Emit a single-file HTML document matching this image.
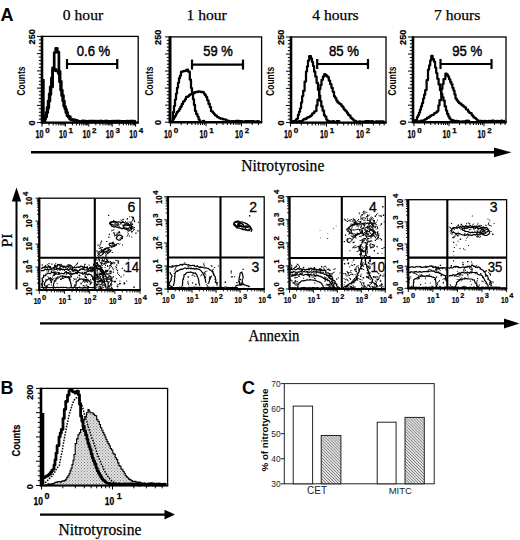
<!DOCTYPE html>
<html><head><meta charset="utf-8"><style>
html,body{margin:0;padding:0;background:#fff;width:520px;height:540px;overflow:hidden}
svg{display:block}
</style></head><body>
<svg width="520" height="540" viewBox="0 0 520 540">
<rect width="520" height="540" fill="#fff"/>
<text x="0.5" y="21" font-family='"Liberation Sans", sans-serif' font-size="18" font-weight="bold" text-anchor="start">A</text>
<text x="0.5" y="394" font-family='"Liberation Sans", sans-serif' font-size="18" font-weight="bold" text-anchor="start">B</text>
<text x="242" y="394" font-family='"Liberation Sans", sans-serif' font-size="18" font-weight="bold" text-anchor="start">C</text>
<text x="83" y="20.0" font-family='"Liberation Serif", serif' font-size="15.6" font-weight="normal" text-anchor="middle" stroke="#000" stroke-width="0.25">0 hour</text>
<text x="206.6" y="20.0" font-family='"Liberation Serif", serif' font-size="15.6" font-weight="normal" text-anchor="middle" stroke="#000" stroke-width="0.25">1 hour</text>
<text x="335.5" y="20.0" font-family='"Liberation Serif", serif' font-size="15.6" font-weight="normal" text-anchor="middle" stroke="#000" stroke-width="0.25">4 hours</text>
<text x="457.2" y="20.0" font-family='"Liberation Serif", serif' font-size="15.6" font-weight="normal" text-anchor="middle" stroke="#000" stroke-width="0.25">7 hours</text>
<rect x="42" y="36.4" width="96.19999999999999" height="86.19999999999999" fill="none" stroke="#000" stroke-width="1.3"/>
<line x1="42.00" y1="35.80" x2="42.00" y2="123.60" stroke="#000" stroke-width="2.6"/>
<line x1="41.50" y1="122.60" x2="138.80" y2="122.60" stroke="#000" stroke-width="2.4"/>
<line x1="37.00" y1="122.60" x2="42.00" y2="122.60" stroke="#000" stroke-width="1.0"/>
<line x1="38.80" y1="119.15" x2="42.00" y2="119.15" stroke="#000" stroke-width="1.0"/>
<line x1="38.80" y1="115.70" x2="42.00" y2="115.70" stroke="#000" stroke-width="1.0"/>
<line x1="38.80" y1="112.26" x2="42.00" y2="112.26" stroke="#000" stroke-width="1.0"/>
<line x1="38.80" y1="108.81" x2="42.00" y2="108.81" stroke="#000" stroke-width="1.0"/>
<line x1="37.00" y1="105.36" x2="42.00" y2="105.36" stroke="#000" stroke-width="1.0"/>
<line x1="38.80" y1="101.91" x2="42.00" y2="101.91" stroke="#000" stroke-width="1.0"/>
<line x1="38.80" y1="98.46" x2="42.00" y2="98.46" stroke="#000" stroke-width="1.0"/>
<line x1="38.80" y1="95.02" x2="42.00" y2="95.02" stroke="#000" stroke-width="1.0"/>
<line x1="38.80" y1="91.57" x2="42.00" y2="91.57" stroke="#000" stroke-width="1.0"/>
<line x1="37.00" y1="88.12" x2="42.00" y2="88.12" stroke="#000" stroke-width="1.0"/>
<line x1="38.80" y1="84.67" x2="42.00" y2="84.67" stroke="#000" stroke-width="1.0"/>
<line x1="38.80" y1="81.22" x2="42.00" y2="81.22" stroke="#000" stroke-width="1.0"/>
<line x1="38.80" y1="77.78" x2="42.00" y2="77.78" stroke="#000" stroke-width="1.0"/>
<line x1="38.80" y1="74.33" x2="42.00" y2="74.33" stroke="#000" stroke-width="1.0"/>
<line x1="37.00" y1="70.88" x2="42.00" y2="70.88" stroke="#000" stroke-width="1.0"/>
<line x1="38.80" y1="67.43" x2="42.00" y2="67.43" stroke="#000" stroke-width="1.0"/>
<line x1="38.80" y1="63.98" x2="42.00" y2="63.98" stroke="#000" stroke-width="1.0"/>
<line x1="38.80" y1="60.54" x2="42.00" y2="60.54" stroke="#000" stroke-width="1.0"/>
<line x1="38.80" y1="57.09" x2="42.00" y2="57.09" stroke="#000" stroke-width="1.0"/>
<line x1="37.00" y1="53.64" x2="42.00" y2="53.64" stroke="#000" stroke-width="1.0"/>
<line x1="38.80" y1="50.19" x2="42.00" y2="50.19" stroke="#000" stroke-width="1.0"/>
<line x1="38.80" y1="46.74" x2="42.00" y2="46.74" stroke="#000" stroke-width="1.0"/>
<line x1="38.80" y1="43.30" x2="42.00" y2="43.30" stroke="#000" stroke-width="1.0"/>
<line x1="38.80" y1="39.85" x2="42.00" y2="39.85" stroke="#000" stroke-width="1.0"/>
<line x1="37.00" y1="36.40" x2="42.00" y2="36.40" stroke="#000" stroke-width="1.0"/>
<line x1="42.00" y1="122.60" x2="42.00" y2="126.60" stroke="#000" stroke-width="1.0"/>
<line x1="49.04" y1="122.60" x2="49.04" y2="125.40" stroke="#000" stroke-width="1.0"/>
<line x1="53.16" y1="122.60" x2="53.16" y2="125.40" stroke="#000" stroke-width="1.0"/>
<line x1="56.09" y1="122.60" x2="56.09" y2="125.40" stroke="#000" stroke-width="1.0"/>
<line x1="58.36" y1="122.60" x2="58.36" y2="125.40" stroke="#000" stroke-width="1.0"/>
<line x1="60.21" y1="122.60" x2="60.21" y2="125.40" stroke="#000" stroke-width="1.0"/>
<line x1="61.78" y1="122.60" x2="61.78" y2="125.40" stroke="#000" stroke-width="1.0"/>
<line x1="63.13" y1="122.60" x2="63.13" y2="125.40" stroke="#000" stroke-width="1.0"/>
<line x1="64.33" y1="122.60" x2="64.33" y2="125.40" stroke="#000" stroke-width="1.0"/>
<line x1="65.40" y1="122.60" x2="65.40" y2="126.60" stroke="#000" stroke-width="1.0"/>
<line x1="72.44" y1="122.60" x2="72.44" y2="125.40" stroke="#000" stroke-width="1.0"/>
<line x1="76.56" y1="122.60" x2="76.56" y2="125.40" stroke="#000" stroke-width="1.0"/>
<line x1="79.49" y1="122.60" x2="79.49" y2="125.40" stroke="#000" stroke-width="1.0"/>
<line x1="81.76" y1="122.60" x2="81.76" y2="125.40" stroke="#000" stroke-width="1.0"/>
<line x1="83.61" y1="122.60" x2="83.61" y2="125.40" stroke="#000" stroke-width="1.0"/>
<line x1="85.18" y1="122.60" x2="85.18" y2="125.40" stroke="#000" stroke-width="1.0"/>
<line x1="86.53" y1="122.60" x2="86.53" y2="125.40" stroke="#000" stroke-width="1.0"/>
<line x1="87.73" y1="122.60" x2="87.73" y2="125.40" stroke="#000" stroke-width="1.0"/>
<line x1="88.80" y1="122.60" x2="88.80" y2="126.60" stroke="#000" stroke-width="1.0"/>
<line x1="95.84" y1="122.60" x2="95.84" y2="125.40" stroke="#000" stroke-width="1.0"/>
<line x1="99.96" y1="122.60" x2="99.96" y2="125.40" stroke="#000" stroke-width="1.0"/>
<line x1="102.89" y1="122.60" x2="102.89" y2="125.40" stroke="#000" stroke-width="1.0"/>
<line x1="105.16" y1="122.60" x2="105.16" y2="125.40" stroke="#000" stroke-width="1.0"/>
<line x1="107.01" y1="122.60" x2="107.01" y2="125.40" stroke="#000" stroke-width="1.0"/>
<line x1="108.58" y1="122.60" x2="108.58" y2="125.40" stroke="#000" stroke-width="1.0"/>
<line x1="109.93" y1="122.60" x2="109.93" y2="125.40" stroke="#000" stroke-width="1.0"/>
<line x1="111.13" y1="122.60" x2="111.13" y2="125.40" stroke="#000" stroke-width="1.0"/>
<line x1="112.20" y1="122.60" x2="112.20" y2="126.60" stroke="#000" stroke-width="1.0"/>
<line x1="119.24" y1="122.60" x2="119.24" y2="125.40" stroke="#000" stroke-width="1.0"/>
<line x1="123.36" y1="122.60" x2="123.36" y2="125.40" stroke="#000" stroke-width="1.0"/>
<line x1="126.29" y1="122.60" x2="126.29" y2="125.40" stroke="#000" stroke-width="1.0"/>
<line x1="128.56" y1="122.60" x2="128.56" y2="125.40" stroke="#000" stroke-width="1.0"/>
<line x1="130.41" y1="122.60" x2="130.41" y2="125.40" stroke="#000" stroke-width="1.0"/>
<line x1="131.98" y1="122.60" x2="131.98" y2="125.40" stroke="#000" stroke-width="1.0"/>
<line x1="133.33" y1="122.60" x2="133.33" y2="125.40" stroke="#000" stroke-width="1.0"/>
<line x1="134.53" y1="122.60" x2="134.53" y2="125.40" stroke="#000" stroke-width="1.0"/>
<line x1="135.60" y1="122.60" x2="135.60" y2="126.60" stroke="#000" stroke-width="1.0"/>
<g font-family='"Liberation Sans", sans-serif' font-weight="bold" stroke="#000" stroke-width="0.25"><text x="35.58" y="137.6" font-size="10" textLength="8.00" lengthAdjust="spacingAndGlyphs">10</text><text x="45.18" y="132.80" font-size="8.00">0</text></g>
<g font-family='"Liberation Sans", sans-serif' font-weight="bold" stroke="#000" stroke-width="0.25"><text x="58.98" y="137.6" font-size="10" textLength="8.00" lengthAdjust="spacingAndGlyphs">10</text><text x="68.58" y="132.80" font-size="8.00">1</text></g>
<g font-family='"Liberation Sans", sans-serif' font-weight="bold" stroke="#000" stroke-width="0.25"><text x="82.38" y="137.6" font-size="10" textLength="8.00" lengthAdjust="spacingAndGlyphs">10</text><text x="91.98" y="132.80" font-size="8.00">2</text></g>
<g font-family='"Liberation Sans", sans-serif' font-weight="bold" stroke="#000" stroke-width="0.25"><text x="105.78" y="137.6" font-size="10" textLength="8.00" lengthAdjust="spacingAndGlyphs">10</text><text x="115.38" y="132.80" font-size="8.00">3</text></g>
<g font-family='"Liberation Sans", sans-serif' font-weight="bold" stroke="#000" stroke-width="0.25"><text x="129.18" y="137.6" font-size="10" textLength="8.00" lengthAdjust="spacingAndGlyphs">10</text><text x="138.78" y="132.80" font-size="8.00">4</text></g>
<text x="34.6" y="36.699999999999996" font-family='"Liberation Sans", sans-serif' font-size="9.2" font-weight="bold" text-anchor="middle" transform="rotate(-90 34.6 36.699999999999996)" stroke="#000" stroke-width="0.2">250</text>
<text x="34.6" y="122.89999999999999" font-family='"Liberation Sans", sans-serif' font-size="9.2" font-weight="bold" text-anchor="middle" transform="rotate(-90 34.6 122.89999999999999)" stroke="#000" stroke-width="0.2">0</text>
<text x="24.6" y="81.0" font-family='"Liberation Sans", sans-serif' font-size="10" font-weight="bold" text-anchor="middle" transform="rotate(-90 24.6 81.0)" textLength="29" lengthAdjust="spacingAndGlyphs">Counts</text>
<line x1="43.60" y1="79.00" x2="43.60" y2="122.60" stroke="#000" stroke-width="2.2"/>
<polyline points="43.1,121.4 45.0,121.4 45.0,116.7 46.0,116.7 46.0,112.5 47.1,112.5 47.1,107.3 48.1,107.3 48.1,100.9 49.2,100.9 49.2,93.9 50.2,93.9 50.2,86.8 51.4,86.8 51.4,77.8 52.6,77.8 52.6,67.8 54.2,67.8 54.2,52.5 55.7,52.5 55.7,48.3 57.3,48.3 57.3,52.2 58.9,52.2 58.9,71.4 60.1,71.4 60.1,81.3 61.3,81.3 61.3,90.0 62.3,90.0 62.3,95.4 63.4,95.4 63.4,101.0 64.4,101.0 64.4,106.5 65.5,106.5 65.5,109.3 66.5,109.3 66.5,112.3 67.6,112.3 67.6,116.1 68.9,116.1 68.9,116.5 70.2,116.5 70.2,118.8 71.5,118.8 71.5,119.6 72.6,119.6 72.6,119.7 73.6,119.7 73.6,119.9 74.7,119.9 74.7,120.3 75.8,120.3 75.8,121.0 76.8,121.0 76.8,120.6 77.9,120.6 77.9,121.2 78.9,121.2 78.9,121.5 80.0,121.5 80.0,121.5 81.0,121.5 81.0,121.6 82.0,121.6 82.0,121.2 83.0,121.2 83.0,121.2 84.0,121.2 84.0,121.3 85.0,121.3 85.0,121.8 86.0,121.8 86.0,121.5 87.0,121.5 87.0,121.4 88.0,121.4 88.0,121.7 89.0,121.7 89.0,121.6 90.0,121.6 90.0,121.4 91.0,121.4 91.0,121.9 92.0,121.9 92.0,121.8 93.0,121.8 93.0,121.3 94.0,121.3 94.0,121.7 95.0,121.7 95.0,121.6 96.0,121.6 96.0,122.0 97.0,122.0 97.0,121.8 98.0,121.8 98.0,121.4 99.0,121.4 99.0,122.0 100.0,122.0 100.0,121.2 101.0,121.2 101.0,121.5 102.0,121.5 102.0,121.9 103.0,121.9 103.0,121.3 104.0,121.3 104.0,121.6 105.0,121.6 105.0,121.1 106.0,121.1 106.0,121.8 107.0,121.8 107.0,121.9 108.0,121.9 108.0,121.7 109.0,121.7 109.0,122.0 110.0,122.0 110.0,121.4 111.0,121.4 111.0,121.8 112.0,121.8 112.0,121.7 113.0,121.7 113.0,121.7 114.0,121.7 114.0,121.6 115.0,121.6 115.0,121.9 116.0,121.9 116.0,122.0 117.0,122.0 117.0,121.6 118.0,121.6 118.0,121.8 119.0,121.8 119.0,121.2 120.0,121.2 120.0,121.8 121.0,121.8 121.0,121.7 122.0,121.7 122.0,122.0 123.0,122.0 123.0,121.9 124.0,121.9 124.0,121.4 125.0,121.4 125.0,121.5 126.0,121.5 126.0,121.8 127.0,121.8 127.0,121.1 128.0,121.1 128.0,121.6 129.0,121.6 129.0,121.3 130.0,121.3 130.0,121.2 131.0,121.2 131.0,121.2 132.0,121.2 132.0,121.9 133.0,121.9 133.0,121.2 134.0,121.2 134.0,121.3 135.0,121.3 135.0,121.5 136.0,121.6" fill="none" stroke="#000" stroke-width="2.7" stroke-linejoin="round"/>
<polyline points="43.6,122.0 44.6,122.0 44.6,118.9 45.6,118.9 45.6,116.9 46.7,116.9 46.7,112.4 47.8,112.4 47.8,108.1 48.8,108.1 48.8,101.2 49.9,101.2 49.9,94.4 50.9,94.4 50.9,87.0 52.6,87.0 52.6,70.4 54.5,70.4 54.5,69.4 56.0,69.4 56.0,70.9 57.0,70.9 57.0,71.2 58.0,71.2 58.0,70.7 58.4,70.7 58.4,73.7 59.5,73.7 59.5,81.9 60.6,81.9 60.6,90.1 61.6,90.1 61.6,95.6 62.7,95.6 62.7,101.0 63.7,101.0 63.7,105.9 64.8,105.9 64.8,108.8 65.8,108.8 65.8,112.4 66.9,112.4 66.9,115.5 68.2,115.5 68.2,117.1 69.5,117.1 69.5,118.9 70.8,118.9 70.8,120.0 71.8,120.0 71.8,120.0 72.8,120.0 72.8,120.3 73.9,120.3 73.9,120.6 74.9,120.6 74.9,120.2 75.9,120.2 75.9,121.2 76.9,121.2 76.9,121.3 78.0,121.3 78.0,121.6 79.0,121.6 79.0,121.7 80.0,121.7 80.0,121.5 81.0,121.5 81.0,121.5 82.0,121.5 82.0,121.2 83.0,121.2 83.0,121.7 84.0,121.7 84.0,121.2 85.0,121.2 85.0,121.2 86.0,121.2 86.0,121.3 87.0,121.3 87.0,121.3 88.0,121.3 88.0,121.4 89.0,121.4 89.0,121.2 90.0,121.2 90.0,121.1 91.0,121.1 91.0,121.3 92.0,121.3 92.0,121.2 93.0,121.2 93.0,121.5 94.0,121.5 94.0,121.1 95.0,121.1 95.0,122.0 96.0,122.0 96.0,121.7 97.0,121.7 97.0,121.2 98.0,121.2 98.0,121.4 99.0,121.4 99.0,121.4 100.0,121.4 100.0,121.5 101.0,121.5 101.0,121.2 102.0,121.2 102.0,121.9 103.0,121.9 103.0,122.0 104.0,122.0 104.0,121.6 105.0,121.6 105.0,121.6 106.0,121.6 106.0,121.2 107.0,121.2 107.0,121.2 108.0,121.2 108.0,121.4 109.0,121.4 109.0,121.4 110.0,121.4 110.0,121.9 111.0,121.9 111.0,121.3 112.0,121.3 112.0,121.1 113.0,121.1 113.0,122.0 114.0,122.0 114.0,121.6 115.0,121.6 115.0,121.2 116.0,121.2 116.0,121.6 117.0,121.6 117.0,121.1 118.0,121.1 118.0,121.6 119.0,121.6 119.0,122.0 120.0,122.0 120.0,122.0 121.0,122.0 121.0,121.8 122.0,121.8 122.0,121.4 123.0,121.4 123.0,121.5 124.0,121.5 124.0,121.3 125.0,121.3 125.0,121.9 126.0,121.9 126.0,121.6 127.0,121.6 127.0,121.9 128.0,121.9 128.0,121.4 129.0,121.4 129.0,121.3 130.0,121.3 130.0,121.9 131.0,121.9 131.0,122.0 132.0,122.0 132.0,122.0 133.0,122.0 133.0,121.9 134.0,121.9 134.0,121.9 135.0,121.9 135.0,121.8 136.0,121.6" fill="none" stroke="#000" stroke-width="2.7" stroke-linejoin="round"/>
<line x1="67.00" y1="64.00" x2="117.20" y2="64.00" stroke="#000" stroke-width="2.2"/>
<line x1="67.00" y1="59.00" x2="67.00" y2="69.00" stroke="#000" stroke-width="2.2"/>
<line x1="117.20" y1="59.00" x2="117.20" y2="69.00" stroke="#000" stroke-width="2.2"/>
<text x="93.5" y="55.6" font-family='"Liberation Sans", sans-serif' font-size="14.4" font-weight="normal" text-anchor="middle" textLength="33.5" lengthAdjust="spacingAndGlyphs" stroke="#000" stroke-width="0.45">0.6 %</text>
<rect x="170" y="36.9" width="91.60000000000002" height="85.30000000000001" fill="none" stroke="#000" stroke-width="1.3"/>
<line x1="170.00" y1="36.30" x2="170.00" y2="123.20" stroke="#000" stroke-width="3.0"/>
<line x1="169.50" y1="122.20" x2="262.20" y2="122.20" stroke="#000" stroke-width="2.4"/>
<line x1="165.00" y1="122.20" x2="170.00" y2="122.20" stroke="#000" stroke-width="1.0"/>
<line x1="166.80" y1="118.79" x2="170.00" y2="118.79" stroke="#000" stroke-width="1.0"/>
<line x1="166.80" y1="115.38" x2="170.00" y2="115.38" stroke="#000" stroke-width="1.0"/>
<line x1="166.80" y1="111.96" x2="170.00" y2="111.96" stroke="#000" stroke-width="1.0"/>
<line x1="166.80" y1="108.55" x2="170.00" y2="108.55" stroke="#000" stroke-width="1.0"/>
<line x1="165.00" y1="105.14" x2="170.00" y2="105.14" stroke="#000" stroke-width="1.0"/>
<line x1="166.80" y1="101.73" x2="170.00" y2="101.73" stroke="#000" stroke-width="1.0"/>
<line x1="166.80" y1="98.32" x2="170.00" y2="98.32" stroke="#000" stroke-width="1.0"/>
<line x1="166.80" y1="94.90" x2="170.00" y2="94.90" stroke="#000" stroke-width="1.0"/>
<line x1="166.80" y1="91.49" x2="170.00" y2="91.49" stroke="#000" stroke-width="1.0"/>
<line x1="165.00" y1="88.08" x2="170.00" y2="88.08" stroke="#000" stroke-width="1.0"/>
<line x1="166.80" y1="84.67" x2="170.00" y2="84.67" stroke="#000" stroke-width="1.0"/>
<line x1="166.80" y1="81.26" x2="170.00" y2="81.26" stroke="#000" stroke-width="1.0"/>
<line x1="166.80" y1="77.84" x2="170.00" y2="77.84" stroke="#000" stroke-width="1.0"/>
<line x1="166.80" y1="74.43" x2="170.00" y2="74.43" stroke="#000" stroke-width="1.0"/>
<line x1="165.00" y1="71.02" x2="170.00" y2="71.02" stroke="#000" stroke-width="1.0"/>
<line x1="166.80" y1="67.61" x2="170.00" y2="67.61" stroke="#000" stroke-width="1.0"/>
<line x1="166.80" y1="64.20" x2="170.00" y2="64.20" stroke="#000" stroke-width="1.0"/>
<line x1="166.80" y1="60.78" x2="170.00" y2="60.78" stroke="#000" stroke-width="1.0"/>
<line x1="166.80" y1="57.37" x2="170.00" y2="57.37" stroke="#000" stroke-width="1.0"/>
<line x1="165.00" y1="53.96" x2="170.00" y2="53.96" stroke="#000" stroke-width="1.0"/>
<line x1="166.80" y1="50.55" x2="170.00" y2="50.55" stroke="#000" stroke-width="1.0"/>
<line x1="166.80" y1="47.14" x2="170.00" y2="47.14" stroke="#000" stroke-width="1.0"/>
<line x1="166.80" y1="43.72" x2="170.00" y2="43.72" stroke="#000" stroke-width="1.0"/>
<line x1="166.80" y1="40.31" x2="170.00" y2="40.31" stroke="#000" stroke-width="1.0"/>
<line x1="165.00" y1="36.90" x2="170.00" y2="36.90" stroke="#000" stroke-width="1.0"/>
<line x1="170.50" y1="122.20" x2="170.50" y2="126.20" stroke="#000" stroke-width="1.0"/>
<line x1="181.19" y1="122.20" x2="181.19" y2="125.00" stroke="#000" stroke-width="1.0"/>
<line x1="187.44" y1="122.20" x2="187.44" y2="125.00" stroke="#000" stroke-width="1.0"/>
<line x1="191.87" y1="122.20" x2="191.87" y2="125.00" stroke="#000" stroke-width="1.0"/>
<line x1="195.31" y1="122.20" x2="195.31" y2="125.00" stroke="#000" stroke-width="1.0"/>
<line x1="198.12" y1="122.20" x2="198.12" y2="125.00" stroke="#000" stroke-width="1.0"/>
<line x1="200.50" y1="122.20" x2="200.50" y2="125.00" stroke="#000" stroke-width="1.0"/>
<line x1="202.56" y1="122.20" x2="202.56" y2="125.00" stroke="#000" stroke-width="1.0"/>
<line x1="204.38" y1="122.20" x2="204.38" y2="125.00" stroke="#000" stroke-width="1.0"/>
<line x1="206.00" y1="122.20" x2="206.00" y2="126.20" stroke="#000" stroke-width="1.0"/>
<line x1="216.69" y1="122.20" x2="216.69" y2="125.00" stroke="#000" stroke-width="1.0"/>
<line x1="222.94" y1="122.20" x2="222.94" y2="125.00" stroke="#000" stroke-width="1.0"/>
<line x1="227.37" y1="122.20" x2="227.37" y2="125.00" stroke="#000" stroke-width="1.0"/>
<line x1="230.81" y1="122.20" x2="230.81" y2="125.00" stroke="#000" stroke-width="1.0"/>
<line x1="233.62" y1="122.20" x2="233.62" y2="125.00" stroke="#000" stroke-width="1.0"/>
<line x1="236.00" y1="122.20" x2="236.00" y2="125.00" stroke="#000" stroke-width="1.0"/>
<line x1="238.06" y1="122.20" x2="238.06" y2="125.00" stroke="#000" stroke-width="1.0"/>
<line x1="239.88" y1="122.20" x2="239.88" y2="125.00" stroke="#000" stroke-width="1.0"/>
<line x1="241.50" y1="122.20" x2="241.50" y2="126.20" stroke="#000" stroke-width="1.0"/>
<line x1="252.19" y1="122.20" x2="252.19" y2="125.00" stroke="#000" stroke-width="1.0"/>
<line x1="258.44" y1="122.20" x2="258.44" y2="125.00" stroke="#000" stroke-width="1.0"/>
<g font-family='"Liberation Sans", sans-serif' font-weight="bold" stroke="#000" stroke-width="0.25"><text x="164.08" y="137.6" font-size="10" textLength="8.00" lengthAdjust="spacingAndGlyphs">10</text><text x="173.68" y="132.80" font-size="8.00">0</text></g>
<g font-family='"Liberation Sans", sans-serif' font-weight="bold" stroke="#000" stroke-width="0.25"><text x="199.58" y="137.6" font-size="10" textLength="8.00" lengthAdjust="spacingAndGlyphs">10</text><text x="209.18" y="132.80" font-size="8.00">1</text></g>
<g font-family='"Liberation Sans", sans-serif' font-weight="bold" stroke="#000" stroke-width="0.25"><text x="235.08" y="137.6" font-size="10" textLength="8.00" lengthAdjust="spacingAndGlyphs">10</text><text x="244.68" y="132.80" font-size="8.00">2</text></g>
<text x="161.4" y="37.199999999999996" font-family='"Liberation Sans", sans-serif' font-size="9.2" font-weight="bold" text-anchor="middle" transform="rotate(-90 161.4 37.199999999999996)" stroke="#000" stroke-width="0.2">250</text>
<text x="161.4" y="122.5" font-family='"Liberation Sans", sans-serif' font-size="9.2" font-weight="bold" text-anchor="middle" transform="rotate(-90 161.4 122.5)" stroke="#000" stroke-width="0.2">0</text>
<text x="152.6" y="81.05" font-family='"Liberation Sans", sans-serif' font-size="10" font-weight="bold" text-anchor="middle" transform="rotate(-90 152.6 81.05)" textLength="29" lengthAdjust="spacingAndGlyphs">Counts</text>
<polyline points="171.5,120.9 173.0,120.9 173.0,112.0 174.0,112.0 174.0,105.9 175.0,105.9 175.0,99.5 176.0,99.5 176.0,93.5 177.0,93.5 177.0,87.8 178.0,87.8 178.0,82.8 179.0,82.8 179.0,78.2 180.0,78.2 180.0,75.5 181.0,75.5 181.0,71.9 182.0,71.9 182.0,71.7 183.0,71.7 183.0,71.0 184.0,71.0 184.0,71.2 185.0,71.2 185.0,70.9 186.0,70.9 186.0,70.2 187.0,70.2 187.0,69.7 188.0,69.7 188.0,71.7 189.8,71.7 189.8,79.7 191.0,79.7 191.0,88.1 192.0,88.1 192.0,93.9 193.0,93.9 193.0,99.3 194.0,99.3 194.0,104.9 195.0,104.9 195.0,111.0 196.2,111.0 196.2,114.2 197.5,114.2 197.5,116.6 198.6,116.6 198.6,119.3 199.6,119.3 199.6,121.6 200.7,121.6 200.7,121.5 201.8,121.5 201.8,121.5 202.8,121.5 202.8,121.2 203.9,121.2 203.9,120.9 205.0,121.2" fill="none" stroke="#000" stroke-width="2.25" stroke-linejoin="round"/>
<polyline points="171.5,121.5 172.8,121.5 172.8,118.9 174.0,118.9 174.0,117.3 175.0,117.3 175.0,115.8 176.0,115.8 176.0,113.6 177.0,113.6 177.0,111.9 178.1,111.9 178.1,110.8 179.3,110.8 179.3,108.9 180.4,108.9 180.4,106.7 181.7,106.7 181.7,104.1 183.0,104.1 183.0,101.7 184.0,101.7 184.0,100.8 185.0,100.8 185.0,99.2 186.0,99.2 186.0,96.9 187.0,96.9 187.0,96.9 188.0,96.9 188.0,96.2 189.0,96.2 189.0,95.2 190.0,95.2 190.0,94.4 191.0,94.4 191.0,94.0 192.0,94.0 192.0,93.1 193.0,93.1 193.0,92.5 194.0,92.5 194.0,93.0 195.0,93.0 195.0,92.1 196.2,92.1 196.2,91.8 197.3,91.8 197.3,92.0 198.4,92.0 198.4,91.3 199.6,91.3 199.6,91.6 200.7,91.6 200.7,92.0 201.9,92.0 201.9,91.8 203.0,91.8 203.0,92.3 204.0,92.3 204.0,93.8 205.0,93.8 205.0,95.2 206.0,95.2 206.0,97.1 207.2,97.1 207.2,100.3 208.5,100.3 208.5,103.9 209.8,103.9 209.8,107.0 211.0,107.0 211.0,111.2 212.0,111.2 212.0,111.7 213.0,111.7 213.0,112.9 214.0,112.9 214.0,114.0 215.0,114.0 215.0,115.4 216.0,115.4 216.0,115.7 217.0,115.7 217.0,116.9 218.0,116.9 218.0,117.3 219.0,117.3 219.0,118.0 220.2,118.0 220.2,118.5 221.5,118.5 221.5,118.5 222.7,118.5 222.7,119.3 223.9,119.3 223.9,119.4 225.0,119.4 225.0,119.6 226.2,119.6 226.2,120.8 227.3,120.8 227.3,120.5 228.5,120.5 228.5,121.2 229.5,121.2 229.5,121.4 230.6,121.4 230.6,121.3 231.6,121.3 231.6,121.0 232.7,121.0 232.7,121.2 233.7,121.2 233.7,121.3 234.8,121.3 234.8,121.5 235.8,121.5 235.8,120.8 236.9,120.8 236.9,121.3 237.9,121.3 237.9,120.9 239.0,120.9 239.0,121.0 240.0,121.0 240.0,121.5 241.0,121.5 241.0,121.2 242.0,121.2 242.0,121.3 243.0,121.3 243.0,121.5 244.0,121.5 244.0,121.6 245.0,121.6 245.0,121.1 246.0,121.1 246.0,121.3 247.0,121.3 247.0,121.2 248.0,121.2 248.0,121.2 249.0,121.2 249.0,121.4 250.0,121.4 250.0,121.2 251.0,121.2 251.0,121.2 252.0,121.2 252.0,121.2 253.0,121.2 253.0,121.6 254.0,121.6 254.0,121.4 255.0,121.4 255.0,121.6 256.0,121.6 256.0,121.6 257.0,121.6 257.0,121.0 258.0,121.0 258.0,121.3 259.0,121.3 259.0,121.6 260.0,121.2" fill="none" stroke="#000" stroke-width="2.25" stroke-linejoin="round"/>
<line x1="192.00" y1="64.60" x2="243.00" y2="64.60" stroke="#000" stroke-width="2.2"/>
<line x1="192.00" y1="59.60" x2="192.00" y2="69.60" stroke="#000" stroke-width="2.2"/>
<line x1="243.00" y1="59.60" x2="243.00" y2="69.60" stroke="#000" stroke-width="2.2"/>
<text x="218" y="55.6" font-family='"Liberation Sans", sans-serif' font-size="14.4" font-weight="normal" text-anchor="middle" textLength="29.5" lengthAdjust="spacingAndGlyphs" stroke="#000" stroke-width="0.45">59 %</text>
<rect x="291" y="37" width="95" height="85.6" fill="none" stroke="#000" stroke-width="1.3"/>
<line x1="291.00" y1="36.40" x2="291.00" y2="123.60" stroke="#000" stroke-width="2.6"/>
<line x1="290.50" y1="122.60" x2="386.60" y2="122.60" stroke="#000" stroke-width="2.4"/>
<line x1="286.00" y1="122.60" x2="291.00" y2="122.60" stroke="#000" stroke-width="1.0"/>
<line x1="287.80" y1="119.18" x2="291.00" y2="119.18" stroke="#000" stroke-width="1.0"/>
<line x1="287.80" y1="115.75" x2="291.00" y2="115.75" stroke="#000" stroke-width="1.0"/>
<line x1="287.80" y1="112.33" x2="291.00" y2="112.33" stroke="#000" stroke-width="1.0"/>
<line x1="287.80" y1="108.90" x2="291.00" y2="108.90" stroke="#000" stroke-width="1.0"/>
<line x1="286.00" y1="105.48" x2="291.00" y2="105.48" stroke="#000" stroke-width="1.0"/>
<line x1="287.80" y1="102.06" x2="291.00" y2="102.06" stroke="#000" stroke-width="1.0"/>
<line x1="287.80" y1="98.63" x2="291.00" y2="98.63" stroke="#000" stroke-width="1.0"/>
<line x1="287.80" y1="95.21" x2="291.00" y2="95.21" stroke="#000" stroke-width="1.0"/>
<line x1="287.80" y1="91.78" x2="291.00" y2="91.78" stroke="#000" stroke-width="1.0"/>
<line x1="286.00" y1="88.36" x2="291.00" y2="88.36" stroke="#000" stroke-width="1.0"/>
<line x1="287.80" y1="84.94" x2="291.00" y2="84.94" stroke="#000" stroke-width="1.0"/>
<line x1="287.80" y1="81.51" x2="291.00" y2="81.51" stroke="#000" stroke-width="1.0"/>
<line x1="287.80" y1="78.09" x2="291.00" y2="78.09" stroke="#000" stroke-width="1.0"/>
<line x1="287.80" y1="74.66" x2="291.00" y2="74.66" stroke="#000" stroke-width="1.0"/>
<line x1="286.00" y1="71.24" x2="291.00" y2="71.24" stroke="#000" stroke-width="1.0"/>
<line x1="287.80" y1="67.82" x2="291.00" y2="67.82" stroke="#000" stroke-width="1.0"/>
<line x1="287.80" y1="64.39" x2="291.00" y2="64.39" stroke="#000" stroke-width="1.0"/>
<line x1="287.80" y1="60.97" x2="291.00" y2="60.97" stroke="#000" stroke-width="1.0"/>
<line x1="287.80" y1="57.54" x2="291.00" y2="57.54" stroke="#000" stroke-width="1.0"/>
<line x1="286.00" y1="54.12" x2="291.00" y2="54.12" stroke="#000" stroke-width="1.0"/>
<line x1="287.80" y1="50.70" x2="291.00" y2="50.70" stroke="#000" stroke-width="1.0"/>
<line x1="287.80" y1="47.27" x2="291.00" y2="47.27" stroke="#000" stroke-width="1.0"/>
<line x1="287.80" y1="43.85" x2="291.00" y2="43.85" stroke="#000" stroke-width="1.0"/>
<line x1="287.80" y1="40.42" x2="291.00" y2="40.42" stroke="#000" stroke-width="1.0"/>
<line x1="286.00" y1="37.00" x2="291.00" y2="37.00" stroke="#000" stroke-width="1.0"/>
<line x1="290.50" y1="122.60" x2="290.50" y2="126.60" stroke="#000" stroke-width="1.0"/>
<line x1="301.34" y1="122.60" x2="301.34" y2="125.40" stroke="#000" stroke-width="1.0"/>
<line x1="307.68" y1="122.60" x2="307.68" y2="125.40" stroke="#000" stroke-width="1.0"/>
<line x1="312.17" y1="122.60" x2="312.17" y2="125.40" stroke="#000" stroke-width="1.0"/>
<line x1="315.66" y1="122.60" x2="315.66" y2="125.40" stroke="#000" stroke-width="1.0"/>
<line x1="318.51" y1="122.60" x2="318.51" y2="125.40" stroke="#000" stroke-width="1.0"/>
<line x1="320.92" y1="122.60" x2="320.92" y2="125.40" stroke="#000" stroke-width="1.0"/>
<line x1="323.01" y1="122.60" x2="323.01" y2="125.40" stroke="#000" stroke-width="1.0"/>
<line x1="324.85" y1="122.60" x2="324.85" y2="125.40" stroke="#000" stroke-width="1.0"/>
<line x1="326.50" y1="122.60" x2="326.50" y2="126.60" stroke="#000" stroke-width="1.0"/>
<line x1="337.34" y1="122.60" x2="337.34" y2="125.40" stroke="#000" stroke-width="1.0"/>
<line x1="343.68" y1="122.60" x2="343.68" y2="125.40" stroke="#000" stroke-width="1.0"/>
<line x1="348.17" y1="122.60" x2="348.17" y2="125.40" stroke="#000" stroke-width="1.0"/>
<line x1="351.66" y1="122.60" x2="351.66" y2="125.40" stroke="#000" stroke-width="1.0"/>
<line x1="354.51" y1="122.60" x2="354.51" y2="125.40" stroke="#000" stroke-width="1.0"/>
<line x1="356.92" y1="122.60" x2="356.92" y2="125.40" stroke="#000" stroke-width="1.0"/>
<line x1="359.01" y1="122.60" x2="359.01" y2="125.40" stroke="#000" stroke-width="1.0"/>
<line x1="360.85" y1="122.60" x2="360.85" y2="125.40" stroke="#000" stroke-width="1.0"/>
<line x1="362.50" y1="122.60" x2="362.50" y2="126.60" stroke="#000" stroke-width="1.0"/>
<line x1="373.34" y1="122.60" x2="373.34" y2="125.40" stroke="#000" stroke-width="1.0"/>
<line x1="379.68" y1="122.60" x2="379.68" y2="125.40" stroke="#000" stroke-width="1.0"/>
<line x1="384.17" y1="122.60" x2="384.17" y2="125.40" stroke="#000" stroke-width="1.0"/>
<g font-family='"Liberation Sans", sans-serif' font-weight="bold" stroke="#000" stroke-width="0.25"><text x="284.08" y="137.6" font-size="10" textLength="8.00" lengthAdjust="spacingAndGlyphs">10</text><text x="293.68" y="132.80" font-size="8.00">0</text></g>
<g font-family='"Liberation Sans", sans-serif' font-weight="bold" stroke="#000" stroke-width="0.25"><text x="320.08" y="137.6" font-size="10" textLength="8.00" lengthAdjust="spacingAndGlyphs">10</text><text x="329.68" y="132.80" font-size="8.00">1</text></g>
<g font-family='"Liberation Sans", sans-serif' font-weight="bold" stroke="#000" stroke-width="0.25"><text x="356.08" y="137.6" font-size="10" textLength="8.00" lengthAdjust="spacingAndGlyphs">10</text><text x="365.68" y="132.80" font-size="8.00">2</text></g>
<text x="283.6" y="37.3" font-family='"Liberation Sans", sans-serif' font-size="9.2" font-weight="bold" text-anchor="middle" transform="rotate(-90 283.6 37.3)" stroke="#000" stroke-width="0.2">250</text>
<text x="283.6" y="122.89999999999999" font-family='"Liberation Sans", sans-serif' font-size="9.2" font-weight="bold" text-anchor="middle" transform="rotate(-90 283.6 122.89999999999999)" stroke="#000" stroke-width="0.2">0</text>
<text x="273.6" y="81.3" font-family='"Liberation Sans", sans-serif' font-size="10" font-weight="bold" text-anchor="middle" transform="rotate(-90 273.6 81.3)" textLength="29" lengthAdjust="spacingAndGlyphs">Counts</text>
<polyline points="292.0,121.9 293.0,121.9 293.0,121.2 294.0,121.2 294.0,121.2 295.0,121.2 295.0,120.6 296.0,120.6 296.0,119.3 297.0,119.3 297.0,118.5 298.0,118.5 298.0,114.8 299.0,114.8 299.0,111.8 300.0,111.8 300.0,108.3 301.1,108.3 301.1,102.6 302.1,102.6 302.1,96.1 303.2,96.1 303.2,90.8 304.6,90.8 304.6,81.5 306.0,81.5 306.0,71.6 307.0,71.6 307.0,66.4 308.0,66.4 308.0,60.5 309.2,60.5 309.2,56.0 311.0,56.0 311.0,58.5 312.0,58.5 312.0,61.9 313.0,61.9 313.0,66.0 314.1,66.0 314.1,71.7 315.3,71.7 315.3,76.7 316.6,76.7 316.6,82.9 318.0,82.9 318.0,89.9 319.1,89.9 319.1,95.6 320.2,95.6 320.2,101.0 321.3,101.0 321.3,106.4 322.6,106.4 322.6,110.7 324.0,110.7 324.0,115.2 325.1,115.2 325.1,116.7 326.3,116.7 326.3,119.5 327.4,119.5 327.4,121.5 328.4,121.5 328.4,121.1 329.5,121.1 329.5,121.4 330.5,121.4 330.5,121.7 331.6,121.7 331.6,121.6 332.6,121.6 332.6,121.2 333.7,121.2 333.7,122.0 334.8,122.0 334.8,121.9 335.8,121.9 335.8,122.0 336.9,122.0 336.9,121.2 337.9,121.2 337.9,121.4 338.9,121.4 338.9,121.1 340.0,121.6" fill="none" stroke="#000" stroke-width="2.25" stroke-linejoin="round"/>
<polyline points="292.0,121.9 293.0,121.9 293.0,121.4 294.0,121.4 294.0,121.2 295.0,121.2 295.0,121.5 296.0,121.5 296.0,122.0 297.0,122.0 297.0,121.9 298.0,121.9 298.0,121.4 299.0,121.4 299.0,121.2 300.0,121.2 300.0,122.0 301.0,122.0 301.0,121.1 302.1,121.1 302.1,120.7 303.1,120.7 303.1,119.5 304.2,119.5 304.2,118.9 305.2,118.9 305.2,119.0 306.4,119.0 306.4,118.0 307.6,118.0 307.6,117.0 308.8,117.0 308.8,117.1 310.0,117.1 310.0,116.1 311.1,116.1 311.1,115.3 312.1,115.3 312.1,113.5 313.2,113.5 313.2,113.2 314.2,113.2 314.2,111.4 315.3,111.4 315.3,111.2 316.4,111.2 316.4,105.4 317.5,105.4 317.5,99.8 319.3,99.8 319.3,89.1 320.4,89.1 320.4,84.9 321.5,84.9 321.5,79.8 322.9,79.8 322.9,76.6 324.3,76.6 324.3,74.0 325.4,74.0 325.4,74.9 326.4,74.9 326.4,75.9 327.5,75.9 327.5,77.2 328.8,77.2 328.8,80.6 330.1,80.6 330.1,84.2 331.4,84.2 331.4,87.8 332.7,87.8 332.7,91.8 334.0,91.8 334.0,96.3 335.2,96.3 335.2,98.0 336.3,98.0 336.3,100.5 337.5,100.5 337.5,102.4 338.8,102.4 338.8,103.4 340.0,103.4 340.0,104.0 341.2,104.0 341.2,105.7 342.4,105.7 342.4,106.9 343.6,106.9 343.6,109.0 344.7,109.0 344.7,110.3 345.9,110.3 345.9,111.3 347.0,111.3 347.0,113.0 348.1,113.0 348.1,114.9 349.3,114.9 349.3,115.5 350.5,115.5 350.5,117.7 351.6,117.7 351.6,118.7 352.7,118.7 352.7,119.5 353.8,119.5 353.8,120.5 354.9,120.5 354.9,120.8 356.0,120.8 356.0,121.6 357.1,121.6 357.1,121.8 358.3,121.8 358.3,122.0 359.4,122.0 359.4,121.4 360.6,121.4 360.6,121.9 361.7,121.9 361.7,121.8 362.7,121.8 362.7,121.7 363.7,121.7 363.7,121.5 364.7,121.5 364.7,121.4 365.8,121.4 365.8,121.2 366.8,121.2 366.8,121.2 367.8,121.2 367.8,121.2 368.8,121.2 368.8,121.8 369.8,121.8 369.8,121.4 370.8,121.4 370.8,121.3 371.8,121.3 371.8,121.2 372.8,121.2 372.8,121.9 373.9,121.9 373.9,122.0 374.9,122.0 374.9,121.8 375.9,121.8 375.9,121.4 376.9,121.4 376.9,121.3 377.9,121.3 377.9,121.4 378.9,121.4 378.9,121.6 379.9,121.6 379.9,121.3 380.9,121.3 380.9,121.5 382.0,121.5 382.0,121.4 383.0,121.4 383.0,122.0 384.0,122.0 384.0,122.0 385.0,121.6" fill="none" stroke="#000" stroke-width="2.25" stroke-linejoin="round"/>
<line x1="317.20" y1="64.00" x2="368.00" y2="64.00" stroke="#000" stroke-width="2.2"/>
<line x1="317.20" y1="59.00" x2="317.20" y2="69.00" stroke="#000" stroke-width="2.2"/>
<line x1="368.00" y1="59.00" x2="368.00" y2="69.00" stroke="#000" stroke-width="2.2"/>
<text x="344" y="55.6" font-family='"Liberation Sans", sans-serif' font-size="14.4" font-weight="normal" text-anchor="middle" textLength="30" lengthAdjust="spacingAndGlyphs" stroke="#000" stroke-width="0.45">85 %</text>
<rect x="413" y="37" width="93" height="85.2" fill="none" stroke="#000" stroke-width="1.3"/>
<line x1="413.00" y1="36.40" x2="413.00" y2="123.20" stroke="#000" stroke-width="2.6"/>
<line x1="412.50" y1="122.20" x2="506.60" y2="122.20" stroke="#000" stroke-width="2.4"/>
<line x1="408.00" y1="122.20" x2="413.00" y2="122.20" stroke="#000" stroke-width="1.0"/>
<line x1="409.80" y1="118.79" x2="413.00" y2="118.79" stroke="#000" stroke-width="1.0"/>
<line x1="409.80" y1="115.38" x2="413.00" y2="115.38" stroke="#000" stroke-width="1.0"/>
<line x1="409.80" y1="111.98" x2="413.00" y2="111.98" stroke="#000" stroke-width="1.0"/>
<line x1="409.80" y1="108.57" x2="413.00" y2="108.57" stroke="#000" stroke-width="1.0"/>
<line x1="408.00" y1="105.16" x2="413.00" y2="105.16" stroke="#000" stroke-width="1.0"/>
<line x1="409.80" y1="101.75" x2="413.00" y2="101.75" stroke="#000" stroke-width="1.0"/>
<line x1="409.80" y1="98.34" x2="413.00" y2="98.34" stroke="#000" stroke-width="1.0"/>
<line x1="409.80" y1="94.94" x2="413.00" y2="94.94" stroke="#000" stroke-width="1.0"/>
<line x1="409.80" y1="91.53" x2="413.00" y2="91.53" stroke="#000" stroke-width="1.0"/>
<line x1="408.00" y1="88.12" x2="413.00" y2="88.12" stroke="#000" stroke-width="1.0"/>
<line x1="409.80" y1="84.71" x2="413.00" y2="84.71" stroke="#000" stroke-width="1.0"/>
<line x1="409.80" y1="81.30" x2="413.00" y2="81.30" stroke="#000" stroke-width="1.0"/>
<line x1="409.80" y1="77.90" x2="413.00" y2="77.90" stroke="#000" stroke-width="1.0"/>
<line x1="409.80" y1="74.49" x2="413.00" y2="74.49" stroke="#000" stroke-width="1.0"/>
<line x1="408.00" y1="71.08" x2="413.00" y2="71.08" stroke="#000" stroke-width="1.0"/>
<line x1="409.80" y1="67.67" x2="413.00" y2="67.67" stroke="#000" stroke-width="1.0"/>
<line x1="409.80" y1="64.26" x2="413.00" y2="64.26" stroke="#000" stroke-width="1.0"/>
<line x1="409.80" y1="60.86" x2="413.00" y2="60.86" stroke="#000" stroke-width="1.0"/>
<line x1="409.80" y1="57.45" x2="413.00" y2="57.45" stroke="#000" stroke-width="1.0"/>
<line x1="408.00" y1="54.04" x2="413.00" y2="54.04" stroke="#000" stroke-width="1.0"/>
<line x1="409.80" y1="50.63" x2="413.00" y2="50.63" stroke="#000" stroke-width="1.0"/>
<line x1="409.80" y1="47.22" x2="413.00" y2="47.22" stroke="#000" stroke-width="1.0"/>
<line x1="409.80" y1="43.82" x2="413.00" y2="43.82" stroke="#000" stroke-width="1.0"/>
<line x1="409.80" y1="40.41" x2="413.00" y2="40.41" stroke="#000" stroke-width="1.0"/>
<line x1="408.00" y1="37.00" x2="413.00" y2="37.00" stroke="#000" stroke-width="1.0"/>
<line x1="414.00" y1="122.20" x2="414.00" y2="126.20" stroke="#000" stroke-width="1.0"/>
<line x1="424.54" y1="122.20" x2="424.54" y2="125.00" stroke="#000" stroke-width="1.0"/>
<line x1="430.70" y1="122.20" x2="430.70" y2="125.00" stroke="#000" stroke-width="1.0"/>
<line x1="435.07" y1="122.20" x2="435.07" y2="125.00" stroke="#000" stroke-width="1.0"/>
<line x1="438.46" y1="122.20" x2="438.46" y2="125.00" stroke="#000" stroke-width="1.0"/>
<line x1="441.24" y1="122.20" x2="441.24" y2="125.00" stroke="#000" stroke-width="1.0"/>
<line x1="443.58" y1="122.20" x2="443.58" y2="125.00" stroke="#000" stroke-width="1.0"/>
<line x1="445.61" y1="122.20" x2="445.61" y2="125.00" stroke="#000" stroke-width="1.0"/>
<line x1="447.40" y1="122.20" x2="447.40" y2="125.00" stroke="#000" stroke-width="1.0"/>
<line x1="449.00" y1="122.20" x2="449.00" y2="126.20" stroke="#000" stroke-width="1.0"/>
<line x1="459.54" y1="122.20" x2="459.54" y2="125.00" stroke="#000" stroke-width="1.0"/>
<line x1="465.70" y1="122.20" x2="465.70" y2="125.00" stroke="#000" stroke-width="1.0"/>
<line x1="470.07" y1="122.20" x2="470.07" y2="125.00" stroke="#000" stroke-width="1.0"/>
<line x1="473.46" y1="122.20" x2="473.46" y2="125.00" stroke="#000" stroke-width="1.0"/>
<line x1="476.24" y1="122.20" x2="476.24" y2="125.00" stroke="#000" stroke-width="1.0"/>
<line x1="478.58" y1="122.20" x2="478.58" y2="125.00" stroke="#000" stroke-width="1.0"/>
<line x1="480.61" y1="122.20" x2="480.61" y2="125.00" stroke="#000" stroke-width="1.0"/>
<line x1="482.40" y1="122.20" x2="482.40" y2="125.00" stroke="#000" stroke-width="1.0"/>
<line x1="484.00" y1="122.20" x2="484.00" y2="126.20" stroke="#000" stroke-width="1.0"/>
<line x1="494.54" y1="122.20" x2="494.54" y2="125.00" stroke="#000" stroke-width="1.0"/>
<line x1="500.70" y1="122.20" x2="500.70" y2="125.00" stroke="#000" stroke-width="1.0"/>
<line x1="505.07" y1="122.20" x2="505.07" y2="125.00" stroke="#000" stroke-width="1.0"/>
<g font-family='"Liberation Sans", sans-serif' font-weight="bold" stroke="#000" stroke-width="0.25"><text x="407.58" y="137.6" font-size="10" textLength="8.00" lengthAdjust="spacingAndGlyphs">10</text><text x="417.18" y="132.80" font-size="8.00">0</text></g>
<g font-family='"Liberation Sans", sans-serif' font-weight="bold" stroke="#000" stroke-width="0.25"><text x="442.58" y="137.6" font-size="10" textLength="8.00" lengthAdjust="spacingAndGlyphs">10</text><text x="452.18" y="132.80" font-size="8.00">1</text></g>
<g font-family='"Liberation Sans", sans-serif' font-weight="bold" stroke="#000" stroke-width="0.25"><text x="477.58" y="137.6" font-size="10" textLength="8.00" lengthAdjust="spacingAndGlyphs">10</text><text x="487.18" y="132.80" font-size="8.00">2</text></g>
<text x="405.6" y="37.3" font-family='"Liberation Sans", sans-serif' font-size="9.2" font-weight="bold" text-anchor="middle" transform="rotate(-90 405.6 37.3)" stroke="#000" stroke-width="0.2">250</text>
<text x="405.6" y="122.5" font-family='"Liberation Sans", sans-serif' font-size="9.2" font-weight="bold" text-anchor="middle" transform="rotate(-90 405.6 122.5)" stroke="#000" stroke-width="0.2">0</text>
<text x="395.6" y="81.1" font-family='"Liberation Sans", sans-serif' font-size="10" font-weight="bold" text-anchor="middle" transform="rotate(-90 395.6 81.1)" textLength="29" lengthAdjust="spacingAndGlyphs">Counts</text>
<polyline points="414.0,121.2 415.0,121.2 415.0,120.1 416.0,120.1 416.0,120.0 417.0,120.0 417.0,117.1 418.0,117.1 418.0,115.0 419.0,115.0 419.0,112.5 420.0,112.5 420.0,109.5 421.0,109.5 421.0,106.3 422.0,106.3 422.0,103.0 423.1,103.0 423.1,98.6 424.1,98.6 424.1,94.7 425.2,94.7 425.2,90.1 426.6,90.1 426.6,80.1 428.0,80.1 428.0,69.6 429.1,69.6 429.1,65.3 430.2,65.3 430.2,60.4 431.3,60.4 431.3,55.8 432.6,55.8 432.6,59.0 434.0,59.0 434.0,61.7 435.1,61.7 435.1,67.6 436.2,67.6 436.2,73.0 437.3,73.0 437.3,78.8 438.6,78.8 438.6,84.4 440.0,84.4 440.0,90.2 441.1,90.2 441.1,93.9 442.3,93.9 442.3,97.0 443.4,97.0 443.4,100.5 444.7,100.5 444.7,106.3 446.0,106.3 446.0,110.6 447.1,110.6 447.1,113.9 448.3,113.9 448.3,116.4 449.4,116.4 449.4,118.4 450.5,118.4 450.5,119.7 451.6,119.7 451.6,120.2 452.8,120.2 452.8,120.4 453.9,120.4 453.9,121.0 455.0,121.0 455.0,121.5 456.0,121.5 456.0,120.8 457.0,120.8 457.0,121.2 458.0,121.2 458.0,121.2 459.0,121.2 459.0,121.5 460.0,121.5 460.0,121.5 461.0,121.5 461.0,121.5 462.0,121.5 462.0,121.3 463.0,121.3 463.0,121.6 464.0,121.6 464.0,121.4 465.0,121.4 465.0,121.4 466.0,121.4 466.0,120.9 467.0,120.9 467.0,120.7 468.0,120.7 468.0,120.8 469.0,120.8 469.0,121.1 470.0,121.2" fill="none" stroke="#000" stroke-width="2.25" stroke-linejoin="round"/>
<polyline points="414.0,120.8 415.0,120.8 415.0,121.5 416.0,121.5 416.0,121.3 417.0,121.3 417.0,121.3 418.0,121.3 418.0,121.3 419.0,121.3 419.0,121.4 420.0,121.4 420.0,121.2 421.0,121.2 421.0,120.7 422.0,120.7 422.0,121.5 423.0,121.5 423.0,120.8 424.1,120.8 424.1,119.9 425.1,119.9 425.1,119.3 426.1,119.3 426.1,118.8 427.1,118.8 427.1,117.6 428.2,117.6 428.2,117.7 429.2,117.7 429.2,116.6 430.5,116.6 430.5,115.6 431.7,115.6 431.7,115.0 433.0,115.0 433.0,114.7 434.1,114.7 434.1,113.3 435.1,113.3 435.1,112.9 436.2,112.9 436.2,112.2 437.3,112.2 437.3,110.8 438.4,110.8 438.4,105.3 439.5,105.3 439.5,100.0 441.3,100.0 441.3,88.8 442.4,88.8 442.4,84.1 443.5,84.1 443.5,79.1 445.4,79.1 445.4,73.5 446.7,73.5 446.7,74.8 448.0,74.8 448.0,76.6 449.1,76.6 449.1,79.3 450.3,79.3 450.3,82.2 451.4,82.2 451.4,84.3 452.4,84.3 452.4,87.8 453.5,87.8 453.5,90.5 454.5,90.5 454.5,94.4 455.5,94.4 455.5,98.5 456.7,98.5 456.7,100.3 457.8,100.3 457.8,101.8 459.0,101.8 459.0,103.2 460.1,103.2 460.1,103.7 461.3,103.7 461.3,104.9 462.5,104.9 462.5,105.7 463.6,105.7 463.6,106.7 464.7,106.7 464.7,107.4 465.9,107.4 465.9,109.3 467.0,109.3 467.0,109.7 468.1,109.7 468.1,111.7 469.3,111.7 469.3,112.8 470.5,112.8 470.5,113.1 471.6,113.1 471.6,114.8 472.6,114.8 472.6,116.2 473.6,116.2 473.6,117.4 474.6,117.4 474.6,117.9 475.7,117.9 475.7,118.8 476.7,118.8 476.7,119.8 477.7,119.8 477.7,121.6 478.7,121.6 478.7,120.9 479.8,120.9 479.8,121.3 480.8,121.3 480.8,120.8 481.9,120.8 481.9,121.2 482.9,121.2 482.9,121.6 484.0,121.6 484.0,120.8 485.0,120.8 485.0,121.5 486.0,121.5 486.0,121.2 487.0,121.2 487.0,121.6 488.0,121.6 488.0,121.4 489.0,121.4 489.0,120.9 490.0,120.9 490.0,121.6 491.0,121.6 491.0,121.2 492.0,121.2 492.0,120.7 493.0,120.7 493.0,120.7 494.0,120.7 494.0,121.2 495.0,121.2 495.0,121.2 496.0,121.2 496.0,121.0 497.0,121.0 497.0,120.8 498.0,120.8 498.0,121.0 499.0,121.0 499.0,121.0 500.0,121.0 500.0,121.5 501.0,121.5 501.0,120.7 502.0,120.7 502.0,121.5 503.0,121.5 503.0,121.5 504.0,121.5 504.0,120.8 505.0,121.2" fill="none" stroke="#000" stroke-width="2.25" stroke-linejoin="round"/>
<line x1="440.50" y1="64.00" x2="491.50" y2="64.00" stroke="#000" stroke-width="2.2"/>
<line x1="440.50" y1="59.00" x2="440.50" y2="69.00" stroke="#000" stroke-width="2.2"/>
<line x1="491.50" y1="59.00" x2="491.50" y2="69.00" stroke="#000" stroke-width="2.2"/>
<text x="467.2" y="55.6" font-family='"Liberation Sans", sans-serif' font-size="14.4" font-weight="normal" text-anchor="middle" textLength="30" lengthAdjust="spacingAndGlyphs" stroke="#000" stroke-width="0.45">95 %</text>
<line x1="31.00" y1="152.30" x2="497.00" y2="152.30" stroke="#000" stroke-width="2.4"/>
<polygon points="494,147.4 511.5,152.3 494,157.2" fill="#000"/>
<text x="282.8" y="170.9" font-family='"Liberation Serif", serif' font-size="16" font-weight="normal" text-anchor="middle" textLength="83" lengthAdjust="spacingAndGlyphs" stroke="#000" stroke-width="0.25">Nitrotyrosine</text>
<rect x="39.3" y="198.2" width="100.7" height="91.80000000000001" fill="none" stroke="#000" stroke-width="1.3"/>
<line x1="39.30" y1="197.60" x2="39.30" y2="291.00" stroke="#000" stroke-width="2.2"/>
<line x1="38.80" y1="290.00" x2="140.60" y2="290.00" stroke="#000" stroke-width="2.2"/>
<line x1="35.50" y1="290.00" x2="39.30" y2="290.00" stroke="#000" stroke-width="0.9"/>
<line x1="36.90" y1="283.09" x2="39.30" y2="283.09" stroke="#000" stroke-width="0.9"/>
<line x1="36.90" y1="279.05" x2="39.30" y2="279.05" stroke="#000" stroke-width="0.9"/>
<line x1="36.90" y1="276.18" x2="39.30" y2="276.18" stroke="#000" stroke-width="0.9"/>
<line x1="36.90" y1="273.96" x2="39.30" y2="273.96" stroke="#000" stroke-width="0.9"/>
<line x1="36.90" y1="272.14" x2="39.30" y2="272.14" stroke="#000" stroke-width="0.9"/>
<line x1="36.90" y1="270.60" x2="39.30" y2="270.60" stroke="#000" stroke-width="0.9"/>
<line x1="36.90" y1="269.27" x2="39.30" y2="269.27" stroke="#000" stroke-width="0.9"/>
<line x1="36.90" y1="268.10" x2="39.30" y2="268.10" stroke="#000" stroke-width="0.9"/>
<line x1="35.50" y1="267.05" x2="39.30" y2="267.05" stroke="#000" stroke-width="0.9"/>
<line x1="36.90" y1="260.14" x2="39.30" y2="260.14" stroke="#000" stroke-width="0.9"/>
<line x1="36.90" y1="256.10" x2="39.30" y2="256.10" stroke="#000" stroke-width="0.9"/>
<line x1="36.90" y1="253.23" x2="39.30" y2="253.23" stroke="#000" stroke-width="0.9"/>
<line x1="36.90" y1="251.01" x2="39.30" y2="251.01" stroke="#000" stroke-width="0.9"/>
<line x1="36.90" y1="249.19" x2="39.30" y2="249.19" stroke="#000" stroke-width="0.9"/>
<line x1="36.90" y1="247.65" x2="39.30" y2="247.65" stroke="#000" stroke-width="0.9"/>
<line x1="36.90" y1="246.32" x2="39.30" y2="246.32" stroke="#000" stroke-width="0.9"/>
<line x1="36.90" y1="245.15" x2="39.30" y2="245.15" stroke="#000" stroke-width="0.9"/>
<line x1="35.50" y1="244.10" x2="39.30" y2="244.10" stroke="#000" stroke-width="0.9"/>
<line x1="36.90" y1="237.19" x2="39.30" y2="237.19" stroke="#000" stroke-width="0.9"/>
<line x1="36.90" y1="233.15" x2="39.30" y2="233.15" stroke="#000" stroke-width="0.9"/>
<line x1="36.90" y1="230.28" x2="39.30" y2="230.28" stroke="#000" stroke-width="0.9"/>
<line x1="36.90" y1="228.06" x2="39.30" y2="228.06" stroke="#000" stroke-width="0.9"/>
<line x1="36.90" y1="226.24" x2="39.30" y2="226.24" stroke="#000" stroke-width="0.9"/>
<line x1="36.90" y1="224.70" x2="39.30" y2="224.70" stroke="#000" stroke-width="0.9"/>
<line x1="36.90" y1="223.37" x2="39.30" y2="223.37" stroke="#000" stroke-width="0.9"/>
<line x1="36.90" y1="222.20" x2="39.30" y2="222.20" stroke="#000" stroke-width="0.9"/>
<line x1="35.50" y1="221.15" x2="39.30" y2="221.15" stroke="#000" stroke-width="0.9"/>
<line x1="36.90" y1="214.24" x2="39.30" y2="214.24" stroke="#000" stroke-width="0.9"/>
<line x1="36.90" y1="210.20" x2="39.30" y2="210.20" stroke="#000" stroke-width="0.9"/>
<line x1="36.90" y1="207.33" x2="39.30" y2="207.33" stroke="#000" stroke-width="0.9"/>
<line x1="36.90" y1="205.11" x2="39.30" y2="205.11" stroke="#000" stroke-width="0.9"/>
<line x1="36.90" y1="203.29" x2="39.30" y2="203.29" stroke="#000" stroke-width="0.9"/>
<line x1="36.90" y1="201.75" x2="39.30" y2="201.75" stroke="#000" stroke-width="0.9"/>
<line x1="36.90" y1="200.42" x2="39.30" y2="200.42" stroke="#000" stroke-width="0.9"/>
<line x1="36.90" y1="199.25" x2="39.30" y2="199.25" stroke="#000" stroke-width="0.9"/>
<line x1="35.50" y1="198.20" x2="39.30" y2="198.20" stroke="#000" stroke-width="0.9"/>
<line x1="39.30" y1="290.00" x2="39.30" y2="293.80" stroke="#000" stroke-width="0.9"/>
<line x1="46.88" y1="290.00" x2="46.88" y2="292.40" stroke="#000" stroke-width="0.9"/>
<line x1="51.31" y1="290.00" x2="51.31" y2="292.40" stroke="#000" stroke-width="0.9"/>
<line x1="54.46" y1="290.00" x2="54.46" y2="292.40" stroke="#000" stroke-width="0.9"/>
<line x1="56.90" y1="290.00" x2="56.90" y2="292.40" stroke="#000" stroke-width="0.9"/>
<line x1="58.89" y1="290.00" x2="58.89" y2="292.40" stroke="#000" stroke-width="0.9"/>
<line x1="60.58" y1="290.00" x2="60.58" y2="292.40" stroke="#000" stroke-width="0.9"/>
<line x1="62.04" y1="290.00" x2="62.04" y2="292.40" stroke="#000" stroke-width="0.9"/>
<line x1="63.32" y1="290.00" x2="63.32" y2="292.40" stroke="#000" stroke-width="0.9"/>
<line x1="64.47" y1="290.00" x2="64.47" y2="293.80" stroke="#000" stroke-width="0.9"/>
<line x1="72.05" y1="290.00" x2="72.05" y2="292.40" stroke="#000" stroke-width="0.9"/>
<line x1="76.49" y1="290.00" x2="76.49" y2="292.40" stroke="#000" stroke-width="0.9"/>
<line x1="79.63" y1="290.00" x2="79.63" y2="292.40" stroke="#000" stroke-width="0.9"/>
<line x1="82.07" y1="290.00" x2="82.07" y2="292.40" stroke="#000" stroke-width="0.9"/>
<line x1="84.06" y1="290.00" x2="84.06" y2="292.40" stroke="#000" stroke-width="0.9"/>
<line x1="85.75" y1="290.00" x2="85.75" y2="292.40" stroke="#000" stroke-width="0.9"/>
<line x1="87.21" y1="290.00" x2="87.21" y2="292.40" stroke="#000" stroke-width="0.9"/>
<line x1="88.50" y1="290.00" x2="88.50" y2="292.40" stroke="#000" stroke-width="0.9"/>
<line x1="89.65" y1="290.00" x2="89.65" y2="293.80" stroke="#000" stroke-width="0.9"/>
<line x1="97.23" y1="290.00" x2="97.23" y2="292.40" stroke="#000" stroke-width="0.9"/>
<line x1="101.66" y1="290.00" x2="101.66" y2="292.40" stroke="#000" stroke-width="0.9"/>
<line x1="104.81" y1="290.00" x2="104.81" y2="292.40" stroke="#000" stroke-width="0.9"/>
<line x1="107.25" y1="290.00" x2="107.25" y2="292.40" stroke="#000" stroke-width="0.9"/>
<line x1="109.24" y1="290.00" x2="109.24" y2="292.40" stroke="#000" stroke-width="0.9"/>
<line x1="110.93" y1="290.00" x2="110.93" y2="292.40" stroke="#000" stroke-width="0.9"/>
<line x1="112.39" y1="290.00" x2="112.39" y2="292.40" stroke="#000" stroke-width="0.9"/>
<line x1="113.67" y1="290.00" x2="113.67" y2="292.40" stroke="#000" stroke-width="0.9"/>
<line x1="114.83" y1="290.00" x2="114.83" y2="293.80" stroke="#000" stroke-width="0.9"/>
<line x1="122.40" y1="290.00" x2="122.40" y2="292.40" stroke="#000" stroke-width="0.9"/>
<line x1="126.84" y1="290.00" x2="126.84" y2="292.40" stroke="#000" stroke-width="0.9"/>
<line x1="129.98" y1="290.00" x2="129.98" y2="292.40" stroke="#000" stroke-width="0.9"/>
<line x1="132.42" y1="290.00" x2="132.42" y2="292.40" stroke="#000" stroke-width="0.9"/>
<line x1="134.41" y1="290.00" x2="134.41" y2="292.40" stroke="#000" stroke-width="0.9"/>
<line x1="136.10" y1="290.00" x2="136.10" y2="292.40" stroke="#000" stroke-width="0.9"/>
<line x1="137.56" y1="290.00" x2="137.56" y2="292.40" stroke="#000" stroke-width="0.9"/>
<line x1="138.85" y1="290.00" x2="138.85" y2="292.40" stroke="#000" stroke-width="0.9"/>
<line x1="140.00" y1="290.00" x2="140.00" y2="293.80" stroke="#000" stroke-width="0.9"/>
<line x1="94.80" y1="198.20" x2="94.80" y2="290.00" stroke="#000" stroke-width="2.1"/>
<line x1="39.30" y1="257.80" x2="140.00" y2="257.80" stroke="#000" stroke-width="2.1"/>
<g font-family='"Liberation Sans", sans-serif' font-weight="bold" stroke="#000" stroke-width="0.2"><text x="33.64" y="304.4" font-size="8.7" textLength="7.40" lengthAdjust="spacingAndGlyphs">10</text><text x="42.04" y="300.10" font-size="7.40">0</text></g>
<g font-family='"Liberation Sans", sans-serif' font-weight="bold" stroke="#000" stroke-width="0.2"><text x="58.82" y="304.4" font-size="8.7" textLength="7.40" lengthAdjust="spacingAndGlyphs">10</text><text x="67.22" y="300.10" font-size="7.40">1</text></g>
<g font-family='"Liberation Sans", sans-serif' font-weight="bold" stroke="#000" stroke-width="0.2"><text x="83.99" y="304.4" font-size="8.7" textLength="7.40" lengthAdjust="spacingAndGlyphs">10</text><text x="92.39" y="300.10" font-size="7.40">2</text></g>
<g font-family='"Liberation Sans", sans-serif' font-weight="bold" stroke="#000" stroke-width="0.2"><text x="109.17" y="304.4" font-size="8.7" textLength="7.40" lengthAdjust="spacingAndGlyphs">10</text><text x="117.57" y="300.10" font-size="7.40">3</text></g>
<g font-family='"Liberation Sans", sans-serif' font-weight="bold" stroke="#000" stroke-width="0.2"><text x="134.34" y="304.4" font-size="8.7" textLength="7.40" lengthAdjust="spacingAndGlyphs">10</text><text x="142.74" y="300.10" font-size="7.40">4</text></g>
<g transform="rotate(-90 32.3 289)" font-family='"Liberation Sans", sans-serif' font-weight="bold" stroke="#000" stroke-width="0.2"><text x="25.53" y="289" font-size="8.3" textLength="8.40" lengthAdjust="spacingAndGlyphs">10</text><text x="34.73" y="284.50" font-size="7.80">0</text></g>
<g transform="rotate(-90 32.3 266.4)" font-family='"Liberation Sans", sans-serif' font-weight="bold" stroke="#000" stroke-width="0.2"><text x="25.53" y="266.4" font-size="8.3" textLength="8.40" lengthAdjust="spacingAndGlyphs">10</text><text x="34.73" y="261.90" font-size="7.80">1</text></g>
<g transform="rotate(-90 32.3 243.7)" font-family='"Liberation Sans", sans-serif' font-weight="bold" stroke="#000" stroke-width="0.2"><text x="25.53" y="243.7" font-size="8.3" textLength="8.40" lengthAdjust="spacingAndGlyphs">10</text><text x="34.73" y="239.20" font-size="7.80">2</text></g>
<g transform="rotate(-90 32.3 221)" font-family='"Liberation Sans", sans-serif' font-weight="bold" stroke="#000" stroke-width="0.2"><text x="25.53" y="221" font-size="8.3" textLength="8.40" lengthAdjust="spacingAndGlyphs">10</text><text x="34.73" y="216.50" font-size="7.80">3</text></g>
<g transform="rotate(-90 32.3 198.4)" font-family='"Liberation Sans", sans-serif' font-weight="bold" stroke="#000" stroke-width="0.2"><text x="25.53" y="198.4" font-size="8.3" textLength="8.40" lengthAdjust="spacingAndGlyphs">10</text><text x="34.73" y="193.90" font-size="7.80">4</text></g>
<text x="135.3" y="211.8" font-family='"Liberation Sans", sans-serif' font-size="14" font-weight="normal" text-anchor="end" stroke="#000" stroke-width="0.3">6</text>
<text x="139" y="271.7" font-family='"Liberation Sans", sans-serif' font-size="14" font-weight="normal" text-anchor="end" textLength="14.6" lengthAdjust="spacingAndGlyphs" stroke="#000" stroke-width="0.3">14</text>
<path d="M41.4,268.9 L42.4,267.7 L42.4,267.5 L44.8,267.5 L44.6,266.8 L45.6,265.6 L46.2,267.3 L47.6,267.7 L48.5,266.5 L50.0,266.5 L50.7,268.2 L52.8,268.1 L53.3,268.0 L54.9,266.9 L55.4,265.6 L56.5,266.1 L57.5,266.1 L57.6,264.6 L59.9,265.0 L59.9,265.7 L60.6,266.7 L63.0,266.0 L63.3,266.4 L64.1,266.8 L64.3,266.2 L65.4,267.5 L67.0,265.9 L68.8,267.3 L68.9,265.4 L69.4,265.2 L70.7,265.5 L71.5,266.2 L73.1,267.8 L74.5,267.2 L74.8,267.7 L75.8,267.7 L76.1,267.3 L78.9,266.8 L79.0,267.5 L80.7,266.4 L80.5,266.2 L81.8,266.4 L83.9,267.4 L84.7,266.0 L84.1,267.7 L86.8,267.4 L87.2,266.8 L87.8,268.9 L89.7,268.6 L90.9,267.3 L90.2,267.1 L92.0,268.0 L93.9,268.0 L94.0,267.5" fill="none" stroke="#000" stroke-width="1.3" stroke-linejoin="round"/>
<path d="M40.8,271.0 L41.5,270.4 L41.9,270.6 L43.3,270.7 L45.2,269.3 L45.3,269.1 L47.2,269.9 L47.3,268.9 L49.0,269.9 L49.8,269.3 L51.2,269.0 L51.6,269.9 L53.8,270.0 L54.7,269.5 L54.5,268.8 L56.8,269.4 L56.7,267.9 L58.0,268.8 L58.9,268.3 L60.3,269.8 L60.5,268.4 L61.7,269.4 L63.3,269.2 L64.5,270.4 L65.0,269.3 L66.8,269.3 L67.6,269.0 L67.5,269.8 L68.6,270.0 L70.0,268.4 L70.5,269.1 L72.3,270.3 L72.4,269.6 L73.5,270.9 L74.4,269.4 L75.2,270.3 L77.7,271.0 L78.4,271.1 L79.8,269.7 L79.4,270.6 L81.4,268.8 L82.3,269.3 L82.8,269.4 L83.4,269.1 L84.6,270.0 L86.8,269.8 L87.8,270.2 L87.7,271.6 L89.6,270.7 L89.2,270.6 L90.8,271.3 L91.4,270.1 L93.7,269.3 L94.0,270.0" fill="none" stroke="#000" stroke-width="1.2" stroke-linejoin="round"/>
<path d="M41.9,288.0 L42.5,285.7 L41.4,284.7 L42.9,284.0 L42.8,284.0 L42.2,281.9 L43.3,281.4 L42.3,280.5 L42.4,278.8 L42.0,278.5 L43.6,277.3 L43.7,275.2 L43.6,275.5 L45.7,275.7 L45.8,274.1 L46.9,274.0 L48.7,273.0 L49.5,273.7 L50.5,273.6 L51.2,272.7 L51.7,272.6 L53.5,272.0 L53.5,272.9 L54.6,272.1 L55.3,273.1 L56.7,274.0 L58.6,274.3 L58.6,273.1 L59.4,274.0 L61.3,273.7 L61.6,273.4 L63.2,273.5 L64.4,273.6 L65.3,272.1 L66.5,272.2 L67.1,272.5 L68.4,272.5 L68.6,272.8 L69.4,274.1 L71.1,273.5 L71.8,274.8 L73.0,273.3 L74.5,273.7 L75.8,272.6 L76.0,273.5 L77.5,273.4 L77.3,272.2 L78.4,272.3 L80.8,273.1 L81.7,273.0 L82.6,273.4 L82.6,274.2 L84.7,273.4 L85.2,274.3 L85.5,274.0 L86.4,273.8 L87.6,274.5 L89.2,273.9 L89.2,274.2 L91.2,274.9 L91.4,275.8 L93.1,277.2 L93.5,278.0" fill="none" stroke="#000" stroke-width="1.2" stroke-linejoin="round"/>
<path d="M52.7,287.2 L53.2,286.5 L53.6,285.0 L53.5,284.4 L53.9,283.0 L54.1,282.4 L54.3,281.1 L55.0,280.1 L56.0,279.8 L56.2,278.4 L57.1,277.6 L57.1,277.3 L58.6,277.0 L59.7,276.8 L60.8,276.0 L61.6,276.0 L63.1,276.5 L63.7,276.3 L64.9,276.4 L65.7,276.3 L67.0,277.3 L67.7,277.5 L69.2,278.4 L69.1,278.7 L70.0,280.4 L69.9,280.6 L70.5,281.9 L70.8,283.1 L71.0,283.9 L71.2,285.0 L71.2,286.7 L71.5,287.5" fill="none" stroke="#000" stroke-width="1.2" stroke-linejoin="round"/>
<path d="M40.7,287.4 L41.3,287.5 L42.5,287.5 L43.3,287.4 L44.7,287.8 L45.3,287.6 L46.7,287.3 L47.8,287.4 L48.6,287.6 L49.7,287.5 L50.5,287.6 L51.6,287.7 L52.6,287.6 L53.3,287.7 L54.6,287.4 L55.8,287.8 L56.6,287.4 L57.6,287.4 L58.4,287.6 L59.4,287.6 L60.7,287.3 L61.8,287.3 L62.8,287.8 L63.7,287.3 L64.7,287.5 L66.0,287.4 L67.0,287.9 L67.9,287.8 L68.6,287.9 L69.8,287.9 L71.0,287.4 L72.0,287.9 L72.5,287.5 L74.0,287.4 L75.1,287.5 L76.0,287.4 L76.8,287.9 L77.7,287.5 L78.9,287.5 L79.6,287.4 L80.7,287.9 L82.0,287.8 L82.7,287.8 L83.7,287.6 L85.0,287.5 L86.1,287.6 L87.0,287.8 L87.7,287.9 L89.0,287.5 L90.1,287.5 L91.3,287.6 L91.9,287.8 L93.0,287.4 L94.0,287.6" fill="none" stroke="#000" stroke-width="1.2" stroke-linejoin="round"/>
<path d="M75.3,286.5 L75.7,285.7 L75.8,285.6 L76.1,284.2 L76.1,282.4 L76.1,281.6 L77.1,280.9 L78.0,281.1 L78.6,279.9 L80.2,279.2 L80.4,279.2 L81.5,278.8 L82.7,279.3 L84.1,279.0 L85.1,279.5 L85.6,280.2 L86.7,279.4 L87.5,280.2 L89.2,280.9 L89.5,280.9 L89.8,282.0 L91.3,282.2 L92.0,283.0" fill="none" stroke="#000" stroke-width="1.2" stroke-linejoin="round"/>
<path d="M44.2,285.9 L44.9,285.3 L44.5,284.5 L44.7,283.0 L45.5,281.7 L45.5,281.3 L46.2,280.5 L48.1,279.4 L48.0,279.3 L49.2,278.8 L50.4,277.6 L50.2,278.8 L50.3,280.5 L51.5,281.3 L51.0,282.4 L52.0,283.0" fill="none" stroke="#000" stroke-width="1.2" stroke-linejoin="round"/>
<path d="M80.5,276.2 L79.8,275.4 L79.5,274.5 M55.0,267.2 L55.3,265.8 L54.8,264.3 L55.6,263.6 L56.3,263.7 M54.8,271.2 L55.6,271.8 L57.0,272.4 L58.8,272.5 L59.7,274.3 M85.6,277.8 L85.0,276.7 L85.0,275.2 M57.3,270.7 L58.0,270.4 L58.5,268.5 M59.3,269.1 L59.9,269.6 L60.7,269.2 L62.2,269.9 L64.1,269.4 M69.3,280.6 L70.1,280.2 L70.4,279.4 L69.2,278.0 L69.3,276.5 M84.7,279.9 L85.1,281.4 L85.9,282.3 M81.8,279.2 L82.8,280.0 L84.2,280.9 L85.8,281.2 L86.8,281.4 M86.7,268.0 L87.2,269.0 L87.0,269.8 M59.4,268.1 L60.7,266.6 L61.7,265.5 L61.5,263.8 M90.7,271.1 L92.6,270.3 L93.4,270.1 M88.3,282.4 L87.2,282.2 L86.7,280.9 L85.5,279.5 M53.4,276.1 L53.8,275.0 L53.8,274.1 L54.9,273.0 L55.8,272.8 M47.7,276.2 L48.7,277.5 L48.5,279.0 M79.3,287.4 L78.2,287.6 L77.0,289.2 L76.2,289.5 M92.0,268.2 L93.2,268.8 L94.7,268.4 L95.0,267.4 M61.6,266.7 L60.8,264.9 L60.2,264.4 L58.5,264.3 L58.0,265.2 M86.2,281.4 L85.8,279.9 L86.8,278.7 M71.9,271.0 L73.4,271.5 L74.4,270.8 L76.1,270.8 M74.4,271.5 L73.2,270.7 L72.2,269.2 L72.5,268.1 L71.2,266.9 M89.1,268.3 L88.3,270.1 L87.8,270.8 L86.9,271.9 L85.6,272.4 M74.9,284.2 L74.4,285.8 L74.3,287.5 L75.8,288.8 M59.8,267.2 L60.0,269.1 L59.6,270.7 M71.7,268.4 L70.0,267.4 L70.1,266.1 L68.7,264.7 L67.0,265.1 M51.2,280.1 L51.3,278.6 L52.6,277.4 M65.8,272.5 L67.5,273.2 L68.7,273.1 L69.6,272.3 M50.9,266.1 L50.2,267.0 L49.5,268.3 M45.5,285.7 L46.7,287.1 L46.3,288.7 L47.3,290.2 M74.6,266.3 L75.6,265.2 L77.1,264.2 L77.4,262.9 L78.2,262.3 M62.3,277.8 L62.4,275.9 L63.5,274.5 M51.5,281.2 L51.8,280.4 L51.1,279.3 L51.4,278.0 M78.1,271.4 L76.6,272.4 L75.4,273.2 L73.7,273.7 L72.6,274.3 M91.9,267.7 L91.1,267.9 L89.2,267.4 M83.9,268.1 L82.4,267.3 L81.6,266.4 M86.7,274.1 L85.6,274.5 L85.1,275.1 M56.3,273.8 L55.2,274.0 L54.3,275.0 L54.5,276.0 M45.6,287.9 L44.9,287.6 L44.2,287.6 L42.8,288.9 M73.3,280.5 L73.9,279.8 L75.3,279.1 L76.1,279.4 L77.3,278.5 M74.1,269.8 L76.0,269.5 L77.2,269.8 L78.1,271.2 M70.8,271.7 L70.9,273.1 L70.7,275.0 L70.5,276.4 M84.7,283.0 L84.4,282.3 L83.4,281.2 L84.0,279.4 M66.2,275.1 L66.6,273.6 L66.7,272.8 M76.5,287.7 L77.2,288.1 L77.7,289.0 M79.9,270.1 L80.4,269.4 L81.5,269.0 L82.8,268.7 L84.6,269.1 M89.4,267.2 L90.4,268.3 L91.4,268.9 L92.8,270.3 L92.7,271.8 M47.2,287.0 L47.3,285.3 L48.8,284.5 L49.9,284.2 M44.2,287.4 L45.8,287.1 L46.0,286.2 L47.3,285.4 M92.7,271.4 L91.6,271.5 L91.3,272.5 M63.4,278.9 L63.7,278.0 L65.6,277.5 M48.8,287.5 L47.9,287.5 L46.2,287.4 L44.9,288.4 M90.4,271.1 L90.5,269.2 L90.7,268.5 L90.6,267.1 M69.4,273.8 L67.6,273.2 L66.4,272.8 L65.6,272.2 L64.6,272.4 M78.2,274.0 L77.1,273.7 L76.7,272.4 L77.4,271.4 L77.8,270.6 M57.7,266.7 L55.9,267.5 L54.7,267.0 M71.1,271.8 L69.3,271.4 L69.0,270.4 L68.0,270.2 M50.6,267.8 L48.7,267.3 L48.4,266.6 L48.3,265.3 L46.7,264.3 M54.6,278.4 L55.6,278.2 L56.6,278.8 L58.2,278.7 L59.5,277.3 M90.9,267.3 L92.2,266.8 L93.8,267.0 M66.6,268.2 L67.6,268.7 L68.9,269.8" fill="none" stroke="#000" stroke-width="0.9"/>
<path d="M46.6,271.4h1.0v1.0h-1.0z M66.5,267.4h1.0v1.0h-1.0z M76.9,263.3h1.0v1.0h-1.0z M42.9,287.1h1.5v1.5h-1.5z M86.9,286.1h1.2v1.2h-1.2z M46.1,287.1h1.3v1.3h-1.3z M65.0,271.8h1.2v1.2h-1.2z M74.3,266.7h0.9v0.9h-0.9z M78.8,277.4h1.4v1.4h-1.4z M55.1,273.7h1.1v1.1h-1.1z M85.5,271.7h1.2v1.2h-1.2z M92.9,264.5h1.3v1.3h-1.3z M52.2,275.4h1.1v1.1h-1.1z M93.9,287.1h1.1v1.1h-1.1z M88.5,264.5h1.1v1.1h-1.1z M92.9,263.4h1.1v1.1h-1.1z M48.4,263.0h1.2v1.2h-1.2z M52.6,277.9h1.0v1.0h-1.0z M81.8,281.5h0.9v0.9h-0.9z M45.6,278.8h1.1v1.1h-1.1z M51.9,278.9h1.4v1.4h-1.4z M71.9,268.3h1.3v1.3h-1.3z M84.0,271.7h1.4v1.4h-1.4z M50.9,284.6h1.0v1.0h-1.0z M60.7,278.5h1.2v1.2h-1.2z M64.6,276.4h1.3v1.3h-1.3z M84.3,285.5h1.3v1.3h-1.3z M87.3,287.8h1.2v1.2h-1.2z M69.1,277.0h1.5v1.5h-1.5z M52.9,267.7h1.1v1.1h-1.1z M84.3,263.8h1.3v1.3h-1.3z M51.3,263.5h1.2v1.2h-1.2z M87.1,281.6h1.0v1.0h-1.0z M67.2,276.0h1.0v1.0h-1.0z M62.5,266.6h1.4v1.4h-1.4z M48.8,277.9h1.0v1.0h-1.0z M84.8,287.4h1.2v1.2h-1.2z M85.5,276.7h1.5v1.5h-1.5z M82.2,271.8h1.1v1.1h-1.1z M89.4,284.2h0.9v0.9h-0.9z M54.2,274.0h1.1v1.1h-1.1z M69.1,264.8h1.2v1.2h-1.2z M82.2,287.4h1.4v1.4h-1.4z M87.9,286.0h1.3v1.3h-1.3z M55.1,280.6h1.2v1.2h-1.2z M90.0,279.2h1.2v1.2h-1.2z M72.5,287.9h1.1v1.1h-1.1z M65.7,276.9h1.0v1.0h-1.0z M48.0,270.6h1.1v1.1h-1.1z M53.9,265.3h1.4v1.4h-1.4z M73.3,277.8h1.0v1.0h-1.0z M78.6,275.0h1.3v1.3h-1.3z M65.9,271.1h1.0v1.0h-1.0z M68.2,273.0h0.9v0.9h-0.9z M70.5,275.8h1.5v1.5h-1.5z M56.7,283.1h0.9v0.9h-0.9z M87.2,274.4h1.1v1.1h-1.1z M52.9,287.9h1.0v1.0h-1.0z M58.9,272.2h1.3v1.3h-1.3z M86.0,284.4h1.3v1.3h-1.3z M80.4,282.8h1.4v1.4h-1.4z M78.6,286.8h1.4v1.4h-1.4z M41.2,282.9h1.2v1.2h-1.2z M92.0,277.9h1.4v1.4h-1.4z M87.3,278.8h1.2v1.2h-1.2z M61.7,277.4h1.1v1.1h-1.1z M82.7,285.1h1.2v1.2h-1.2z M50.8,270.9h1.2v1.2h-1.2z M91.8,268.3h1.4v1.4h-1.4z M41.6,264.2h1.2v1.2h-1.2z M89.8,283.1h1.5v1.5h-1.5z M68.4,276.4h1.1v1.1h-1.1z M60.0,278.5h1.5v1.5h-1.5z M76.9,276.7h1.1v1.1h-1.1z M62.2,277.6h1.4v1.4h-1.4z M92.1,275.7h1.3v1.3h-1.3z M93.8,271.9h1.4v1.4h-1.4z M84.8,276.3h1.4v1.4h-1.4z M88.1,273.9h1.1v1.1h-1.1z M68.1,276.1h1.0v1.0h-1.0z" fill="#000"/>
<path d="M96.3,262.2 L96.3,263.8 L97.5,262.7 L97.6,265.0 L98.0,265.6 L98.0,265.6 L100.5,267.0 L100.9,267.0 L101.4,268.5 L101.7,269.5 L103.1,271.0 L103.6,270.8 L103.2,271.3 L105.0,272.2 L104.2,273.3 L105.5,275.6 L106.2,276.6 L105.5,276.0 L107.2,277.6 L107.4,278.7 L106.7,279.5 L106.9,281.8 L108.2,281.7 L108.3,282.8 L107.9,284.8 L109.4,285.9 L109.5,286.2 L110.0,287.0" fill="none" stroke="#000" stroke-width="1.2" stroke-linejoin="round"/>
<path d="M95.6,274.3 L97.5,276.2 L97.3,276.8 L98.9,276.5 L99.4,278.1 L100.0,278.7 L100.3,278.7 L101.7,279.2 L101.7,281.1 L102.6,281.8 L102.9,281.6 L103.8,282.5 L105.2,283.7 L104.9,284.4 L105.3,285.8 L105.4,286.3 L106.0,288.0" fill="none" stroke="#000" stroke-width="1.2" stroke-linejoin="round"/>
<path d="M96.4,268.5 L97.6,268.2 L98.1,268.9 L99.0,269.1 L100.5,270.1 L100.4,271.3 L100.9,271.4 L102.7,272.0 L102.7,273.9 L103.9,273.7 L103.8,275.4 L103.6,276.7 L103.1,277.7 L103.4,277.6 L103.1,278.4 L103.3,279.6 L102.6,280.6 L100.8,280.6 L100.2,281.0 L99.0,282.0" fill="none" stroke="#000" stroke-width="1.2" stroke-linejoin="round"/>
<path d="M105.6,270.7 L106.8,271.7 L108.2,271.3 M107.2,274.0 L108.2,273.4 L109.4,273.6 L111.2,273.3 M110.5,289.0 L110.7,288.1 L112.3,287.5 M118.7,260.2 L118.6,261.2 L117.7,262.3 M102.9,273.9 L104.1,273.9 L104.7,272.2 L105.6,271.6 L105.5,269.8 M115.2,260.4 L117.1,260.4 L117.8,260.9 L118.4,262.0 M98.4,287.4 L99.9,286.7 L101.3,287.3 L102.8,287.9 L104.3,287.4 M113.7,264.2 L114.0,263.2 L113.2,262.4 M108.9,265.0 L109.8,266.0 L110.0,266.8 L109.8,267.7 L109.0,269.1 M99.8,280.2 L98.9,281.3 L98.0,281.6 L96.5,281.3 L94.8,281.2 M107.2,265.2 L108.0,266.0 L107.6,266.9 M110.0,276.1 L108.6,277.5 L107.8,277.7 M99.0,273.7 L99.9,274.5 L101.0,274.3 L102.6,274.4 L104.0,275.1 M98.0,281.4 L97.6,282.3 L96.4,283.6 M105.9,270.1 L105.8,270.9 L105.4,272.3 L104.0,273.1 M111.7,263.7 L110.8,264.1 L110.2,265.5 M111.1,265.5 L111.9,267.1 L112.6,267.9 L113.1,269.2 L113.6,270.3 M105.1,272.3 L104.4,273.5 L103.7,274.6 M112.9,277.8 L111.2,278.3 L110.9,279.9 L110.4,280.9 L109.3,282.5 M111.1,278.4 L111.6,279.3 L111.8,280.6 L113.2,281.3 L114.7,281.5 M108.4,262.4 L109.4,262.3 L110.6,263.4 L112.2,263.3 L113.1,263.8 M99.9,274.1 L101.3,272.8 L102.4,272.0 M101.7,273.3 L102.0,274.3 L102.5,274.9 L102.8,275.8 L104.0,276.9 M96.9,277.1 L95.4,278.2 L94.3,278.4 L93.5,279.5 L92.1,279.7 M99.2,259.6 L98.2,258.0 L98.8,256.5 M111.3,273.5 L111.0,271.8 L111.2,270.6 M98.0,268.9 L98.9,268.5 L100.4,269.2 L101.8,269.2 L102.4,270.1 M106.4,273.5 L107.2,273.9 L107.9,274.8 L109.2,275.2 L110.6,274.9 M96.6,275.8 L98.0,275.1 L98.7,274.3 L100.6,274.1 M108.7,260.8 L107.8,262.5 L106.0,263.2 L105.6,264.1 M103.7,276.2 L104.7,277.2 L105.7,277.0 M97.7,273.5 L97.2,275.2 L96.7,276.0 L97.1,276.7 M110.1,285.8 L108.8,286.9 L107.4,286.3 M98.1,283.3 L98.7,284.2 L98.9,284.9 M106.0,259.8 L107.1,259.3 L108.3,259.2 M97.4,271.4 L97.1,269.5 L96.5,267.7 L96.9,267.0 M105.8,278.6 L104.6,278.6 L104.1,279.4 L104.5,281.1 L106.2,281.6 M106.3,281.2 L106.7,280.2 L108.4,279.3 M95.8,273.3 L94.8,272.1 L93.2,270.9 L93.4,269.4 M99.5,275.3 L100.6,274.9 L101.0,274.0 L102.5,272.9 M100.8,259.9 L102.0,261.3 L101.8,262.5 L102.5,264.0 M96.4,278.8 L97.2,278.0 L97.3,276.7 L98.4,276.2 M116.9,284.8 L117.9,284.8 L119.1,283.6 L120.2,283.2 L120.9,283.9 M111.3,285.7 L111.9,284.9 L111.2,283.3 L112.0,281.8 L110.9,280.5 M109.8,272.0 L109.8,271.2 L110.5,270.9 L111.3,271.4 L111.6,272.2 M101.0,279.5 L99.3,280.4 L98.7,279.9 L97.0,279.8 L96.3,279.5 M105.8,285.4 L105.0,285.4 L103.9,286.3 M98.0,288.1 L99.0,288.5 L100.0,288.1 M97.7,260.3 L96.8,259.8 L96.0,259.7 L94.9,259.7 L93.7,260.2 M109.2,275.2 L108.7,276.9 L107.2,277.4 L106.4,278.5 M98.3,277.6 L98.6,276.5 L99.4,275.3 L99.8,273.4 M95.5,281.4 L94.3,281.2 L93.3,279.8 L93.6,278.6 L92.3,277.2 M97.8,282.9 L98.7,281.4 L99.9,281.1 L101.4,281.2 M101.0,270.0 L102.0,271.2 L101.9,273.0 L101.2,273.5 L100.1,274.9 M103.7,262.1 L103.5,260.5 L102.8,259.7 L102.1,259.0 L101.3,257.6 M101.2,274.5 L101.8,275.3 L102.8,275.9 L103.6,276.2 M102.0,276.1 L102.7,277.9 L103.5,278.6 L104.8,279.2 L105.5,279.6 M99.7,287.8 L100.5,286.8 L99.8,285.3 M115.2,266.7 L116.2,266.8 L116.8,268.3 M107.6,279.0 L109.0,279.2 L110.8,279.5 L111.4,280.0 M96.8,279.4 L96.1,278.7 L94.4,279.1 L94.0,279.9 M120.0,275.9 L118.6,274.7 L117.5,273.4 L117.6,272.5 L117.6,271.7 M115.9,268.6 L116.4,269.6 L117.4,270.1 M103.8,284.8 L102.8,284.2 L101.6,284.3 L100.2,284.7 M105.4,263.0 L105.0,261.4 L103.3,260.5 L102.0,260.4 M95.8,261.0 L95.6,259.3 L94.7,257.9 M109.6,278.2 L111.0,278.0 L111.4,276.4 M102.1,261.7 L101.6,263.0 L101.4,264.8 L100.5,265.2 M100.7,272.4 L102.3,271.9 L103.1,271.2 L103.9,270.6 M100.6,267.7 L99.9,266.2 L99.0,264.9 M99.2,283.9 L100.4,284.6 L101.6,284.7 L102.7,285.6 L102.5,286.4 M113.1,261.7 L112.7,262.7 L112.3,263.5 M95.5,264.8 L95.7,266.1 L96.7,267.4 M101.3,282.6 L102.9,283.2 L103.7,282.6 L104.2,282.0 L103.7,280.7 M108.9,279.9 L109.3,278.4 L108.8,277.5" fill="none" stroke="#000" stroke-width="0.9"/>
<path d="M100.5,273.9h1.0v1.0h-1.0z M117.0,270.0h1.1v1.1h-1.1z M104.1,262.8h1.4v1.4h-1.4z M116.8,285.7h1.5v1.5h-1.5z M106.7,259.9h1.2v1.2h-1.2z M107.9,285.7h1.2v1.2h-1.2z M97.3,277.5h1.4v1.4h-1.4z M110.0,283.3h1.5v1.5h-1.5z M96.0,287.2h1.1v1.1h-1.1z M99.2,266.3h1.3v1.3h-1.3z M101.9,269.3h1.0v1.0h-1.0z M99.4,280.5h1.0v1.0h-1.0z M108.2,287.8h1.5v1.5h-1.5z M100.4,288.1h1.1v1.1h-1.1z M103.9,272.7h1.2v1.2h-1.2z M95.7,273.7h1.0v1.0h-1.0z M121.8,267.8h1.1v1.1h-1.1z M123.6,283.2h1.3v1.3h-1.3z M97.3,283.7h1.1v1.1h-1.1z M105.0,285.7h1.4v1.4h-1.4z M117.0,288.7h1.4v1.4h-1.4z M102.4,274.8h1.0v1.0h-1.0z M110.5,262.0h1.4v1.4h-1.4z M111.0,288.3h1.4v1.4h-1.4z M120.5,276.3h1.1v1.1h-1.1z M102.4,281.2h1.1v1.1h-1.1z M97.8,267.9h1.5v1.5h-1.5z M108.6,287.3h1.1v1.1h-1.1z M114.1,262.3h1.1v1.1h-1.1z M111.9,287.9h1.0v1.0h-1.0z M110.9,286.5h1.1v1.1h-1.1z M97.3,283.8h1.1v1.1h-1.1z M105.8,261.1h1.4v1.4h-1.4z M109.9,261.0h1.2v1.2h-1.2z M112.7,276.2h1.4v1.4h-1.4z M101.1,280.1h1.3v1.3h-1.3z M107.2,261.0h1.4v1.4h-1.4z M107.1,265.4h1.0v1.0h-1.0z M110.8,280.0h1.4v1.4h-1.4z M101.4,267.3h1.2v1.2h-1.2z M119.1,283.2h1.4v1.4h-1.4z M100.2,265.7h1.1v1.1h-1.1z M109.6,276.1h1.4v1.4h-1.4z M96.7,274.1h0.9v0.9h-0.9z M110.0,264.7h1.1v1.1h-1.1z M103.8,281.1h1.2v1.2h-1.2z M103.9,280.1h1.1v1.1h-1.1z M126.2,280.6h1.0v1.0h-1.0z M96.1,284.9h1.3v1.3h-1.3z M106.7,269.7h1.3v1.3h-1.3z M97.4,264.3h1.4v1.4h-1.4z M99.8,262.2h1.4v1.4h-1.4z M100.1,275.9h1.0v1.0h-1.0z M114.1,281.0h1.4v1.4h-1.4z M96.0,265.4h1.1v1.1h-1.1z M95.9,283.9h1.2v1.2h-1.2z M97.3,285.7h0.9v0.9h-0.9z M116.1,278.2h1.0v1.0h-1.0z M99.9,276.7h1.0v1.0h-1.0z M98.4,280.7h1.2v1.2h-1.2z M105.7,278.5h1.2v1.2h-1.2z M101.5,286.3h0.9v0.9h-0.9z M105.6,288.6h1.1v1.1h-1.1z M99.5,288.3h0.9v0.9h-0.9z M97.6,266.2h1.0v1.0h-1.0z M102.0,259.5h1.0v1.0h-1.0z M133.3,286.5h1.4v1.4h-1.4z M98.8,260.6h1.1v1.1h-1.1z M96.5,283.9h1.2v1.2h-1.2z M100.7,278.5h1.2v1.2h-1.2z M100.2,288.3h1.1v1.1h-1.1z M99.5,280.9h1.4v1.4h-1.4z M99.8,270.0h1.4v1.4h-1.4z M128.2,259.2h1.0v1.0h-1.0z M108.3,269.5h1.0v1.0h-1.0z M106.1,271.4h1.0v1.0h-1.0z M99.3,265.4h1.4v1.4h-1.4z M96.1,266.8h1.5v1.5h-1.5z M103.0,272.1h1.3v1.3h-1.3z M106.4,259.8h1.0v1.0h-1.0z M106.5,287.9h1.3v1.3h-1.3z M108.4,260.9h0.9v0.9h-0.9z M110.9,263.3h1.2v1.2h-1.2z M99.8,268.1h1.3v1.3h-1.3z M114.4,280.8h1.5v1.5h-1.5z M110.0,284.0h1.4v1.4h-1.4z M95.9,264.7h1.0v1.0h-1.0z M103.2,263.3h1.5v1.5h-1.5z M105.0,260.9h1.4v1.4h-1.4z M101.0,287.9h1.3v1.3h-1.3z M101.4,282.6h1.1v1.1h-1.1z M117.7,262.3h1.4v1.4h-1.4z M105.0,264.8h1.1v1.1h-1.1z M111.0,278.2h1.4v1.4h-1.4z M97.6,278.9h1.0v1.0h-1.0z M96.7,272.2h1.2v1.2h-1.2z M100.5,273.4h1.0v1.0h-1.0z M114.2,262.5h1.1v1.1h-1.1z M98.5,265.7h1.2v1.2h-1.2z M100.2,287.3h1.0v1.0h-1.0z M102.8,284.9h0.9v0.9h-0.9z M106.8,286.7h1.3v1.3h-1.3z M98.7,272.6h1.0v1.0h-1.0z M123.7,269.8h1.5v1.5h-1.5z M116.0,264.4h1.3v1.3h-1.3z M99.0,265.5h1.2v1.2h-1.2z M101.5,264.7h1.2v1.2h-1.2z M105.4,273.3h1.5v1.5h-1.5z M104.7,284.0h1.5v1.5h-1.5z M109.2,271.2h1.3v1.3h-1.3z M96.5,270.2h1.4v1.4h-1.4z M95.5,277.2h1.2v1.2h-1.2z M119.4,280.4h1.0v1.0h-1.0z M100.6,287.8h1.0v1.0h-1.0z M97.9,266.0h1.3v1.3h-1.3z M106.9,287.3h0.9v0.9h-0.9z M96.2,267.7h1.5v1.5h-1.5z M123.3,274.4h1.0v1.0h-1.0z M98.7,285.9h1.0v1.0h-1.0z M105.6,270.0h1.3v1.3h-1.3z M98.6,281.2h1.2v1.2h-1.2z M124.1,283.0h1.2v1.2h-1.2z M123.7,282.0h1.0v1.0h-1.0z M104.6,267.0h1.0v1.0h-1.0z M112.8,271.6h1.2v1.2h-1.2z M103.0,273.5h1.3v1.3h-1.3z M103.8,282.0h1.1v1.1h-1.1z M96.1,275.0h1.1v1.1h-1.1z M98.5,259.1h1.3v1.3h-1.3z M95.7,265.9h1.3v1.3h-1.3z" fill="#000"/>
<path d="M132.7,226.0 L130.3,228.4 L130.4,227.5 L128.1,228.4 L126.9,228.3 L126.0,228.1 L124.1,227.9 L123.2,227.8 L122.9,228.7 L121.3,228.7 L120.9,227.9 L119.5,227.5 L119.2,227.9 L116.8,227.0 L116.8,227.2 L115.6,226.5 L114.6,227.1 L112.4,226.4 L111.4,225.9 L111.3,225.4 L109.7,223.0 L111.4,222.8 L111.8,221.8 L113.7,221.4 L115.0,221.6 L115.6,221.8 L117.3,222.2 L117.5,222.3 L118.9,221.7 L120.6,222.4 L121.6,222.9 L122.0,222.1 L123.7,222.3 L124.0,222.4 L126.0,223.6 L127.0,224.2 L128.3,223.5 L128.7,224.5 L129.4,225.0 L130.6,224.8 L131.9,226.7" fill="none" stroke="#000" stroke-width="1.2" stroke-linejoin="round"/>
<path d="M118.5,223.5 L117.5,225.4 L115.9,224.8 L114.5,225.2 L113.9,225.2 L113.0,225.1 L112.0,224.4 L110.3,224.4 L109.5,222.9 L111.1,221.7 L111.8,221.8 L113.3,222.1 L114.0,221.7 L115.6,222.4 L116.4,221.8 L117.2,222.6 L118.5,223.9" fill="none" stroke="#000" stroke-width="1.2" stroke-linejoin="round"/>
<path d="M131.5,228.6 L131.3,230.0 L129.6,230.1 L129.0,229.8 L127.4,230.1 L127.0,229.6 L125.4,229.0 L124.5,229.0 L123.5,227.7 L123.9,226.6 L122.9,225.5 L123.8,225.5 L125.4,224.6 L125.8,225.3 L127.1,225.0 L127.9,225.1 L129.7,225.5 L129.9,226.7 L131.4,227.5 L131.4,228.5 L131.7,229.0" fill="none" stroke="#000" stroke-width="1.2" stroke-linejoin="round"/>
<path d="M122.7,236.2 L122.2,238.5 L121.5,238.7 L120.1,240.1 L118.8,240.1 L117.8,239.7 L116.2,238.6 L117.1,236.4 L118.0,235.8 L118.4,235.4 L119.8,234.9 L121.0,235.4 L122.6,236.4" fill="none" stroke="#000" stroke-width="1.2" stroke-linejoin="round"/>
<path d="M115.1,244.6 L113.6,245.8 L113.1,246.2 L112.4,246.0 L111.3,246.1 L109.8,245.5 L109.1,244.4 L109.9,243.1 L110.8,243.5 L111.9,243.0 L113.3,243.3 L113.8,243.7 L114.8,244.5" fill="none" stroke="#000" stroke-width="1.2" stroke-linejoin="round"/>
<path d="M109.3,248.7 L109.1,250.2 L108.2,250.6 L107.2,251.6 L106.1,251.7 L104.6,252.3 L103.3,251.6 L103.5,250.4 L104.5,248.8 L105.4,248.5 L106.4,248.1 L107.0,247.9 L109.0,248.2" fill="none" stroke="#000" stroke-width="1.2" stroke-linejoin="round"/>
<path d="M97.1,255.9 L97.3,255.7 L98.7,255.0 L98.3,253.3 L99.0,252.2 L99.7,251.2 L101.5,251.1 L101.3,250.3 L103.4,250.0 L103.9,249.8 L105.5,250.1 L105.7,249.0 L107.6,248.1 L108.6,247.9 L108.7,248.0 L110.1,246.6 L111.1,247.7 L112.0,247.0 L112.9,247.2 L114.3,245.8 L114.8,245.7 L116.0,245.5" fill="none" stroke="#000" stroke-width="1.0" stroke-linejoin="round"/>
<path d="M104.0,252.4 L103.3,253.9 L101.9,254.9 L100.4,255.5 L99.3,254.4 L99.5,253.7 L101.0,252.1 L102.3,251.9 L103.7,252.2" fill="none" stroke="#000" stroke-width="1.0" stroke-linejoin="round"/>
<path d="M110.8,250.0 L110.6,251.8 L108.9,252.2 L107.5,252.8 L106.2,251.6 L106.6,250.8 L107.8,249.7 L109.6,249.7 L110.6,250.2" fill="none" stroke="#000" stroke-width="1.0" stroke-linejoin="round"/>
<path d="M101.6,255.2 L99.8,255.9 L98.2,256.3 M129.9,230.2 L128.7,231.6 L127.2,232.2 M119.6,224.8 L118.8,224.9 L117.4,225.8 M125.2,225.0 L124.4,225.5 L122.5,224.8 M124.1,219.6 L122.3,219.5 L121.9,218.8 M98.7,248.5 L99.7,248.6 L101.0,248.8 L102.4,250.2 M104.9,251.5 L104.5,252.5 L105.1,253.3 L106.3,253.9 M114.4,223.3 L115.5,223.6 L116.4,223.6 M99.9,245.8 L100.0,244.5 L101.1,243.6 L100.7,241.9 M114.6,236.4 L114.4,235.4 L114.8,233.8 L113.4,232.9 M120.4,243.5 L119.5,244.2 L118.2,243.6 L117.2,243.5 L115.9,244.7 M114.7,235.8 L116.2,234.9 L117.3,233.3 L117.0,232.3 M119.8,238.7 L120.8,237.3 L121.4,236.9 L122.5,237.2 M113.0,220.1 L114.3,220.8 L114.4,221.7 M132.1,233.2 L131.8,232.4 L132.8,231.0 L134.3,229.7 L134.1,228.9 M120.6,219.7 L121.9,221.1 L122.8,221.2 L123.5,222.1 L124.5,222.9 M131.1,222.0 L131.7,221.4 L133.0,220.4 L132.7,219.2 L133.4,217.9 M126.7,236.6 L127.4,235.9 L128.1,234.6 L128.3,233.2 M130.9,223.0 L130.1,224.6 L128.5,224.5 L127.0,225.2 L126.1,226.4 M102.2,251.0 L101.9,252.8 L103.0,253.5 M115.8,244.6 L114.8,245.0 L114.3,246.8 M113.2,245.5 L112.9,244.8 L113.3,243.7 L112.6,242.9 L112.6,241.9 M115.8,236.0 L117.1,234.9 L118.3,233.6 L119.3,231.9 L119.7,231.1 M125.2,221.1 L126.4,222.6 L128.0,223.5 L128.1,224.6 L128.3,225.9 M130.5,224.0 L131.6,223.8 L132.3,224.5 M101.3,249.2 L102.1,249.8 L102.1,250.8 L101.3,251.5 L101.1,252.2 M102.3,256.9 L103.6,257.2 L104.2,258.4 M99.8,253.4 L98.8,252.2 L97.9,251.2 L96.8,251.1 L95.9,250.9 M108.4,252.4 L109.3,251.7 L110.1,250.5 L111.5,250.0 M102.3,252.2 L103.4,251.9 L104.6,251.0 M103.0,247.4 L101.8,247.8 L100.0,247.2 L99.0,246.3 M132.3,223.3 L131.1,222.3 L129.2,221.9 M105.5,255.9 L106.3,254.7 L107.7,253.8 L108.0,253.0 L107.9,252.1 M106.4,255.9 L105.5,257.1 L105.1,258.6 L104.7,259.5 L103.7,261.2 M131.3,224.4 L131.2,225.8 L131.8,227.7 L132.6,229.0 L134.4,229.0 M134.3,219.6 L134.4,221.5 L135.1,221.8 M111.0,230.6 L111.9,230.8 L112.7,230.3 L114.3,229.7 M117.9,232.3 L118.7,231.9 L119.3,232.2 M130.9,230.0 L131.2,228.9 L132.0,228.2 L133.8,227.8 L135.0,227.3 M108.6,253.2 L107.3,253.5 L106.3,252.2" fill="none" stroke="#000" stroke-width="0.9"/>
<path d="M108.0,214.7h1.2v1.2h-1.2z M127.4,221.4h1.0v1.0h-1.0z M118.5,225.7h1.0v1.0h-1.0z M123.8,227.5h1.1v1.1h-1.1z M131.5,216.0h0.9v0.9h-0.9z M112.1,242.9h1.0v1.0h-1.0z M129.2,216.3h1.0v1.0h-1.0z M105.3,254.7h1.0v1.0h-1.0z M130.9,230.9h1.0v1.0h-1.0z M118.8,231.9h1.4v1.4h-1.4z M123.7,224.5h1.4v1.4h-1.4z M132.7,216.7h1.3v1.3h-1.3z M135.2,232.4h1.4v1.4h-1.4z M131.3,236.5h1.0v1.0h-1.0z M126.6,218.6h1.2v1.2h-1.2z M101.0,240.6h1.1v1.1h-1.1z M116.0,244.0h1.2v1.2h-1.2z M118.8,225.9h0.9v0.9h-0.9z M114.2,245.3h1.1v1.1h-1.1z M113.2,232.2h1.4v1.4h-1.4z M132.5,226.4h1.1v1.1h-1.1z M115.8,244.7h1.0v1.0h-1.0z M125.9,228.5h1.3v1.3h-1.3z M128.9,235.4h1.1v1.1h-1.1z M137.4,230.2h1.4v1.4h-1.4z M126.9,218.0h1.0v1.0h-1.0z M97.5,244.5h1.2v1.2h-1.2z M120.1,223.2h1.3v1.3h-1.3z M131.7,223.6h1.4v1.4h-1.4z M133.0,218.3h1.2v1.2h-1.2z M131.7,217.0h1.0v1.0h-1.0z M112.8,241.8h1.1v1.1h-1.1z M106.1,240.9h1.2v1.2h-1.2z M108.8,233.7h1.2v1.2h-1.2z M109.0,251.3h0.9v0.9h-0.9z M134.0,221.1h1.1v1.1h-1.1z M111.5,244.4h1.2v1.2h-1.2z M121.3,237.6h1.4v1.4h-1.4z M122.0,244.5h1.1v1.1h-1.1z M97.0,252.5h0.9v0.9h-0.9z M137.9,221.7h1.1v1.1h-1.1z M102.9,253.3h0.9v0.9h-0.9z M111.8,252.0h1.1v1.1h-1.1z M103.8,248.7h1.3v1.3h-1.3z M108.2,236.5h1.3v1.3h-1.3z" fill="#000"/>
<rect x="168" y="196.8" width="96.19999999999999" height="92.19999999999999" fill="none" stroke="#000" stroke-width="1.3"/>
<line x1="168.00" y1="196.20" x2="168.00" y2="290.00" stroke="#000" stroke-width="2.2"/>
<line x1="167.50" y1="289.00" x2="264.80" y2="289.00" stroke="#000" stroke-width="2.2"/>
<line x1="164.20" y1="289.00" x2="168.00" y2="289.00" stroke="#000" stroke-width="0.9"/>
<line x1="165.60" y1="282.06" x2="168.00" y2="282.06" stroke="#000" stroke-width="0.9"/>
<line x1="165.60" y1="278.00" x2="168.00" y2="278.00" stroke="#000" stroke-width="0.9"/>
<line x1="165.60" y1="275.12" x2="168.00" y2="275.12" stroke="#000" stroke-width="0.9"/>
<line x1="165.60" y1="272.89" x2="168.00" y2="272.89" stroke="#000" stroke-width="0.9"/>
<line x1="165.60" y1="271.06" x2="168.00" y2="271.06" stroke="#000" stroke-width="0.9"/>
<line x1="165.60" y1="269.52" x2="168.00" y2="269.52" stroke="#000" stroke-width="0.9"/>
<line x1="165.60" y1="268.18" x2="168.00" y2="268.18" stroke="#000" stroke-width="0.9"/>
<line x1="165.60" y1="267.00" x2="168.00" y2="267.00" stroke="#000" stroke-width="0.9"/>
<line x1="164.20" y1="265.95" x2="168.00" y2="265.95" stroke="#000" stroke-width="0.9"/>
<line x1="165.60" y1="259.01" x2="168.00" y2="259.01" stroke="#000" stroke-width="0.9"/>
<line x1="165.60" y1="254.95" x2="168.00" y2="254.95" stroke="#000" stroke-width="0.9"/>
<line x1="165.60" y1="252.07" x2="168.00" y2="252.07" stroke="#000" stroke-width="0.9"/>
<line x1="165.60" y1="249.84" x2="168.00" y2="249.84" stroke="#000" stroke-width="0.9"/>
<line x1="165.60" y1="248.01" x2="168.00" y2="248.01" stroke="#000" stroke-width="0.9"/>
<line x1="165.60" y1="246.47" x2="168.00" y2="246.47" stroke="#000" stroke-width="0.9"/>
<line x1="165.60" y1="245.13" x2="168.00" y2="245.13" stroke="#000" stroke-width="0.9"/>
<line x1="165.60" y1="243.95" x2="168.00" y2="243.95" stroke="#000" stroke-width="0.9"/>
<line x1="164.20" y1="242.90" x2="168.00" y2="242.90" stroke="#000" stroke-width="0.9"/>
<line x1="165.60" y1="235.96" x2="168.00" y2="235.96" stroke="#000" stroke-width="0.9"/>
<line x1="165.60" y1="231.90" x2="168.00" y2="231.90" stroke="#000" stroke-width="0.9"/>
<line x1="165.60" y1="229.02" x2="168.00" y2="229.02" stroke="#000" stroke-width="0.9"/>
<line x1="165.60" y1="226.79" x2="168.00" y2="226.79" stroke="#000" stroke-width="0.9"/>
<line x1="165.60" y1="224.96" x2="168.00" y2="224.96" stroke="#000" stroke-width="0.9"/>
<line x1="165.60" y1="223.42" x2="168.00" y2="223.42" stroke="#000" stroke-width="0.9"/>
<line x1="165.60" y1="222.08" x2="168.00" y2="222.08" stroke="#000" stroke-width="0.9"/>
<line x1="165.60" y1="220.90" x2="168.00" y2="220.90" stroke="#000" stroke-width="0.9"/>
<line x1="164.20" y1="219.85" x2="168.00" y2="219.85" stroke="#000" stroke-width="0.9"/>
<line x1="165.60" y1="212.91" x2="168.00" y2="212.91" stroke="#000" stroke-width="0.9"/>
<line x1="165.60" y1="208.85" x2="168.00" y2="208.85" stroke="#000" stroke-width="0.9"/>
<line x1="165.60" y1="205.97" x2="168.00" y2="205.97" stroke="#000" stroke-width="0.9"/>
<line x1="165.60" y1="203.74" x2="168.00" y2="203.74" stroke="#000" stroke-width="0.9"/>
<line x1="165.60" y1="201.91" x2="168.00" y2="201.91" stroke="#000" stroke-width="0.9"/>
<line x1="165.60" y1="200.37" x2="168.00" y2="200.37" stroke="#000" stroke-width="0.9"/>
<line x1="165.60" y1="199.03" x2="168.00" y2="199.03" stroke="#000" stroke-width="0.9"/>
<line x1="165.60" y1="197.85" x2="168.00" y2="197.85" stroke="#000" stroke-width="0.9"/>
<line x1="164.20" y1="196.80" x2="168.00" y2="196.80" stroke="#000" stroke-width="0.9"/>
<line x1="168.00" y1="289.00" x2="168.00" y2="292.80" stroke="#000" stroke-width="0.9"/>
<line x1="175.24" y1="289.00" x2="175.24" y2="291.40" stroke="#000" stroke-width="0.9"/>
<line x1="179.47" y1="289.00" x2="179.47" y2="291.40" stroke="#000" stroke-width="0.9"/>
<line x1="182.48" y1="289.00" x2="182.48" y2="291.40" stroke="#000" stroke-width="0.9"/>
<line x1="184.81" y1="289.00" x2="184.81" y2="291.40" stroke="#000" stroke-width="0.9"/>
<line x1="186.71" y1="289.00" x2="186.71" y2="291.40" stroke="#000" stroke-width="0.9"/>
<line x1="188.32" y1="289.00" x2="188.32" y2="291.40" stroke="#000" stroke-width="0.9"/>
<line x1="189.72" y1="289.00" x2="189.72" y2="291.40" stroke="#000" stroke-width="0.9"/>
<line x1="190.95" y1="289.00" x2="190.95" y2="291.40" stroke="#000" stroke-width="0.9"/>
<line x1="192.05" y1="289.00" x2="192.05" y2="292.80" stroke="#000" stroke-width="0.9"/>
<line x1="199.29" y1="289.00" x2="199.29" y2="291.40" stroke="#000" stroke-width="0.9"/>
<line x1="203.52" y1="289.00" x2="203.52" y2="291.40" stroke="#000" stroke-width="0.9"/>
<line x1="206.53" y1="289.00" x2="206.53" y2="291.40" stroke="#000" stroke-width="0.9"/>
<line x1="208.86" y1="289.00" x2="208.86" y2="291.40" stroke="#000" stroke-width="0.9"/>
<line x1="210.76" y1="289.00" x2="210.76" y2="291.40" stroke="#000" stroke-width="0.9"/>
<line x1="212.37" y1="289.00" x2="212.37" y2="291.40" stroke="#000" stroke-width="0.9"/>
<line x1="213.77" y1="289.00" x2="213.77" y2="291.40" stroke="#000" stroke-width="0.9"/>
<line x1="215.00" y1="289.00" x2="215.00" y2="291.40" stroke="#000" stroke-width="0.9"/>
<line x1="216.10" y1="289.00" x2="216.10" y2="292.80" stroke="#000" stroke-width="0.9"/>
<line x1="223.34" y1="289.00" x2="223.34" y2="291.40" stroke="#000" stroke-width="0.9"/>
<line x1="227.57" y1="289.00" x2="227.57" y2="291.40" stroke="#000" stroke-width="0.9"/>
<line x1="230.58" y1="289.00" x2="230.58" y2="291.40" stroke="#000" stroke-width="0.9"/>
<line x1="232.91" y1="289.00" x2="232.91" y2="291.40" stroke="#000" stroke-width="0.9"/>
<line x1="234.81" y1="289.00" x2="234.81" y2="291.40" stroke="#000" stroke-width="0.9"/>
<line x1="236.42" y1="289.00" x2="236.42" y2="291.40" stroke="#000" stroke-width="0.9"/>
<line x1="237.82" y1="289.00" x2="237.82" y2="291.40" stroke="#000" stroke-width="0.9"/>
<line x1="239.05" y1="289.00" x2="239.05" y2="291.40" stroke="#000" stroke-width="0.9"/>
<line x1="240.15" y1="289.00" x2="240.15" y2="292.80" stroke="#000" stroke-width="0.9"/>
<line x1="247.39" y1="289.00" x2="247.39" y2="291.40" stroke="#000" stroke-width="0.9"/>
<line x1="251.62" y1="289.00" x2="251.62" y2="291.40" stroke="#000" stroke-width="0.9"/>
<line x1="254.63" y1="289.00" x2="254.63" y2="291.40" stroke="#000" stroke-width="0.9"/>
<line x1="256.96" y1="289.00" x2="256.96" y2="291.40" stroke="#000" stroke-width="0.9"/>
<line x1="258.86" y1="289.00" x2="258.86" y2="291.40" stroke="#000" stroke-width="0.9"/>
<line x1="260.47" y1="289.00" x2="260.47" y2="291.40" stroke="#000" stroke-width="0.9"/>
<line x1="261.87" y1="289.00" x2="261.87" y2="291.40" stroke="#000" stroke-width="0.9"/>
<line x1="263.10" y1="289.00" x2="263.10" y2="291.40" stroke="#000" stroke-width="0.9"/>
<line x1="264.20" y1="289.00" x2="264.20" y2="292.80" stroke="#000" stroke-width="0.9"/>
<line x1="220.50" y1="196.80" x2="220.50" y2="289.00" stroke="#000" stroke-width="2.1"/>
<line x1="168.00" y1="257.50" x2="264.20" y2="257.50" stroke="#000" stroke-width="2.1"/>
<g font-family='"Liberation Sans", sans-serif' font-weight="bold" stroke="#000" stroke-width="0.2"><text x="162.34" y="303.4" font-size="8.7" textLength="7.40" lengthAdjust="spacingAndGlyphs">10</text><text x="170.74" y="299.10" font-size="7.40">0</text></g>
<g font-family='"Liberation Sans", sans-serif' font-weight="bold" stroke="#000" stroke-width="0.2"><text x="186.39" y="303.4" font-size="8.7" textLength="7.40" lengthAdjust="spacingAndGlyphs">10</text><text x="194.79" y="299.10" font-size="7.40">1</text></g>
<g font-family='"Liberation Sans", sans-serif' font-weight="bold" stroke="#000" stroke-width="0.2"><text x="210.44" y="303.4" font-size="8.7" textLength="7.40" lengthAdjust="spacingAndGlyphs">10</text><text x="218.84" y="299.10" font-size="7.40">2</text></g>
<g font-family='"Liberation Sans", sans-serif' font-weight="bold" stroke="#000" stroke-width="0.2"><text x="234.49" y="303.4" font-size="8.7" textLength="7.40" lengthAdjust="spacingAndGlyphs">10</text><text x="242.89" y="299.10" font-size="7.40">3</text></g>
<g font-family='"Liberation Sans", sans-serif' font-weight="bold" stroke="#000" stroke-width="0.2"><text x="258.54" y="303.4" font-size="8.7" textLength="7.40" lengthAdjust="spacingAndGlyphs">10</text><text x="266.94" y="299.10" font-size="7.40">4</text></g>
<g transform="rotate(-90 162.4 289)" font-family='"Liberation Sans", sans-serif' font-weight="bold" stroke="#000" stroke-width="0.2"><text x="155.63" y="289" font-size="8.3" textLength="8.40" lengthAdjust="spacingAndGlyphs">10</text><text x="164.83" y="284.50" font-size="7.80">0</text></g>
<g transform="rotate(-90 162.4 266)" font-family='"Liberation Sans", sans-serif' font-weight="bold" stroke="#000" stroke-width="0.2"><text x="155.63" y="266" font-size="8.3" textLength="8.40" lengthAdjust="spacingAndGlyphs">10</text><text x="164.83" y="261.50" font-size="7.80">1</text></g>
<g transform="rotate(-90 162.4 243.1)" font-family='"Liberation Sans", sans-serif' font-weight="bold" stroke="#000" stroke-width="0.2"><text x="155.63" y="243.1" font-size="8.3" textLength="8.40" lengthAdjust="spacingAndGlyphs">10</text><text x="164.83" y="238.60" font-size="7.80">2</text></g>
<g transform="rotate(-90 162.4 220.1)" font-family='"Liberation Sans", sans-serif' font-weight="bold" stroke="#000" stroke-width="0.2"><text x="155.63" y="220.1" font-size="8.3" textLength="8.40" lengthAdjust="spacingAndGlyphs">10</text><text x="164.83" y="215.60" font-size="7.80">3</text></g>
<g transform="rotate(-90 162.4 197.2)" font-family='"Liberation Sans", sans-serif' font-weight="bold" stroke="#000" stroke-width="0.2"><text x="155.63" y="197.2" font-size="8.3" textLength="8.40" lengthAdjust="spacingAndGlyphs">10</text><text x="164.83" y="192.70" font-size="7.80">4</text></g>
<text x="257" y="211.8" font-family='"Liberation Sans", sans-serif' font-size="14" font-weight="normal" text-anchor="end" stroke="#000" stroke-width="0.3">2</text>
<text x="259.3" y="271.7" font-family='"Liberation Sans", sans-serif' font-size="14" font-weight="normal" text-anchor="end" stroke="#000" stroke-width="0.3">3</text>
<path d="M168.5,267.0 L169.8,266.7 L171.6,267.2 L172.5,267.1 L173.2,266.7 L173.8,265.8 L175.4,266.0 L176.1,265.4 L176.5,266.2 L177.6,265.6 L179.2,265.5 L180.1,264.7 L181.5,264.4 L182.6,265.3 L182.6,264.7 L183.9,263.9 L185.7,264.5 L186.1,264.3 L187.3,265.0 L188.8,264.6 L189.6,265.7 L190.3,265.6 L191.5,265.7 L193.3,265.4 L194.4,265.3 L194.8,266.5 L196.3,266.7 L197.3,265.7 L197.7,266.2 L199.1,267.2 L200.6,266.8 L201.5,267.4 L202.3,267.2 L203.4,267.7 L205.0,268.2 L205.4,267.7 L207.3,268.3 L207.5,268.4 L208.5,268.5 L209.7,269.9 L210.6,270.0 L211.4,270.9 L212.5,271.8 L213.2,271.9 L212.9,273.0 L214.2,274.5 L213.6,275.3 L214.2,275.6 L215.2,276.7 L215.5,278.2 L215.0,279.2 L216.1,279.9 L215.7,280.8 L215.9,282.5 L216.8,283.2 L217.1,285.0 L217.0,285.6" fill="none" stroke="#000" stroke-width="1.2" stroke-linejoin="round"/>
<path d="M173.5,285.9 L173.5,284.6 L174.0,283.8 L174.2,282.0 L174.3,280.9 L174.7,280.1 L174.4,279.4 L174.7,277.9 L175.0,276.7 L174.5,276.4 L174.9,275.1 L175.2,273.8 L175.0,273.2 L175.9,271.7 L176.6,271.2 L177.5,271.0 L177.8,271.0 L179.5,269.9 L180.4,269.6 L180.7,269.1 L182.5,269.4 L183.3,268.7 L184.6,268.0 L185.2,267.9 L186.7,268.8 L187.2,268.2 L188.4,268.7 L190.1,268.0 L191.0,268.9 L191.7,268.2 L192.8,268.9 L193.9,268.4 L194.8,269.2 L196.1,268.6 L197.8,268.9 L198.8,269.5 L199.2,269.4 L200.2,270.0 L200.5,270.4 L201.5,271.3 L202.2,272.4 L203.0,272.7 L203.3,274.1 L204.1,275.2 L204.4,276.1 L204.6,277.3 L204.8,278.3 L205.7,279.5 L205.4,279.9 L205.7,282.0 L206.3,282.7" fill="none" stroke="#000" stroke-width="1.2" stroke-linejoin="round"/>
<path d="M182.6,286.0 L182.4,284.2 L182.7,283.7 L182.7,281.8 L182.7,281.1 L182.7,279.8 L183.5,279.3 L183.4,278.1 L184.1,276.7 L183.9,275.6 L184.0,274.9 L185.3,274.4 L185.9,273.4 L186.7,272.8 L187.6,272.3 L189.5,272.5 L190.3,271.9 L192.0,272.5 L192.7,272.7 L194.2,273.0 L194.9,273.3 L195.9,273.9 L196.4,274.0 L197.0,275.0 L197.1,276.3 L197.7,276.8 L198.1,278.2 L198.4,279.0 L198.7,280.4 L198.9,281.3 L198.9,282.6 L199.0,283.3 L199.5,284.4 L199.6,285.6" fill="none" stroke="#000" stroke-width="1.2" stroke-linejoin="round"/>
<path d="M169.1,287.3 L169.8,287.4 L171.2,287.3 L171.7,287.2 L173.1,287.6 L174.2,287.7 L175.0,287.7 L175.8,287.7 L176.9,287.5 L178.2,287.7 L178.9,287.7 L179.8,287.2 L181.0,287.6 L182.2,287.5 L183.1,287.2 L183.9,287.8 L185.0,287.6 L185.9,287.8 L187.0,287.8 L188.0,287.6 L188.9,287.2 L189.8,287.5 L191.0,287.3 L192.2,287.7 L193.1,287.4 L194.0,287.2 L195.0,287.4 L196.0,287.6 L197.0,287.3 L198.0,287.4 L198.9,287.4 L200.2,287.4 L200.9,287.3 L202.2,287.5 L203.1,287.6 L203.8,287.5 L205.0,287.8 L206.2,287.7 L206.8,287.5 L207.8,287.7 L208.7,287.4 L210.1,287.4 L211.1,287.8 L211.9,287.3 L213.1,287.4 L214.2,287.3 L215.1,287.5 L216.0,287.7 L217.3,287.4 L218.1,287.3 L219.1,287.5 L220.3,287.4 L221.1,287.4 L221.9,287.4 L222.8,287.5 L223.9,287.5 L224.7,287.2 L226.1,287.2 L227.0,287.3 L227.9,287.7 L229.2,287.5 L229.9,287.6 L231.3,287.7 L231.8,287.5 L232.8,287.3 L234.2,287.5 L235.0,287.7 L236.0,287.3 L237.0,287.8 L238.0,287.5" fill="none" stroke="#000" stroke-width="1.2" stroke-linejoin="round"/>
<path d="M169.3,284.5 L169.3,282.6 L169.7,282.4 L170.9,280.7 L171.0,279.9 L171.4,279.3 L171.1,278.4 L171.7,276.7 L172.1,276.0 L171.4,275.2 L170.6,273.9 L170.2,272.6 L170.0,272.0" fill="none" stroke="#000" stroke-width="1.2" stroke-linejoin="round"/>
<path d="M208.1,283.5 L208.7,283.3 L208.9,282.1 L209.3,281.4 L209.6,279.6 L209.9,279.4 L210.6,277.8 L211.0,276.6 L212.0,276.0" fill="none" stroke="#000" stroke-width="1.2" stroke-linejoin="round"/>
<path d="M218.2,282.6 L216.4,282.7 L215.3,282.5 L214.8,281.4 M174.1,271.3 L174.7,270.4 L175.2,269.1 L175.6,267.8 L176.4,266.1 M203.4,267.4 L204.1,266.8 L204.2,265.4 L203.5,263.6 L204.4,262.8 M208.7,278.8 L209.5,278.5 L209.7,276.7 M206.2,275.6 L205.4,276.9 L205.5,278.0 M193.6,272.9 L192.8,274.4 L192.4,275.4 L191.6,275.4 M193.5,275.3 L194.0,275.9 L194.9,276.4 L195.5,277.0 M196.1,272.4 L195.1,273.1 L194.4,273.6 M205.6,274.7 L204.7,273.1 L204.6,272.0 L206.1,270.9 M213.8,269.2 L212.4,269.8 L212.4,271.0 L213.3,272.5 M189.0,285.2 L188.1,284.0 L187.9,282.1 L188.1,280.8 M200.7,276.3 L201.3,274.8 L202.6,273.7 M181.2,285.8 L181.4,286.8 L181.0,288.1 L180.4,289.1 L179.1,290.5 M208.0,286.8 L207.6,285.9 L206.7,284.3 L207.4,283.4" fill="none" stroke="#000" stroke-width="0.9"/>
<path d="M187.5,276.3h1.4v1.4h-1.4z M171.6,265.3h1.4v1.4h-1.4z M169.0,284.6h1.3v1.3h-1.3z M206.4,270.8h0.9v0.9h-0.9z M188.0,287.1h1.2v1.2h-1.2z M171.0,285.7h1.4v1.4h-1.4z M192.0,282.3h1.2v1.2h-1.2z M210.9,265.3h1.4v1.4h-1.4z M176.7,270.3h1.4v1.4h-1.4z M171.7,286.6h1.1v1.1h-1.1z M213.9,266.9h1.2v1.2h-1.2z M195.1,283.8h1.5v1.5h-1.5z M217.9,265.5h1.0v1.0h-1.0z M204.3,272.6h1.0v1.0h-1.0z M202.8,274.1h1.4v1.4h-1.4z M199.2,267.0h1.3v1.3h-1.3z M187.6,266.1h1.3v1.3h-1.3z M170.0,285.6h1.0v1.0h-1.0z M184.3,262.2h1.1v1.1h-1.1z M206.0,286.8h1.3v1.3h-1.3z M209.3,276.6h1.2v1.2h-1.2z M173.6,272.9h1.0v1.0h-1.0z" fill="#000"/>
<path d="M242.6,279.0 L242.2,280.0 L242.3,280.4 L242.2,281.4 L242.4,282.9 L241.1,283.8 L240.5,285.0 L239.6,283.9 L239.4,282.8 L239.6,282.0 L238.8,280.5 L239.1,279.2 L239.3,278.3 L239.2,277.5 L239.7,276.0 L240.0,274.7 L239.9,273.6 L240.5,272.8 L241.9,272.1 L242.1,273.5 L242.9,274.5 L242.5,275.1 L243.1,276.8 L243.2,277.5 L242.8,278.7" fill="none" stroke="#000" stroke-width="1.2" stroke-linejoin="round"/>
<path d="M235.1,286.5 L236.2,285.8 L236.9,285.4 L237.9,285.0 L238.9,285.2 L239.8,284.8 L241.2,284.7 L242.1,284.8 L242.7,284.6 L244.0,284.5 L245.2,285.2 L245.8,285.3 L247.0,285.9 L248.3,285.8 L248.6,286.6 L250.0,286.5" fill="none" stroke="#000" stroke-width="1.2" stroke-linejoin="round"/>
<path d="M242.4,282.7h1.3v1.3h-1.3z M224.6,281.4h1.5v1.5h-1.5z M230.7,272.3h1.1v1.1h-1.1z M240.5,282.4h1.2v1.2h-1.2z M234.1,276.2h1.0v1.0h-1.0z M230.6,270.4h1.3v1.3h-1.3z M243.3,287.7h1.3v1.3h-1.3z M238.0,281.3h1.0v1.0h-1.0z M239.6,278.7h1.5v1.5h-1.5z M231.2,276.1h1.5v1.5h-1.5z M242.5,268.8h1.2v1.2h-1.2z M236.3,281.9h1.4v1.4h-1.4z" fill="#000"/>
<path d="M250.6,228.4 L249.4,229.4 L248.6,229.7 L247.8,230.0 L245.8,230.2 L244.8,229.6 L243.6,229.4 L242.8,229.7 L241.4,228.7 L240.2,228.6 L238.9,227.8 L237.9,228.1 L236.9,227.4 L235.7,226.8 L234.4,225.4 L233.7,224.8 L234.0,224.1 L234.2,222.0 L235.1,222.3 L236.1,221.2 L237.1,221.5 L238.6,221.3 L240.3,221.9 L241.1,222.2 L242.2,221.8 L243.8,222.7 L244.9,223.0 L246.0,223.7 L246.7,223.9 L248.1,224.8 L248.9,225.2 L250.0,226.6 L250.3,227.4 L251.0,228.6" fill="none" stroke="#000" stroke-width="1.2" stroke-linejoin="round"/>
<path d="M243.4,225.7 L242.5,226.2 L241.7,226.6 L240.4,226.3 L239.3,226.3 L237.7,226.6 L236.9,226.0 L235.6,225.4 L234.9,224.4 L234.4,223.4 L233.9,223.2 L234.7,222.8 L235.2,221.9 L236.3,222.4 L238.3,222.0 L238.5,222.1 L240.5,222.5 L240.8,223.2 L242.1,223.6 L242.9,225.1 L243.3,225.5" fill="none" stroke="#000" stroke-width="1.1" stroke-linejoin="round"/>
<path d="M250.4,229.6 L249.0,230.7 L247.9,230.7 L247.0,230.4 L246.3,229.4 L245.3,229.1 L245.2,226.8 L246.4,226.0 L247.8,225.8 L248.7,226.3 L249.7,226.7 L250.4,227.9 L250.5,229.5" fill="none" stroke="#000" stroke-width="1.1" stroke-linejoin="round"/>
<path d="M243.7,225.7 L242.9,226.3 L241.8,226.2 L240.4,226.4 L239.7,225.6 L238.7,225.5 L237.8,224.2 L239.2,223.5 L240.0,223.7 L241.6,223.7 L242.1,224.4 L243.1,224.6 L243.9,225.8" fill="none" stroke="#000" stroke-width="1.0" stroke-linejoin="round"/>
<path d="M238.0,222.8 L237.9,223.8 L237.8,225.0 L238.6,226.0 L239.7,226.9 M238.4,222.1 L238.0,220.9 L237.8,220.1 M240.0,223.7 L239.0,223.7 L237.6,224.1 M237.2,225.9 L237.4,227.2 L237.4,228.0 L236.6,228.4 M246.5,227.5 L245.4,227.3 L244.2,227.6 L243.2,227.1 M238.3,224.1 L238.7,223.4 L239.9,223.1 M245.6,226.5 L246.7,227.1 L248.1,227.1 L249.3,226.9 M242.5,223.4 L243.0,223.9 L243.7,225.0 M238.3,225.4 L238.8,224.8 L239.6,225.1 L239.8,226.5 M241.9,225.4 L240.4,225.3 L239.7,225.6 M236.9,225.7 L237.8,225.8 L238.5,225.7 M248.7,225.4 L247.8,224.8 L247.3,223.7 L246.1,223.3 L245.0,223.1 M239.3,225.7 L239.3,224.4 L239.6,223.3 M241.9,227.8 L242.3,228.5 L243.3,229.1 L244.0,229.5" fill="none" stroke="#000" stroke-width="1.0"/>
<path d="M233.5,224 l3,2 l3,-1 l3,2 l3,-1 l3,2 M250,226 l2,4 l-1,2" stroke="#000" stroke-width="1.2" fill="none"/>
<path d="M249.0,215.1h1.3v1.3h-1.3z" fill="#000"/>
<rect x="289.5" y="196.6" width="95.80000000000001" height="92.4" fill="none" stroke="#000" stroke-width="1.3"/>
<line x1="289.50" y1="196.00" x2="289.50" y2="290.00" stroke="#000" stroke-width="2.2"/>
<line x1="289.00" y1="289.00" x2="385.90" y2="289.00" stroke="#000" stroke-width="2.2"/>
<line x1="285.70" y1="289.00" x2="289.50" y2="289.00" stroke="#000" stroke-width="0.9"/>
<line x1="287.10" y1="282.05" x2="289.50" y2="282.05" stroke="#000" stroke-width="0.9"/>
<line x1="287.10" y1="277.98" x2="289.50" y2="277.98" stroke="#000" stroke-width="0.9"/>
<line x1="287.10" y1="275.09" x2="289.50" y2="275.09" stroke="#000" stroke-width="0.9"/>
<line x1="287.10" y1="272.85" x2="289.50" y2="272.85" stroke="#000" stroke-width="0.9"/>
<line x1="287.10" y1="271.02" x2="289.50" y2="271.02" stroke="#000" stroke-width="0.9"/>
<line x1="287.10" y1="269.48" x2="289.50" y2="269.48" stroke="#000" stroke-width="0.9"/>
<line x1="287.10" y1="268.14" x2="289.50" y2="268.14" stroke="#000" stroke-width="0.9"/>
<line x1="287.10" y1="266.96" x2="289.50" y2="266.96" stroke="#000" stroke-width="0.9"/>
<line x1="285.70" y1="265.90" x2="289.50" y2="265.90" stroke="#000" stroke-width="0.9"/>
<line x1="287.10" y1="258.95" x2="289.50" y2="258.95" stroke="#000" stroke-width="0.9"/>
<line x1="287.10" y1="254.88" x2="289.50" y2="254.88" stroke="#000" stroke-width="0.9"/>
<line x1="287.10" y1="251.99" x2="289.50" y2="251.99" stroke="#000" stroke-width="0.9"/>
<line x1="287.10" y1="249.75" x2="289.50" y2="249.75" stroke="#000" stroke-width="0.9"/>
<line x1="287.10" y1="247.92" x2="289.50" y2="247.92" stroke="#000" stroke-width="0.9"/>
<line x1="287.10" y1="246.38" x2="289.50" y2="246.38" stroke="#000" stroke-width="0.9"/>
<line x1="287.10" y1="245.04" x2="289.50" y2="245.04" stroke="#000" stroke-width="0.9"/>
<line x1="287.10" y1="243.86" x2="289.50" y2="243.86" stroke="#000" stroke-width="0.9"/>
<line x1="285.70" y1="242.80" x2="289.50" y2="242.80" stroke="#000" stroke-width="0.9"/>
<line x1="287.10" y1="235.85" x2="289.50" y2="235.85" stroke="#000" stroke-width="0.9"/>
<line x1="287.10" y1="231.78" x2="289.50" y2="231.78" stroke="#000" stroke-width="0.9"/>
<line x1="287.10" y1="228.89" x2="289.50" y2="228.89" stroke="#000" stroke-width="0.9"/>
<line x1="287.10" y1="226.65" x2="289.50" y2="226.65" stroke="#000" stroke-width="0.9"/>
<line x1="287.10" y1="224.82" x2="289.50" y2="224.82" stroke="#000" stroke-width="0.9"/>
<line x1="287.10" y1="223.28" x2="289.50" y2="223.28" stroke="#000" stroke-width="0.9"/>
<line x1="287.10" y1="221.94" x2="289.50" y2="221.94" stroke="#000" stroke-width="0.9"/>
<line x1="287.10" y1="220.76" x2="289.50" y2="220.76" stroke="#000" stroke-width="0.9"/>
<line x1="285.70" y1="219.70" x2="289.50" y2="219.70" stroke="#000" stroke-width="0.9"/>
<line x1="287.10" y1="212.75" x2="289.50" y2="212.75" stroke="#000" stroke-width="0.9"/>
<line x1="287.10" y1="208.68" x2="289.50" y2="208.68" stroke="#000" stroke-width="0.9"/>
<line x1="287.10" y1="205.79" x2="289.50" y2="205.79" stroke="#000" stroke-width="0.9"/>
<line x1="287.10" y1="203.55" x2="289.50" y2="203.55" stroke="#000" stroke-width="0.9"/>
<line x1="287.10" y1="201.72" x2="289.50" y2="201.72" stroke="#000" stroke-width="0.9"/>
<line x1="287.10" y1="200.18" x2="289.50" y2="200.18" stroke="#000" stroke-width="0.9"/>
<line x1="287.10" y1="198.84" x2="289.50" y2="198.84" stroke="#000" stroke-width="0.9"/>
<line x1="287.10" y1="197.66" x2="289.50" y2="197.66" stroke="#000" stroke-width="0.9"/>
<line x1="285.70" y1="196.60" x2="289.50" y2="196.60" stroke="#000" stroke-width="0.9"/>
<line x1="289.50" y1="289.00" x2="289.50" y2="292.80" stroke="#000" stroke-width="0.9"/>
<line x1="296.71" y1="289.00" x2="296.71" y2="291.40" stroke="#000" stroke-width="0.9"/>
<line x1="300.93" y1="289.00" x2="300.93" y2="291.40" stroke="#000" stroke-width="0.9"/>
<line x1="303.92" y1="289.00" x2="303.92" y2="291.40" stroke="#000" stroke-width="0.9"/>
<line x1="306.24" y1="289.00" x2="306.24" y2="291.40" stroke="#000" stroke-width="0.9"/>
<line x1="308.14" y1="289.00" x2="308.14" y2="291.40" stroke="#000" stroke-width="0.9"/>
<line x1="309.74" y1="289.00" x2="309.74" y2="291.40" stroke="#000" stroke-width="0.9"/>
<line x1="311.13" y1="289.00" x2="311.13" y2="291.40" stroke="#000" stroke-width="0.9"/>
<line x1="312.35" y1="289.00" x2="312.35" y2="291.40" stroke="#000" stroke-width="0.9"/>
<line x1="313.45" y1="289.00" x2="313.45" y2="292.80" stroke="#000" stroke-width="0.9"/>
<line x1="320.66" y1="289.00" x2="320.66" y2="291.40" stroke="#000" stroke-width="0.9"/>
<line x1="324.88" y1="289.00" x2="324.88" y2="291.40" stroke="#000" stroke-width="0.9"/>
<line x1="327.87" y1="289.00" x2="327.87" y2="291.40" stroke="#000" stroke-width="0.9"/>
<line x1="330.19" y1="289.00" x2="330.19" y2="291.40" stroke="#000" stroke-width="0.9"/>
<line x1="332.09" y1="289.00" x2="332.09" y2="291.40" stroke="#000" stroke-width="0.9"/>
<line x1="333.69" y1="289.00" x2="333.69" y2="291.40" stroke="#000" stroke-width="0.9"/>
<line x1="335.08" y1="289.00" x2="335.08" y2="291.40" stroke="#000" stroke-width="0.9"/>
<line x1="336.30" y1="289.00" x2="336.30" y2="291.40" stroke="#000" stroke-width="0.9"/>
<line x1="337.40" y1="289.00" x2="337.40" y2="292.80" stroke="#000" stroke-width="0.9"/>
<line x1="344.61" y1="289.00" x2="344.61" y2="291.40" stroke="#000" stroke-width="0.9"/>
<line x1="348.83" y1="289.00" x2="348.83" y2="291.40" stroke="#000" stroke-width="0.9"/>
<line x1="351.82" y1="289.00" x2="351.82" y2="291.40" stroke="#000" stroke-width="0.9"/>
<line x1="354.14" y1="289.00" x2="354.14" y2="291.40" stroke="#000" stroke-width="0.9"/>
<line x1="356.04" y1="289.00" x2="356.04" y2="291.40" stroke="#000" stroke-width="0.9"/>
<line x1="357.64" y1="289.00" x2="357.64" y2="291.40" stroke="#000" stroke-width="0.9"/>
<line x1="359.03" y1="289.00" x2="359.03" y2="291.40" stroke="#000" stroke-width="0.9"/>
<line x1="360.25" y1="289.00" x2="360.25" y2="291.40" stroke="#000" stroke-width="0.9"/>
<line x1="361.35" y1="289.00" x2="361.35" y2="292.80" stroke="#000" stroke-width="0.9"/>
<line x1="368.56" y1="289.00" x2="368.56" y2="291.40" stroke="#000" stroke-width="0.9"/>
<line x1="372.78" y1="289.00" x2="372.78" y2="291.40" stroke="#000" stroke-width="0.9"/>
<line x1="375.77" y1="289.00" x2="375.77" y2="291.40" stroke="#000" stroke-width="0.9"/>
<line x1="378.09" y1="289.00" x2="378.09" y2="291.40" stroke="#000" stroke-width="0.9"/>
<line x1="379.99" y1="289.00" x2="379.99" y2="291.40" stroke="#000" stroke-width="0.9"/>
<line x1="381.59" y1="289.00" x2="381.59" y2="291.40" stroke="#000" stroke-width="0.9"/>
<line x1="382.98" y1="289.00" x2="382.98" y2="291.40" stroke="#000" stroke-width="0.9"/>
<line x1="384.20" y1="289.00" x2="384.20" y2="291.40" stroke="#000" stroke-width="0.9"/>
<line x1="385.30" y1="289.00" x2="385.30" y2="292.80" stroke="#000" stroke-width="0.9"/>
<line x1="341.80" y1="196.60" x2="341.80" y2="289.00" stroke="#000" stroke-width="2.1"/>
<line x1="289.50" y1="258.00" x2="385.30" y2="258.00" stroke="#000" stroke-width="2.1"/>
<g font-family='"Liberation Sans", sans-serif' font-weight="bold" stroke="#000" stroke-width="0.2"><text x="283.84" y="303.4" font-size="8.7" textLength="7.40" lengthAdjust="spacingAndGlyphs">10</text><text x="292.24" y="299.10" font-size="7.40">0</text></g>
<g font-family='"Liberation Sans", sans-serif' font-weight="bold" stroke="#000" stroke-width="0.2"><text x="307.79" y="303.4" font-size="8.7" textLength="7.40" lengthAdjust="spacingAndGlyphs">10</text><text x="316.19" y="299.10" font-size="7.40">1</text></g>
<g font-family='"Liberation Sans", sans-serif' font-weight="bold" stroke="#000" stroke-width="0.2"><text x="331.74" y="303.4" font-size="8.7" textLength="7.40" lengthAdjust="spacingAndGlyphs">10</text><text x="340.14" y="299.10" font-size="7.40">2</text></g>
<g font-family='"Liberation Sans", sans-serif' font-weight="bold" stroke="#000" stroke-width="0.2"><text x="355.69" y="303.4" font-size="8.7" textLength="7.40" lengthAdjust="spacingAndGlyphs">10</text><text x="364.09" y="299.10" font-size="7.40">3</text></g>
<g font-family='"Liberation Sans", sans-serif' font-weight="bold" stroke="#000" stroke-width="0.2"><text x="379.64" y="303.4" font-size="8.7" textLength="7.40" lengthAdjust="spacingAndGlyphs">10</text><text x="388.04" y="299.10" font-size="7.40">4</text></g>
<g transform="rotate(-90 283.7 288.9)" font-family='"Liberation Sans", sans-serif' font-weight="bold" stroke="#000" stroke-width="0.2"><text x="276.93" y="288.9" font-size="8.3" textLength="8.40" lengthAdjust="spacingAndGlyphs">10</text><text x="286.13" y="284.40" font-size="7.80">0</text></g>
<g transform="rotate(-90 283.7 266.2)" font-family='"Liberation Sans", sans-serif' font-weight="bold" stroke="#000" stroke-width="0.2"><text x="276.93" y="266.2" font-size="8.3" textLength="8.40" lengthAdjust="spacingAndGlyphs">10</text><text x="286.13" y="261.70" font-size="7.80">1</text></g>
<g transform="rotate(-90 283.7 242.8)" font-family='"Liberation Sans", sans-serif' font-weight="bold" stroke="#000" stroke-width="0.2"><text x="276.93" y="242.8" font-size="8.3" textLength="8.40" lengthAdjust="spacingAndGlyphs">10</text><text x="286.13" y="238.30" font-size="7.80">2</text></g>
<g transform="rotate(-90 283.7 219.5)" font-family='"Liberation Sans", sans-serif' font-weight="bold" stroke="#000" stroke-width="0.2"><text x="276.93" y="219.5" font-size="8.3" textLength="8.40" lengthAdjust="spacingAndGlyphs">10</text><text x="286.13" y="215.00" font-size="7.80">3</text></g>
<g transform="rotate(-90 283.7 196.4)" font-family='"Liberation Sans", sans-serif' font-weight="bold" stroke="#000" stroke-width="0.2"><text x="276.93" y="196.4" font-size="8.3" textLength="8.40" lengthAdjust="spacingAndGlyphs">10</text><text x="286.13" y="191.90" font-size="7.80">4</text></g>
<text x="376.8" y="211.8" font-family='"Liberation Sans", sans-serif' font-size="14" font-weight="normal" text-anchor="end" stroke="#000" stroke-width="0.3">4</text>
<text x="385" y="271.7" font-family='"Liberation Sans", sans-serif' font-size="14" font-weight="normal" text-anchor="end" textLength="14.6" lengthAdjust="spacingAndGlyphs" stroke="#000" stroke-width="0.3">10</text>
<path d="M289.9,269.7 L290.4,269.8 L291.5,269.1 L292.3,269.6 L293.4,268.6 L295.3,269.8 L296.3,269.7 L297.7,268.4 L298.3,268.6 L299.5,269.4 L300.6,268.8 L300.4,268.5 L302.5,269.6 L302.8,269.0 L304.5,269.6 L305.5,270.1 L306.7,269.4 L306.5,269.7 L307.9,269.4 L309.5,269.8 L310.4,268.4 L311.3,268.1 L311.9,268.8 L313.3,269.4 L314.1,268.4 L314.5,269.4 L315.3,269.2 L317.6,269.6 L318.0,270.2 L319.4,269.1 L320.6,269.2 L320.7,270.9 L321.6,270.4 L323.8,270.5 L324.0,270.3 L326.0,271.1 L325.6,272.4 L326.6,273.0 L328.0,272.9 L328.8,273.3 L329.6,273.9 L330.2,275.1 L330.5,276.5 L331.5,276.2 L332.2,277.3 L332.9,279.2 L332.3,279.1 L332.7,280.7 L334.2,280.5 L335.2,281.7 L334.5,283.8 L336.0,283.4 L336.7,285.8 L337.0,286.0 L337.2,286.4 L337.5,288.0" fill="none" stroke="#000" stroke-width="1.2" stroke-linejoin="round"/>
<path d="M290.2,273.3 L291.4,272.0 L292.3,272.6 L292.5,272.9 L293.3,271.4 L294.7,271.9 L296.2,272.5 L297.5,272.1 L298.3,271.8 L298.3,272.0 L300.1,271.9 L301.1,270.9 L302.1,272.3 L302.3,272.0 L304.6,271.4 L305.0,272.0 L306.5,271.9 L307.6,271.6 L308.8,272.3 L308.8,272.3 L310.5,271.8 L311.3,272.1 L312.7,272.2 L313.2,271.9 L313.7,271.1 L315.2,271.2 L316.4,271.2 L316.8,272.1 L318.2,271.9 L318.6,272.5 L320.6,273.2 L321.0,272.4 L322.1,273.6 L323.1,272.5 L323.8,273.5 L324.4,274.5 L325.9,274.1 L326.2,274.5 L326.8,275.7 L328.7,275.4 L328.2,276.4 L329.3,278.1 L330.9,279.0 L331.0,278.5 L332.1,280.2 L332.0,280.7 L331.8,281.9 L332.7,282.5 L332.9,283.4 L333.4,284.6 L333.9,286.5 L334.6,287.2 L335.0,288.0" fill="none" stroke="#000" stroke-width="1.2" stroke-linejoin="round"/>
<path d="M290.9,276.3 L291.5,276.1 L293.1,275.7 L294.4,275.4 L295.1,274.7 L295.8,275.4 L296.4,274.2 L297.6,275.0 L298.9,275.1 L299.7,274.1 L301.3,274.4 L301.5,274.6 L303.2,275.3 L303.9,275.1 L304.5,274.7 L306.3,274.5 L306.8,274.4 L308.3,274.9 L309.2,274.6 L310.1,274.9 L310.9,274.3 L311.5,275.1 L313.2,274.8 L314.2,274.4 L314.4,275.3 L315.7,275.6 L316.6,275.9 L318.0,275.2 L318.7,276.1 L320.5,276.1 L321.1,276.9 L321.4,276.7 L322.7,277.8 L324.3,278.5 L324.9,279.0 L325.6,279.4 L327.4,279.8 L327.9,280.8 L329.0,280.4 L329.9,281.4 L330.1,282.6 L331.5,283.8 L331.4,283.9 L332.1,285.1 L332.6,286.1 L333.7,286.8 L334.0,288.0" fill="none" stroke="#000" stroke-width="1.2" stroke-linejoin="round"/>
<path d="M297.2,288.1 L297.9,287.1 L297.9,286.0 L297.8,284.9 L298.9,283.9 L299.1,282.6 L300.0,282.7 L301.0,281.3 L301.9,280.8 L303.2,280.9 L304.0,280.6 L305.4,280.6 L306.2,280.1 L307.2,279.8 L308.6,280.2 L309.3,279.8 L310.6,279.9 L312.0,280.0 L313.3,280.1 L313.8,280.1 L314.9,280.5 L316.1,280.7 L316.8,281.1 L318.6,281.7 L319.2,282.0 L320.4,282.6 L321.2,283.0 L322.0,284.3 L322.3,284.7 L323.1,285.9 L323.2,287.0 L323.4,288.0" fill="none" stroke="#000" stroke-width="1.2" stroke-linejoin="round"/>
<path d="M289.7,287.9 L291.3,288.0 L291.8,287.7 L293.1,287.9 L293.9,287.8 L295.2,287.7 L296.2,288.1 L297.2,287.7 L298.1,288.0 L298.8,288.0 L299.7,288.0 L301.2,287.8 L302.3,287.7 L302.8,287.8 L303.7,287.6 L304.9,287.7 L305.9,287.8 L306.7,287.8 L308.1,287.9 L308.7,287.8 L310.1,287.7 L311.0,288.0 L312.2,287.7 L312.7,287.7 L313.7,287.5 L314.7,287.8 L316.0,287.8 L317.1,287.7 L318.0,287.7 L318.8,288.1 L320.1,288.0 L321.2,287.8 L321.8,287.6 L323.1,288.0 L324.3,287.7 L325.2,287.8 L326.2,287.7 L327.1,287.8 L328.2,287.6 L329.3,287.8 L330.2,287.5 L331.2,288.0 L331.9,287.7 L333.2,287.7 L333.8,287.9 L335.2,287.8 L335.8,287.8 L337.1,287.9 L338.1,287.9 L339.3,287.5 L340.0,287.8" fill="none" stroke="#000" stroke-width="1.2" stroke-linejoin="round"/>
<path d="M332.3,273.7 L331.7,275.6 L332.1,276.4 M324.7,269.3 L323.9,270.1 L323.3,270.8 M329.8,270.9 L329.0,269.8 L328.0,269.8 L326.5,268.8 M294.2,281.2 L295.6,281.6 L296.6,281.8 L298.1,281.8 M334.8,287.9 L333.7,289.2 L333.5,290.5 M330.9,285.0 L329.1,284.4 L328.0,284.9 L327.5,284.3 L326.2,283.9 M323.5,267.0 L325.2,266.0 L326.0,266.5 L326.5,267.6 M306.3,271.4 L307.9,272.3 L308.0,274.2 L307.0,275.8 M292.9,281.0 L291.0,280.7 L290.5,278.9 M327.3,274.5 L328.6,275.5 L329.4,275.3 L330.7,276.2 L331.4,277.1 M291.0,274.2 L291.3,275.9 L292.6,276.1 M295.6,282.2 L295.2,281.1 L296.0,279.9 M324.4,277.9 L326.4,277.9 L327.9,279.0 L327.8,279.9 L327.0,280.6 M293.0,276.1 L293.9,275.4 L293.5,274.4 L294.2,273.7 M292.1,274.1 L292.4,274.9 L293.8,275.2 L295.6,275.6 L296.7,274.4 M291.6,267.8 L291.9,266.3 L291.8,265.3 L290.4,264.1 L289.3,262.5 M298.6,272.5 L299.6,272.2 L300.9,270.9 L302.3,270.4 M329.5,278.6 L330.0,277.9 L329.7,276.9 L329.7,276.0 L328.5,275.4 M290.3,272.4 L289.6,273.9 L288.7,274.1 M303.2,273.9 L302.0,273.1 L301.2,273.7 L299.9,273.2 M296.1,277.5 L297.5,277.5 L298.6,276.5 L300.0,276.4 M322.9,271.1 L322.2,269.5 L321.1,269.1 L319.4,269.8 M331.0,284.5 L331.7,284.0 L332.4,283.2 L333.0,282.1 M316.5,270.4 L316.9,271.8 L316.0,273.2 L316.3,274.6 L317.1,275.2 M297.3,268.6 L299.2,268.0 L299.6,266.1 L298.3,265.2 L296.9,263.8 M327.7,269.2 L328.9,268.8 L329.8,269.7 L331.0,270.4 M332.0,287.7 L330.9,286.2 L329.8,286.3 L329.1,287.0 L328.3,288.7 M311.5,276.9 L312.6,277.1 L314.5,276.7 L316.0,276.0 M325.5,285.1 L326.3,285.1 L327.7,284.9 L328.4,284.4 M314.2,268.5 L313.2,268.9 L312.1,270.0 L311.2,271.2 M294.3,274.7 L295.2,273.7 L296.0,273.6 L296.6,272.8 M308.4,275.4 L309.8,275.4 L310.5,274.0 L311.5,273.7 M324.5,282.1 L325.4,280.7 L325.7,279.2 L325.2,277.3 L324.5,276.4 M334.7,271.7 L334.2,272.5 L333.3,272.8 L331.8,273.6 L330.1,273.6 M295.9,285.7 L294.8,284.2 L293.4,283.1 L293.4,282.2 M331.5,281.7 L330.6,282.7 L330.1,283.4 L330.0,285.3 L329.2,286.4 M319.7,268.1 L320.0,269.6 L318.6,270.9 M296.7,267.2 L296.3,265.5 L297.7,264.2 L298.4,264.5 M309.4,276.4 L308.3,275.6 L308.7,273.8 M312.5,269.2 L311.7,269.9 L311.0,269.5 M320.6,269.0 L319.8,270.7 L320.0,271.5 M294.3,268.6 L295.0,267.1 L295.8,266.8 L297.1,266.3 M327.3,284.6 L327.7,285.4 L328.8,285.4 M333.2,269.6 L334.2,269.2 L335.1,268.8 L335.9,268.8 M296.7,283.1 L297.4,284.0 L299.1,284.5" fill="none" stroke="#000" stroke-width="0.9"/>
<path d="M295.7,284.2h1.2v1.2h-1.2z M321.0,266.1h1.3v1.3h-1.3z M329.3,277.9h1.0v1.0h-1.0z M323.3,267.8h1.1v1.1h-1.1z M330.6,278.6h1.5v1.5h-1.5z M319.6,271.5h1.4v1.4h-1.4z M308.8,276.0h1.5v1.5h-1.5z M322.6,270.2h1.1v1.1h-1.1z M314.1,282.4h1.2v1.2h-1.2z M303.1,277.7h1.0v1.0h-1.0z M329.0,277.5h1.1v1.1h-1.1z M302.6,267.6h0.9v0.9h-0.9z M333.7,281.6h1.2v1.2h-1.2z M324.8,269.7h1.4v1.4h-1.4z M324.7,279.5h1.0v1.0h-1.0z M303.1,266.7h1.2v1.2h-1.2z M313.9,277.9h1.2v1.2h-1.2z M337.8,277.2h1.1v1.1h-1.1z M294.5,266.7h1.3v1.3h-1.3z M323.3,277.5h1.2v1.2h-1.2z M332.6,279.8h1.0v1.0h-1.0z M336.1,278.5h1.3v1.3h-1.3z M337.2,285.9h1.4v1.4h-1.4z M294.5,276.7h1.1v1.1h-1.1z M290.4,267.5h1.5v1.5h-1.5z M319.4,270.2h1.0v1.0h-1.0z M313.7,267.1h1.3v1.3h-1.3z M336.1,283.7h1.4v1.4h-1.4z M294.1,282.2h1.5v1.5h-1.5z M313.5,272.3h1.3v1.3h-1.3z M301.7,269.6h1.3v1.3h-1.3z M294.4,277.2h1.4v1.4h-1.4z M292.5,282.2h1.2v1.2h-1.2z M323.9,278.0h1.3v1.3h-1.3z M296.6,273.1h1.2v1.2h-1.2z M309.6,278.7h1.1v1.1h-1.1z M323.3,269.6h1.1v1.1h-1.1z M331.0,281.0h1.3v1.3h-1.3z M328.6,285.3h1.1v1.1h-1.1z M308.4,267.8h1.3v1.3h-1.3z M315.0,278.5h0.9v0.9h-0.9z M315.4,272.0h1.3v1.3h-1.3z M339.5,272.4h1.0v1.0h-1.0z M308.3,267.7h1.5v1.5h-1.5z M328.9,274.4h1.5v1.5h-1.5z" fill="#000"/>
<path d="M372.1,227.3 L373.1,227.5 L372.6,229.3 L370.8,229.7 L370.0,230.6 L369.2,232.0 L367.2,230.8 L366.9,232.3 L365.6,231.7 L363.4,233.5 L362.6,233.0 L362.5,232.8 L360.6,232.7 L359.2,234.0 L357.2,234.2 L357.4,234.3 L355.9,234.5 L354.6,233.8 L353.7,234.1 L352.3,233.7 L350.5,232.9 L349.6,233.4 L349.2,231.9 L348.3,230.2 L346.4,229.2 L347.3,228.8 L348.8,227.0 L350.7,226.5 L351.3,225.9 L351.9,226.4 L352.6,225.2 L354.1,224.1 L354.7,224.4 L357.0,224.0 L356.9,224.6 L358.3,224.3 L359.4,223.7 L360.9,222.9 L362.7,223.8 L363.9,223.1 L365.0,223.4 L365.9,224.2 L366.9,222.8 L369.0,223.6 L370.6,223.4 L371.5,224.5 L372.9,225.0 L372.9,226.7" fill="none" stroke="#000" stroke-width="1.0" stroke-linejoin="round"/>
<path d="M364.7,225.0 L364.3,226.6 L363.4,227.6 L362.4,228.3 L360.8,229.2 L360.1,229.8 L358.5,229.2 L356.7,229.5 L355.5,229.7 L355.1,230.2 L354.5,230.0 L352.2,229.8 L350.9,230.6 L350.7,229.4 L350.1,229.7 L349.1,228.1 L350.3,226.9 L350.0,225.9 L352.5,225.4 L352.9,224.4 L354.1,225.3 L354.6,224.1 L356.1,223.6 L356.8,223.0 L358.8,223.6 L360.5,224.4 L361.6,224.3 L362.9,222.9 L363.0,224.9 L364.8,225.3" fill="none" stroke="#000" stroke-width="1.0" stroke-linejoin="round"/>
<path d="M374.3,234.3 L373.1,234.7 L372.1,235.0 L371.0,235.6 L369.0,236.9 L368.8,236.8 L367.3,236.1 L366.2,236.4 L365.2,235.5 L365.0,234.4 L363.2,234.2 L363.3,233.7 L361.9,231.5 L362.0,231.6 L361.9,230.2 L362.2,228.4 L364.2,228.3 L364.4,228.0 L367.2,227.5 L367.5,227.7 L368.4,227.2 L370.1,228.4 L370.0,228.4 L370.6,230.0 L372.6,229.6 L373.0,230.9 L373.0,231.1 L374.0,232.4 L373.6,234.1" fill="none" stroke="#000" stroke-width="1.0" stroke-linejoin="round"/>
<path d="M367.1,244.4 L365.9,245.9 L366.8,247.9 L367.1,249.3 L365.6,249.4 L365.8,251.6 L364.0,251.6 L362.5,251.3 L361.0,249.8 L360.3,248.7 L360.6,247.6 L360.4,246.3 L361.2,245.1 L362.1,243.1 L361.8,242.1 L362.4,241.6 L362.9,239.9 L362.6,239.1 L365.5,238.3 L365.8,239.2 L366.8,240.7 L367.5,241.4 L366.8,243.3 L367.2,244.1 L367.0,245.3" fill="none" stroke="#000" stroke-width="1.0" stroke-linejoin="round"/>
<path d="M353.2,239.2 L350.9,241.4 L349.3,242.6 L347.5,242.1 L347.0,239.3 L348.7,238.9 L349.8,238.2 L351.9,239.4 L352.5,240.0" fill="none" stroke="#000" stroke-width="1.0" stroke-linejoin="round"/>
<path d="M374.5,246.1 L373.7,247.3 L372.3,247.3 L370.6,248.2 L370.0,246.1 L370.0,243.9 L371.3,244.1 L374.5,245.2 L374.5,246.0" fill="none" stroke="#000" stroke-width="1.0" stroke-linejoin="round"/>
<path d="M362.7,250.6 L361.7,250.5 L359.9,250.7 L359.1,250.7 L357.4,251.3 M361.0,233.2 L360.2,232.3 L360.2,231.1 M348.3,241.7 L347.0,241.1 L346.9,240.1 L347.6,238.9 L347.9,238.1 M363.9,252.3 L362.8,251.8 L361.5,251.2 M370.0,219.6 L370.0,221.2 L369.4,223.0 L368.7,224.6 M346.2,220.7 L345.7,220.0 L344.9,219.2 M372.8,234.2 L373.3,233.5 L373.2,231.9 M350.1,221.8 L350.2,220.6 L351.2,219.5 L352.1,219.5 M355.7,245.8 L354.9,245.6 L354.1,246.7 L352.8,247.9 L352.0,247.5 M350.3,233.0 L350.9,232.1 L351.3,231.5 M364.2,234.3 L363.8,235.0 L362.0,235.5 L360.8,236.6 L359.0,236.3 M370.1,230.0 L369.6,228.8 L368.5,228.4 M351.0,235.3 L351.6,236.6 L352.6,236.7 L353.1,237.3 M361.6,254.8 L359.9,254.5 L359.1,254.6 M375.5,237.2 L376.7,235.8 L378.4,236.1 L378.9,235.4 L378.8,233.5 M361.1,220.0 L361.0,219.2 L360.8,218.3 M375.0,226.2 L376.4,226.2 L377.5,226.6 L377.6,228.1 L376.2,229.5 M366.3,255.1 L366.7,256.3 L368.1,257.6 L368.8,258.9 L369.8,258.8 M355.2,234.5 L355.2,236.3 L354.8,238.0 M376.1,234.9 L377.8,234.7 L378.4,235.3 L378.4,237.1 L378.0,238.2 M376.0,215.7 L376.7,214.0 L377.8,213.1 M360.5,247.7 L361.0,249.0 L362.6,249.9 L363.7,251.1 M374.4,235.2 L373.3,235.1 L372.3,235.1 L371.7,236.3 L370.1,236.7 M352.2,234.9 L352.0,232.9 L351.8,232.2 L351.0,232.0 M360.7,245.5 L360.5,246.6 L358.8,246.9 M360.2,227.8 L361.5,226.7 L361.6,225.4 L360.7,225.0 M357.3,220.0 L357.6,220.9 L358.2,221.5 L359.9,221.9 L361.4,221.2 M368.1,241.0 L369.0,241.6 L370.6,240.9 L371.7,241.0 L372.1,241.7 M368.2,225.6 L369.1,226.4 L369.9,226.0 L371.3,226.3 M373.8,220.9 L373.6,221.9 L373.0,222.4 L372.3,223.2 L370.7,223.6 M370.7,220.9 L370.0,220.2 L369.9,218.8 L370.5,218.1 L371.7,216.5 M373.0,232.6 L374.3,232.5 L375.3,231.8 M352.6,226.0 L352.9,224.7 L352.2,224.0 L350.3,224.3 M361.6,253.3 L360.8,253.6 L359.6,253.9 M366.2,245.9 L367.1,246.0 L367.5,247.0 L367.1,248.7 L366.1,250.3 M365.3,235.7 L366.4,236.0 L366.6,237.0 L367.3,238.5 M353.3,235.4 L354.7,235.7 L356.7,235.6 M365.5,255.2 L366.9,256.5 L367.7,256.6 L369.3,256.7 L370.6,256.2 M346.2,229.7 L347.3,230.5 L348.0,232.1 M372.7,229.2 L373.9,230.0 L373.8,231.1 L372.9,231.5 L371.2,230.5 M347.9,227.8 L348.7,228.8 L348.6,229.6 M367.6,242.9 L365.9,243.2 L365.0,241.9 M361.2,230.8 L362.2,232.2 L361.6,233.5 M365.4,233.8 L366.8,233.5 L367.1,231.7 L366.2,230.1 L364.9,228.7 M366.9,241.9 L368.7,242.0 L370.5,241.6 L371.4,240.4 M353.1,226.6 L351.8,227.7 L351.0,229.1 L350.6,230.4 L351.5,232.1 M371.0,220.2 L370.2,221.8 L370.7,222.7 L372.0,222.6 M359.8,234.3 L360.3,232.9 L361.5,232.5 L362.4,231.7 L362.4,229.9 M374.5,226.2 L375.2,227.6 L376.0,228.3 M366.3,246.5 L366.4,245.6 L366.4,244.3 L367.5,243.3 M381.2,248.4 L382.3,248.6 L383.6,247.9 L385.0,247.5 M374.2,235.8 L372.8,235.9 L371.8,237.2 M360.8,249.7 L361.8,250.7 L361.0,252.5 L361.0,253.6 L361.4,254.9 M364.0,222.7 L364.5,224.3 L364.9,225.1 M365.8,223.9 L367.4,223.3 L368.4,223.1 L369.4,223.3 L370.2,223.2 M359.1,246.5 L358.9,248.3 L359.4,250.2 M372.0,226.4 L372.5,225.7 L374.1,225.9 M353.7,224.2 L353.9,223.4 L355.7,222.9 L356.1,221.4 M363.8,236.2 L363.4,234.4 L361.7,233.7 M364.4,247.2 L363.3,248.6 L362.0,249.7 L361.5,250.7 L360.9,251.2 M368.1,233.2 L367.5,234.4 L368.3,235.3 M366.9,232.7 L366.1,233.1 L365.7,234.0 L364.6,234.2 M370.1,230.8 L369.8,229.6 L370.3,228.8 L370.9,228.3 M376.2,232.1 L375.4,233.2 L375.5,234.3 L376.1,235.4 M368.2,233.4 L368.6,235.3 L369.5,235.8 L370.8,235.3 L371.8,234.2 M378.5,215.2 L379.3,215.8 L380.6,215.8 L382.0,216.6 M362.4,218.8 L363.6,220.4 L365.4,220.1 M372.9,225.3 L373.0,226.4 L374.4,227.1 L375.9,227.1 M374.9,221.0 L373.2,220.8 L372.8,219.5 L373.5,218.4 M359.1,212.3 L359.3,213.1 L359.5,214.2 M371.5,247.6 L371.8,246.7 L373.2,245.9 L374.4,245.1 M375.4,234.2 L374.5,233.2 L374.0,232.4 L373.8,230.6 L372.3,230.1 M373.5,224.8 L374.0,223.7 L374.1,222.9 L374.2,221.4 L373.3,220.2 M362.0,255.9 L363.6,255.8 L364.5,257.4 L366.1,257.9 M372.8,225.5 L371.5,226.5 L371.5,227.5 L371.8,228.2 M347.0,222.0 L347.7,221.0 L349.3,220.4 L350.3,219.5 M358.3,227.4 L358.2,226.6 L358.9,225.4 M365.7,254.3 L367.2,253.5 L367.4,252.1 L367.6,250.4 M371.5,224.6 L373.1,224.2 L374.5,223.3 L375.7,223.4 L376.5,221.7 M365.5,238.1 L364.3,239.6 L363.2,240.3 L361.5,239.6 M367.3,212.4 L365.5,212.2 L364.5,212.1 L363.8,212.6 L362.6,212.5 M361.6,214.9 L361.1,215.8 L360.7,217.1 L361.7,218.6 L362.8,219.2 M354.7,219.0 L354.8,219.9 L355.6,221.5 L354.8,223.0 L353.7,224.0 M363.9,241.5 L362.5,241.1 L361.4,240.7 L359.6,240.7 M368.3,240.9 L367.3,239.9 L367.8,238.0 M368.4,234.0 L367.1,234.5 L366.8,236.0 L366.4,237.7 L365.2,239.0 M354.2,223.3 L356.0,222.8 L357.5,224.0 L357.4,224.9 L356.9,226.7 M369.6,232.2 L368.7,231.7 L368.4,231.0 M357.3,234.8 L356.6,234.3 L355.4,234.6 L354.7,235.7 M362.8,252.1 L364.1,250.8 L364.9,249.7 M348.1,228.4 L349.2,229.3 L350.1,230.5 L351.6,231.2 M365.7,217.2 L366.3,216.5 L367.6,216.4 L369.1,215.5 L369.8,214.5 M365.7,227.6 L366.5,227.4 L368.4,227.8 L369.9,226.6 L370.4,225.3 M368.2,230.4 L366.8,231.6 L365.4,231.9 M365.3,214.0 L363.3,213.8 L362.7,214.3 M359.5,249.4 L358.9,247.6 L358.8,246.8 M369.7,220.8 L367.8,220.2 L366.6,219.2 M377.0,224.9 L376.3,224.4 L374.8,223.8 L373.8,223.7 M361.8,218.3 L362.9,217.7 L363.9,217.8 L364.9,217.9 L365.9,218.9 M359.2,246.2 L357.5,246.6 L355.9,247.5 L354.5,247.8 L353.0,246.6 M371.8,230.1 L370.8,230.0 L370.0,230.2 L369.0,231.2 M373.4,234.8 L374.5,235.7 L375.0,237.0 L376.1,238.3 L376.7,239.9 M354.8,220.4 L354.8,221.6 L354.0,223.1 M371.1,220.1 L371.5,218.2 L373.0,217.6 M360.6,230.9 L358.9,230.2 L358.3,229.5 M367.5,214.3 L367.6,216.0 L367.0,217.7 L368.0,219.0 M356.9,223.8 L358.2,224.0 L359.0,223.4 M368.2,229.8 L367.7,228.6 L368.7,227.2 L369.6,226.4 L369.4,225.4 M357.4,233.8 L357.4,235.0 L355.8,235.6 L355.0,236.5 L353.8,237.8 M367.1,230.3 L366.5,230.9 L365.0,230.8 L364.5,229.7 L363.8,229.2 M352.9,221.7 L354.6,222.5 L355.1,223.4 L356.0,224.3 L356.3,225.4 M357.8,234.7 L356.9,234.6 L355.4,235.9 L355.9,237.6 L356.1,238.4 M354.4,222.5 L355.7,221.8 L356.8,222.3 M346.3,221.0 L345.3,220.6 L344.3,219.5 L344.5,218.6 M362.2,247.4 L361.6,246.8 L360.7,245.9 L359.9,245.0 M362.7,231.2 L362.7,232.9 L362.7,234.2 M364.8,256.2 L364.2,256.8 L364.3,257.7 L363.2,258.5 L361.4,258.7 M361.2,231.9 L362.0,231.5 L362.6,230.6 M358.2,234.1 L359.9,233.5 L360.7,233.3 L362.1,232.4 L362.2,231.3 M352.2,221.9 L352.4,221.1 L353.5,219.9 L353.2,218.7 L353.8,217.8" fill="none" stroke="#000" stroke-width="0.9"/>
<path d="M364.7,221.7h1.1v1.1h-1.1z M357.0,232.8h1.3v1.3h-1.3z M376.8,233.6h1.0v1.0h-1.0z M377.1,237.6h1.1v1.1h-1.1z M374.3,231.5h1.5v1.5h-1.5z M374.7,239.7h1.3v1.3h-1.3z M370.5,226.5h0.9v0.9h-0.9z M362.1,246.4h1.1v1.1h-1.1z M353.3,235.8h1.3v1.3h-1.3z M379.8,225.2h0.9v0.9h-0.9z M377.3,228.3h0.9v0.9h-0.9z M369.2,256.2h1.1v1.1h-1.1z M347.2,218.6h0.9v0.9h-0.9z M376.4,246.0h1.3v1.3h-1.3z M377.9,237.1h1.2v1.2h-1.2z M376.7,231.8h1.2v1.2h-1.2z M377.2,238.3h1.1v1.1h-1.1z M363.7,239.9h1.1v1.1h-1.1z M343.7,241.0h1.3v1.3h-1.3z M364.5,242.0h1.5v1.5h-1.5z M373.7,250.1h1.3v1.3h-1.3z M362.1,241.6h1.4v1.4h-1.4z M356.6,250.9h1.0v1.0h-1.0z M344.9,234.5h1.3v1.3h-1.3z M370.3,237.2h1.2v1.2h-1.2z M380.7,223.3h1.5v1.5h-1.5z M363.1,223.9h1.1v1.1h-1.1z M382.8,214.5h1.4v1.4h-1.4z M352.6,242.1h1.1v1.1h-1.1z M381.6,252.9h0.9v0.9h-0.9z M353.7,224.7h1.1v1.1h-1.1z M373.8,220.1h1.2v1.2h-1.2z M379.7,237.9h1.2v1.2h-1.2z M361.2,250.4h1.2v1.2h-1.2z M369.6,221.1h1.2v1.2h-1.2z M377.1,233.1h1.2v1.2h-1.2z M371.6,224.1h1.1v1.1h-1.1z M364.5,228.9h0.9v0.9h-0.9z M348.2,241.7h1.4v1.4h-1.4z M359.7,221.6h1.4v1.4h-1.4z M373.7,230.7h1.2v1.2h-1.2z M366.8,225.7h1.5v1.5h-1.5z M366.3,233.2h1.2v1.2h-1.2z M353.4,241.5h1.3v1.3h-1.3z M377.4,231.3h1.1v1.1h-1.1z M365.7,243.0h0.9v0.9h-0.9z M352.5,237.3h1.4v1.4h-1.4z M372.8,222.9h1.0v1.0h-1.0z M368.0,238.0h1.3v1.3h-1.3z M380.8,239.1h1.3v1.3h-1.3z M368.2,223.4h1.4v1.4h-1.4z M383.7,221.6h1.0v1.0h-1.0z M363.1,210.8h1.3v1.3h-1.3z M358.0,218.9h1.1v1.1h-1.1z M380.5,215.5h1.0v1.0h-1.0z M369.7,232.5h1.3v1.3h-1.3z M352.0,235.8h1.0v1.0h-1.0z M361.6,214.1h1.3v1.3h-1.3z M358.2,233.4h1.1v1.1h-1.1z M349.3,250.2h1.0v1.0h-1.0z M349.4,233.2h0.9v0.9h-0.9z M360.3,226.6h1.1v1.1h-1.1z M377.2,252.7h1.2v1.2h-1.2z M377.2,219.8h0.9v0.9h-0.9z M364.9,232.7h1.1v1.1h-1.1z M348.3,233.8h1.0v1.0h-1.0z M372.1,233.2h1.0v1.0h-1.0z M366.8,219.5h1.2v1.2h-1.2z M349.1,232.5h1.3v1.3h-1.3z M374.7,215.6h1.3v1.3h-1.3z M348.6,231.1h1.0v1.0h-1.0z M382.2,206.1h1.3v1.3h-1.3z M370.7,235.5h1.0v1.0h-1.0z M359.2,224.4h1.1v1.1h-1.1z M371.4,233.6h1.4v1.4h-1.4z M353.5,219.2h1.3v1.3h-1.3z M371.4,222.7h1.3v1.3h-1.3z M356.8,232.7h0.9v0.9h-0.9z M377.1,219.7h1.0v1.0h-1.0z M351.8,224.1h1.2v1.2h-1.2z" fill="#000"/>
<path d="M362.7,257.9 L361.8,258.5 L361.4,260.6 L361.2,261.6 L362.0,262.1 L361.1,262.2 L360.6,264.5 L361.9,265.7 L360.6,266.7 L360.6,266.8 L361.0,268.5 L360.3,268.7 L359.0,269.5 L359.0,270.5 L359.1,271.7 L358.2,273.6 L358.1,273.2 L357.2,275.1 L356.9,276.1 L356.6,277.0 L357.2,278.1 L355.8,279.3 L356.3,279.9 L355.5,280.9 L353.9,280.9 L353.3,282.0 L352.2,281.8 L351.9,283.1 L351.8,283.2 L349.2,283.7 L349.6,283.6 L348.0,284.9 L347.5,284.9 L346.2,286.3 L345.8,286.1 L343.7,287.2 L343.0,288.0" fill="none" stroke="#000" stroke-width="1.2" stroke-linejoin="round"/>
<path d="M365.4,258.3 L365.4,258.8 L365.6,259.8 L365.0,260.4 L365.7,261.5 L365.4,262.7 L365.7,263.9 L366.8,265.0 L366.5,265.8 L366.9,267.5 L367.2,268.0 L367.4,268.5 L367.5,269.3 L368.0,270.3 L368.5,272.1 L368.4,273.4 L369.3,274.2 L369.6,275.5 L370.3,275.4 L370.6,276.6 L371.4,277.8 L371.1,278.3 L372.8,279.4 L372.1,281.7 L372.3,281.9 L373.7,283.0 L375.1,284.1 L375.2,283.3 L375.9,283.9 L376.8,285.5 L378.0,286.0" fill="none" stroke="#000" stroke-width="1.2" stroke-linejoin="round"/>
<path d="M360.6,244.4 L359.8,246.6 L360.4,246.8 L359.7,247.3 L360.1,249.2 L360.0,250.0 L361.4,250.2 L360.7,251.9 L361.2,253.4 L361.3,253.9 L360.7,255.2 L360.9,256.7 L361.0,257.1 L361.0,258.0" fill="none" stroke="#000" stroke-width="1.2" stroke-linejoin="round"/>
<path d="M366.3,245.0 L366.0,246.3 L366.2,247.8 L365.7,248.0 L366.8,249.5 L366.1,249.7 L365.5,250.9 L365.9,251.9 L365.4,253.0 L365.8,253.4 L365.8,255.3 L364.8,255.6 L364.4,257.0 L365.0,258.0" fill="none" stroke="#000" stroke-width="1.2" stroke-linejoin="round"/>
<path d="M366.6,277.2 L367.6,277.7 L368.9,278.7 L370.2,279.1 L371.3,280.1 M356.4,269.0 L355.0,270.2 L354.6,270.9 M351.2,285.7 L351.7,287.5 L352.2,288.1 L353.4,288.3 M376.8,281.9 L376.2,282.9 L375.3,283.8 L375.2,284.6 L373.9,285.5 M348.8,277.9 L349.9,278.4 L350.9,279.0 M382.8,286.2 L381.7,286.1 L380.8,285.0 L381.6,283.2 M351.7,282.3 L352.6,280.8 L353.5,279.4 L354.6,278.7 M363.8,262.8 L362.7,262.9 L361.9,263.9 L361.2,264.4 M350.2,274.6 L351.2,274.4 L352.7,274.1 M369.7,272.4 L369.0,272.8 L368.1,273.5 L367.4,274.1 M362.0,268.6 L363.3,269.0 L364.2,270.4 M346.9,276.6 L346.1,275.6 L345.8,274.1 L345.2,272.9 M375.4,282.9 L376.4,284.6 L376.6,285.9 L376.4,287.3 M375.7,288.0 L374.4,286.8 L373.7,286.8 L372.3,287.5 M378.9,286.4 L379.7,285.3 L380.8,285.4 M372.7,281.8 L371.0,282.3 L369.3,282.6 M361.7,265.2 L362.3,266.0 L364.1,266.3 M361.5,283.1 L360.4,282.5 L360.0,281.0 M366.3,272.9 L367.5,273.1 L369.5,273.3 M358.9,265.8 L357.0,266.1 L356.3,267.3 L355.8,268.3 L356.5,269.6 M356.1,277.4 L357.0,277.7 L357.3,279.5 L357.9,280.8 M369.9,268.9 L370.0,267.6 L370.0,266.9 L369.6,265.5 M346.2,279.1 L347.4,279.5 L347.4,280.5 L348.8,281.0 M359.0,269.3 L358.6,267.9 L358.3,267.0 M379.4,286.1 L381.0,285.7 L381.8,284.3 M361.6,268.4 L360.5,268.6 L359.3,269.6 L359.7,271.5 M367.4,287.7 L365.8,287.1 L365.1,286.6 L363.7,286.0 M364.8,287.4 L365.1,285.6 L363.6,284.7 L362.3,285.3 M352.8,282.1 L354.5,281.2 L354.7,280.1 L355.4,278.6 M369.5,284.8 L368.1,285.6 L367.6,286.4 M352.8,284.9 L353.3,286.2 L354.4,287.2 L355.9,287.0 M343.0,286.7 L342.3,286.4 L342.1,285.4 M347.9,276.1 L348.1,275.0 L348.3,273.1 L347.0,272.1 M355.9,276.9 L356.8,276.3 L358.5,275.9 L358.9,274.9 M378.2,286.9 L376.2,287.1 L374.8,287.5 L373.9,287.5 L372.2,287.5 M374.6,281.0 L376.3,281.3 L376.8,280.6 L377.7,280.7 M356.9,279.2 L358.3,278.6 L359.0,279.0 L360.0,279.2 L361.1,279.7 M353.8,286.5 L353.7,288.2 L353.7,289.2 L354.4,290.2 M367.8,265.5 L367.5,266.8 L366.7,267.1 M368.7,263.1 L369.2,264.0 L370.4,263.8 L371.5,264.9 M378.9,273.6 L377.6,273.0 L377.3,271.9 M361.5,283.4 L361.3,284.9 L362.7,286.0 L363.7,286.7 L364.5,286.7 M378.4,280.0 L378.8,278.9 L379.1,277.3 L379.3,276.1 M351.7,272.7 L350.5,272.1 L349.4,272.6 M376.6,276.7 L374.8,277.0 L373.7,277.8 M350.7,265.5 L351.8,265.1 L353.3,265.8 M346.1,280.1 L344.9,279.5 L343.7,278.2 M354.2,287.5 L353.4,289.0 L352.5,289.3 M353.6,280.3 L353.9,279.4 L354.4,278.7 L355.1,277.9 L355.8,276.4 M368.3,277.5 L368.1,276.4 L369.5,275.1 L369.0,273.4 L367.2,272.8 M344.6,287.9 L344.8,288.9 L346.0,290.0 L347.8,290.3 M348.6,285.4 L347.1,286.5 L345.6,287.2 L345.2,287.9 M351.2,284.8 L350.9,283.3 L351.8,282.7 L353.3,283.0 M369.5,285.7 L370.4,284.1 L371.4,283.6 L372.0,282.6 L372.2,281.8 M371.5,285.8 L370.5,287.5 L371.0,288.9 L372.3,289.9 L373.8,289.4 M353.3,287.7 L352.0,287.1 L350.1,287.3 M369.4,274.5 L370.2,273.1 L370.4,272.3 M369.0,260.8 L370.2,260.0 L370.4,259.0 M357.1,278.8 L356.0,280.2 L354.6,280.1 L353.9,280.6 M353.2,288.2 L351.6,288.5 L350.5,288.1 L349.3,287.9 L347.7,287.9" fill="none" stroke="#000" stroke-width="0.9"/>
<path d="M360.7,273.8h1.0v1.0h-1.0z M381.9,275.5h1.1v1.1h-1.1z M383.3,286.3h0.9v0.9h-0.9z M363.3,286.7h1.3v1.3h-1.3z M348.3,284.6h1.2v1.2h-1.2z M383.6,275.6h1.0v1.0h-1.0z M383.5,273.4h1.0v1.0h-1.0z M343.9,263.1h1.4v1.4h-1.4z M367.8,262.1h1.4v1.4h-1.4z M371.9,286.3h1.2v1.2h-1.2z M367.4,276.5h1.4v1.4h-1.4z M346.8,286.2h1.3v1.3h-1.3z M372.9,276.0h1.4v1.4h-1.4z M361.0,268.0h0.9v0.9h-0.9z M368.2,276.4h1.4v1.4h-1.4z M347.8,262.6h1.4v1.4h-1.4z M345.9,288.6h1.1v1.1h-1.1z M367.3,284.5h1.5v1.5h-1.5z M356.3,277.1h1.2v1.2h-1.2z M366.0,276.1h1.5v1.5h-1.5z M360.7,268.2h1.4v1.4h-1.4z M369.0,267.4h1.4v1.4h-1.4z M343.4,273.1h1.1v1.1h-1.1z M376.4,278.5h1.2v1.2h-1.2z M366.8,269.7h1.4v1.4h-1.4z M368.8,260.8h0.9v0.9h-0.9z M351.5,281.8h0.9v0.9h-0.9z M351.8,261.7h0.9v0.9h-0.9z M355.7,288.7h1.0v1.0h-1.0z M368.3,268.9h0.9v0.9h-0.9z M356.4,272.5h1.3v1.3h-1.3z M383.2,275.4h1.2v1.2h-1.2z M380.0,280.9h0.9v0.9h-0.9z M354.6,274.2h1.1v1.1h-1.1z M380.0,274.5h1.2v1.2h-1.2z M355.9,277.0h1.4v1.4h-1.4z M352.2,274.1h1.2v1.2h-1.2z M361.1,287.2h1.3v1.3h-1.3z M355.4,270.5h1.5v1.5h-1.5z M350.1,278.9h1.0v1.0h-1.0z M364.4,263.4h1.5v1.5h-1.5z M376.7,276.3h1.2v1.2h-1.2z M345.5,287.1h1.0v1.0h-1.0z M367.4,265.8h1.3v1.3h-1.3z M348.0,287.7h1.0v1.0h-1.0z M346.8,259.0h1.4v1.4h-1.4z M353.0,259.4h1.1v1.1h-1.1z M379.8,280.3h1.5v1.5h-1.5z M361.5,263.6h1.4v1.4h-1.4z M353.8,263.9h1.4v1.4h-1.4z M353.2,259.7h1.1v1.1h-1.1z M368.4,271.2h1.0v1.0h-1.0z M343.6,284.2h1.0v1.0h-1.0z M350.5,269.9h1.1v1.1h-1.1z M351.5,287.0h1.3v1.3h-1.3z M354.2,268.8h1.1v1.1h-1.1z M367.8,266.8h1.4v1.4h-1.4z M362.2,264.4h1.4v1.4h-1.4z M380.9,286.5h1.4v1.4h-1.4z M365.4,287.4h0.9v0.9h-0.9z M377.5,278.7h1.2v1.2h-1.2z M347.5,262.7h1.5v1.5h-1.5z M349.8,285.9h1.2v1.2h-1.2z M361.2,259.1h1.3v1.3h-1.3z M343.2,259.3h1.2v1.2h-1.2z M344.3,281.8h1.1v1.1h-1.1z M346.8,285.6h0.9v0.9h-0.9z M368.9,286.1h1.2v1.2h-1.2z M373.0,276.3h1.5v1.5h-1.5z M346.6,271.0h1.0v1.0h-1.0z M378.3,273.2h1.1v1.1h-1.1z M353.2,281.8h1.4v1.4h-1.4z M348.9,266.5h1.1v1.1h-1.1z M360.0,275.5h1.4v1.4h-1.4z M381.8,283.7h1.1v1.1h-1.1z M347.9,272.2h1.3v1.3h-1.3z M361.0,287.0h1.5v1.5h-1.5z M362.7,276.9h1.5v1.5h-1.5z M361.5,279.5h1.1v1.1h-1.1z M375.1,277.2h1.0v1.0h-1.0z M369.7,260.7h1.2v1.2h-1.2z M363.0,282.3h1.4v1.4h-1.4z M375.5,285.6h1.1v1.1h-1.1z M361.6,282.2h1.0v1.0h-1.0z M348.8,274.9h1.2v1.2h-1.2z M346.9,285.0h1.4v1.4h-1.4z M381.0,288.4h1.1v1.1h-1.1z M369.8,259.8h1.1v1.1h-1.1z M371.0,282.8h1.0v1.0h-1.0z M379.6,274.9h1.4v1.4h-1.4z" fill="#000"/>
<path d="M319.7,230.1h0.7v0.7h-0.7z M332.9,228.2h0.9v0.9h-0.9z M319.9,237.5h0.8v0.8h-0.8z M327.2,238.0h0.9v0.9h-0.9z M327.5,233.2h0.7v0.7h-0.7z M335.8,225.5h0.7v0.7h-0.7z" fill="#000"/>
<rect x="408.3" y="199.7" width="98.30000000000001" height="88.60000000000002" fill="none" stroke="#000" stroke-width="1.3"/>
<line x1="408.30" y1="199.10" x2="408.30" y2="289.30" stroke="#000" stroke-width="2.2"/>
<line x1="407.80" y1="288.30" x2="507.20" y2="288.30" stroke="#000" stroke-width="2.2"/>
<line x1="404.50" y1="288.30" x2="408.30" y2="288.30" stroke="#000" stroke-width="0.9"/>
<line x1="405.90" y1="281.63" x2="408.30" y2="281.63" stroke="#000" stroke-width="0.9"/>
<line x1="405.90" y1="277.73" x2="408.30" y2="277.73" stroke="#000" stroke-width="0.9"/>
<line x1="405.90" y1="274.96" x2="408.30" y2="274.96" stroke="#000" stroke-width="0.9"/>
<line x1="405.90" y1="272.82" x2="408.30" y2="272.82" stroke="#000" stroke-width="0.9"/>
<line x1="405.90" y1="271.06" x2="408.30" y2="271.06" stroke="#000" stroke-width="0.9"/>
<line x1="405.90" y1="269.58" x2="408.30" y2="269.58" stroke="#000" stroke-width="0.9"/>
<line x1="405.90" y1="268.30" x2="408.30" y2="268.30" stroke="#000" stroke-width="0.9"/>
<line x1="405.90" y1="267.16" x2="408.30" y2="267.16" stroke="#000" stroke-width="0.9"/>
<line x1="404.50" y1="266.15" x2="408.30" y2="266.15" stroke="#000" stroke-width="0.9"/>
<line x1="405.90" y1="259.48" x2="408.30" y2="259.48" stroke="#000" stroke-width="0.9"/>
<line x1="405.90" y1="255.58" x2="408.30" y2="255.58" stroke="#000" stroke-width="0.9"/>
<line x1="405.90" y1="252.81" x2="408.30" y2="252.81" stroke="#000" stroke-width="0.9"/>
<line x1="405.90" y1="250.67" x2="408.30" y2="250.67" stroke="#000" stroke-width="0.9"/>
<line x1="405.90" y1="248.91" x2="408.30" y2="248.91" stroke="#000" stroke-width="0.9"/>
<line x1="405.90" y1="247.43" x2="408.30" y2="247.43" stroke="#000" stroke-width="0.9"/>
<line x1="405.90" y1="246.15" x2="408.30" y2="246.15" stroke="#000" stroke-width="0.9"/>
<line x1="405.90" y1="245.01" x2="408.30" y2="245.01" stroke="#000" stroke-width="0.9"/>
<line x1="404.50" y1="244.00" x2="408.30" y2="244.00" stroke="#000" stroke-width="0.9"/>
<line x1="405.90" y1="237.33" x2="408.30" y2="237.33" stroke="#000" stroke-width="0.9"/>
<line x1="405.90" y1="233.43" x2="408.30" y2="233.43" stroke="#000" stroke-width="0.9"/>
<line x1="405.90" y1="230.66" x2="408.30" y2="230.66" stroke="#000" stroke-width="0.9"/>
<line x1="405.90" y1="228.52" x2="408.30" y2="228.52" stroke="#000" stroke-width="0.9"/>
<line x1="405.90" y1="226.76" x2="408.30" y2="226.76" stroke="#000" stroke-width="0.9"/>
<line x1="405.90" y1="225.28" x2="408.30" y2="225.28" stroke="#000" stroke-width="0.9"/>
<line x1="405.90" y1="224.00" x2="408.30" y2="224.00" stroke="#000" stroke-width="0.9"/>
<line x1="405.90" y1="222.86" x2="408.30" y2="222.86" stroke="#000" stroke-width="0.9"/>
<line x1="404.50" y1="221.85" x2="408.30" y2="221.85" stroke="#000" stroke-width="0.9"/>
<line x1="405.90" y1="215.18" x2="408.30" y2="215.18" stroke="#000" stroke-width="0.9"/>
<line x1="405.90" y1="211.28" x2="408.30" y2="211.28" stroke="#000" stroke-width="0.9"/>
<line x1="405.90" y1="208.51" x2="408.30" y2="208.51" stroke="#000" stroke-width="0.9"/>
<line x1="405.90" y1="206.37" x2="408.30" y2="206.37" stroke="#000" stroke-width="0.9"/>
<line x1="405.90" y1="204.61" x2="408.30" y2="204.61" stroke="#000" stroke-width="0.9"/>
<line x1="405.90" y1="203.13" x2="408.30" y2="203.13" stroke="#000" stroke-width="0.9"/>
<line x1="405.90" y1="201.85" x2="408.30" y2="201.85" stroke="#000" stroke-width="0.9"/>
<line x1="405.90" y1="200.71" x2="408.30" y2="200.71" stroke="#000" stroke-width="0.9"/>
<line x1="404.50" y1="199.70" x2="408.30" y2="199.70" stroke="#000" stroke-width="0.9"/>
<line x1="408.30" y1="288.30" x2="408.30" y2="292.10" stroke="#000" stroke-width="0.9"/>
<line x1="415.70" y1="288.30" x2="415.70" y2="290.70" stroke="#000" stroke-width="0.9"/>
<line x1="420.03" y1="288.30" x2="420.03" y2="290.70" stroke="#000" stroke-width="0.9"/>
<line x1="423.10" y1="288.30" x2="423.10" y2="290.70" stroke="#000" stroke-width="0.9"/>
<line x1="425.48" y1="288.30" x2="425.48" y2="290.70" stroke="#000" stroke-width="0.9"/>
<line x1="427.42" y1="288.30" x2="427.42" y2="290.70" stroke="#000" stroke-width="0.9"/>
<line x1="429.07" y1="288.30" x2="429.07" y2="290.70" stroke="#000" stroke-width="0.9"/>
<line x1="430.49" y1="288.30" x2="430.49" y2="290.70" stroke="#000" stroke-width="0.9"/>
<line x1="431.75" y1="288.30" x2="431.75" y2="290.70" stroke="#000" stroke-width="0.9"/>
<line x1="432.88" y1="288.30" x2="432.88" y2="292.10" stroke="#000" stroke-width="0.9"/>
<line x1="440.27" y1="288.30" x2="440.27" y2="290.70" stroke="#000" stroke-width="0.9"/>
<line x1="444.60" y1="288.30" x2="444.60" y2="290.70" stroke="#000" stroke-width="0.9"/>
<line x1="447.67" y1="288.30" x2="447.67" y2="290.70" stroke="#000" stroke-width="0.9"/>
<line x1="450.05" y1="288.30" x2="450.05" y2="290.70" stroke="#000" stroke-width="0.9"/>
<line x1="452.00" y1="288.30" x2="452.00" y2="290.70" stroke="#000" stroke-width="0.9"/>
<line x1="453.64" y1="288.30" x2="453.64" y2="290.70" stroke="#000" stroke-width="0.9"/>
<line x1="455.07" y1="288.30" x2="455.07" y2="290.70" stroke="#000" stroke-width="0.9"/>
<line x1="456.33" y1="288.30" x2="456.33" y2="290.70" stroke="#000" stroke-width="0.9"/>
<line x1="457.45" y1="288.30" x2="457.45" y2="292.10" stroke="#000" stroke-width="0.9"/>
<line x1="464.85" y1="288.30" x2="464.85" y2="290.70" stroke="#000" stroke-width="0.9"/>
<line x1="469.18" y1="288.30" x2="469.18" y2="290.70" stroke="#000" stroke-width="0.9"/>
<line x1="472.25" y1="288.30" x2="472.25" y2="290.70" stroke="#000" stroke-width="0.9"/>
<line x1="474.63" y1="288.30" x2="474.63" y2="290.70" stroke="#000" stroke-width="0.9"/>
<line x1="476.57" y1="288.30" x2="476.57" y2="290.70" stroke="#000" stroke-width="0.9"/>
<line x1="478.22" y1="288.30" x2="478.22" y2="290.70" stroke="#000" stroke-width="0.9"/>
<line x1="479.64" y1="288.30" x2="479.64" y2="290.70" stroke="#000" stroke-width="0.9"/>
<line x1="480.90" y1="288.30" x2="480.90" y2="290.70" stroke="#000" stroke-width="0.9"/>
<line x1="482.03" y1="288.30" x2="482.03" y2="292.10" stroke="#000" stroke-width="0.9"/>
<line x1="489.42" y1="288.30" x2="489.42" y2="290.70" stroke="#000" stroke-width="0.9"/>
<line x1="493.75" y1="288.30" x2="493.75" y2="290.70" stroke="#000" stroke-width="0.9"/>
<line x1="496.82" y1="288.30" x2="496.82" y2="290.70" stroke="#000" stroke-width="0.9"/>
<line x1="499.20" y1="288.30" x2="499.20" y2="290.70" stroke="#000" stroke-width="0.9"/>
<line x1="501.15" y1="288.30" x2="501.15" y2="290.70" stroke="#000" stroke-width="0.9"/>
<line x1="502.79" y1="288.30" x2="502.79" y2="290.70" stroke="#000" stroke-width="0.9"/>
<line x1="504.22" y1="288.30" x2="504.22" y2="290.70" stroke="#000" stroke-width="0.9"/>
<line x1="505.48" y1="288.30" x2="505.48" y2="290.70" stroke="#000" stroke-width="0.9"/>
<line x1="506.60" y1="288.30" x2="506.60" y2="292.10" stroke="#000" stroke-width="0.9"/>
<line x1="447.30" y1="199.70" x2="447.30" y2="288.30" stroke="#000" stroke-width="2.1"/>
<line x1="408.30" y1="257.60" x2="506.60" y2="257.60" stroke="#000" stroke-width="2.1"/>
<g font-family='"Liberation Sans", sans-serif' font-weight="bold" stroke="#000" stroke-width="0.2"><text x="402.64" y="302.7" font-size="8.7" textLength="7.40" lengthAdjust="spacingAndGlyphs">10</text><text x="411.04" y="298.40" font-size="7.40">0</text></g>
<g font-family='"Liberation Sans", sans-serif' font-weight="bold" stroke="#000" stroke-width="0.2"><text x="427.22" y="302.7" font-size="8.7" textLength="7.40" lengthAdjust="spacingAndGlyphs">10</text><text x="435.62" y="298.40" font-size="7.40">1</text></g>
<g font-family='"Liberation Sans", sans-serif' font-weight="bold" stroke="#000" stroke-width="0.2"><text x="451.79" y="302.7" font-size="8.7" textLength="7.40" lengthAdjust="spacingAndGlyphs">10</text><text x="460.19" y="298.40" font-size="7.40">2</text></g>
<g font-family='"Liberation Sans", sans-serif' font-weight="bold" stroke="#000" stroke-width="0.2"><text x="476.37" y="302.7" font-size="8.7" textLength="7.40" lengthAdjust="spacingAndGlyphs">10</text><text x="484.77" y="298.40" font-size="7.40">3</text></g>
<g font-family='"Liberation Sans", sans-serif' font-weight="bold" stroke="#000" stroke-width="0.2"><text x="500.94" y="302.7" font-size="8.7" textLength="7.40" lengthAdjust="spacingAndGlyphs">10</text><text x="509.34" y="298.40" font-size="7.40">4</text></g>
<g transform="rotate(-90 403.0 288.3)" font-family='"Liberation Sans", sans-serif' font-weight="bold" stroke="#000" stroke-width="0.2"><text x="396.23" y="288.3" font-size="8.3" textLength="8.40" lengthAdjust="spacingAndGlyphs">10</text><text x="405.43" y="283.80" font-size="7.80">0</text></g>
<g transform="rotate(-90 403.0 266.3)" font-family='"Liberation Sans", sans-serif' font-weight="bold" stroke="#000" stroke-width="0.2"><text x="396.23" y="266.3" font-size="8.3" textLength="8.40" lengthAdjust="spacingAndGlyphs">10</text><text x="405.43" y="261.80" font-size="7.80">1</text></g>
<g transform="rotate(-90 403.0 244.3)" font-family='"Liberation Sans", sans-serif' font-weight="bold" stroke="#000" stroke-width="0.2"><text x="396.23" y="244.3" font-size="8.3" textLength="8.40" lengthAdjust="spacingAndGlyphs">10</text><text x="405.43" y="239.80" font-size="7.80">2</text></g>
<g transform="rotate(-90 403.0 222.2)" font-family='"Liberation Sans", sans-serif' font-weight="bold" stroke="#000" stroke-width="0.2"><text x="396.23" y="222.2" font-size="8.3" textLength="8.40" lengthAdjust="spacingAndGlyphs">10</text><text x="405.43" y="217.70" font-size="7.80">3</text></g>
<g transform="rotate(-90 403.0 200.3)" font-family='"Liberation Sans", sans-serif' font-weight="bold" stroke="#000" stroke-width="0.2"><text x="396.23" y="200.3" font-size="8.3" textLength="8.40" lengthAdjust="spacingAndGlyphs">10</text><text x="405.43" y="195.80" font-size="7.80">4</text></g>
<text x="497.5" y="211.8" font-family='"Liberation Sans", sans-serif' font-size="14" font-weight="normal" text-anchor="end" stroke="#000" stroke-width="0.3">3</text>
<text x="502.3" y="271.7" font-family='"Liberation Sans", sans-serif' font-size="14" font-weight="normal" text-anchor="end" textLength="14.6" lengthAdjust="spacingAndGlyphs" stroke="#000" stroke-width="0.3">35</text>
<path d="M408.4,267.7 L409.9,267.1 L410.8,267.1 L412.0,266.7 L412.6,266.7 L413.5,267.3 L415.4,267.1 L416.1,266.6 L417.0,266.4 L417.5,266.8 L418.9,266.7 L420.8,266.5 L420.3,267.1 L422.4,267.5 L423.1,267.0 L423.7,267.1 L424.5,267.2 L426.3,266.9 L426.5,267.3 L427.6,266.6 L428.3,266.8 L429.5,266.2 L431.5,265.9 L432.5,267.2 L432.6,266.0 L433.9,267.6 L435.2,266.7 L436.3,267.1 L436.5,267.5 L438.2,267.0 L439.5,268.1 L439.8,268.5 L441.2,267.5 L442.4,268.6 L443.5,267.7 L443.5,267.7 L445.1,268.1 L446.4,267.6 L447.0,267.5" fill="none" stroke="#000" stroke-width="1.2" stroke-linejoin="round"/>
<path d="M408.5,272.4 L410.3,272.7 L410.6,271.8 L411.8,271.9 L412.7,272.2 L413.8,271.8 L415.0,271.8 L416.3,271.3 L416.7,271.9 L418.5,272.2 L419.3,271.5 L419.8,271.3 L420.7,271.9 L421.7,272.3 L423.4,271.6 L424.6,271.6 L424.8,271.7 L425.4,271.7 L427.5,271.3 L428.3,271.8 L428.9,271.5 L430.6,271.0 L431.7,270.4 L431.9,271.1 L433.4,271.0 L433.5,270.8 L435.6,272.4 L436.0,272.1 L437.7,272.7 L438.6,271.9 L439.4,273.4 L440.2,273.2 L441.5,274.3 L441.8,274.8 L442.4,274.6 L443.7,275.1 L445.5,275.6 L445.6,277.3 L445.0,278.6 L446.1,279.4 L446.0,280.6 L446.5,281.2 L447.0,282.0" fill="none" stroke="#000" stroke-width="1.2" stroke-linejoin="round"/>
<path d="M413.2,287.1 L413.2,286.0 L413.5,284.7 L413.5,284.2 L413.4,282.7 L414.1,282.0 L413.6,280.8 L413.6,280.2 L414.5,279.1 L415.7,278.6 L416.7,278.2 L417.0,277.8 L417.9,277.4 L419.4,277.1 L420.1,276.7 L420.8,276.3 L421.8,275.9 L423.4,276.2 L424.2,276.3 L425.0,276.2 L426.1,276.2 L427.9,276.1 L428.5,276.3 L430.1,276.2 L431.4,276.3 L431.8,277.1 L432.9,277.1 L434.3,277.6 L435.3,278.0 L435.5,278.7 L435.4,279.8 L435.7,281.0 L435.8,282.3 L436.0,282.7 L436.1,284.0 L436.3,285.3 L436.2,286.0 L436.0,287.0" fill="none" stroke="#000" stroke-width="1.2" stroke-linejoin="round"/>
<path d="M409.2,287.2 L410.3,287.4 L410.8,287.4 L411.7,287.2 L413.1,287.3 L413.8,287.5 L414.9,287.0 L416.1,287.3 L416.8,287.2 L417.8,287.5 L419.3,287.2 L419.8,287.5 L421.3,287.5 L421.8,287.3 L423.2,287.4 L424.2,287.3 L424.8,287.5 L425.8,287.1 L426.9,287.3 L427.8,287.5 L428.8,287.2 L430.2,287.5 L430.8,287.2 L432.1,287.2 L433.1,287.1 L433.7,287.4 L435.1,287.3 L436.2,287.4 L436.9,287.1 L437.9,287.5 L438.7,287.3 L440.3,287.2 L441.2,287.2 L442.1,287.6 L443.0,287.3 L444.0,287.4 L445.2,287.1 L445.8,287.5 L447.1,287.0 L448.2,287.1 L449.2,287.1 L449.8,287.1 L450.9,287.0 L452.2,287.2 L453.2,287.2 L454.2,287.1 L455.3,287.4 L456.0,287.2 L457.2,287.5 L458.2,287.1 L459.1,287.5 L460.0,287.5 L460.7,287.4 L461.8,287.4 L463.0,287.4 L464.2,287.5 L465.2,287.2 L466.0,287.1 L467.2,287.4 L467.9,287.5 L469.1,287.3 L470.1,287.4 L470.8,287.3 L471.7,287.6 L472.9,287.4 L474.2,287.1 L474.9,287.3 L476.0,287.5 L477.2,287.2 L477.9,287.3 L479.2,287.4 L480.3,287.5 L481.3,287.3 L482.1,287.1 L483.3,287.4 L483.9,287.2 L484.7,287.5 L486.0,287.1 L487.2,287.5 L487.9,287.2 L488.7,287.3 L489.9,287.2 L490.8,287.1 L492.1,287.6 L492.9,287.0 L494.2,287.4 L495.2,287.2 L495.9,287.2 L497.3,287.2 L498.0,287.6 L499.1,287.2 L500.0,287.3" fill="none" stroke="#000" stroke-width="1.2" stroke-linejoin="round"/>
<path d="M437.8,285.5 L437.2,283.7 L437.5,282.5 L439.2,281.5 L439.6,280.0 M411.4,276.8 L410.3,276.9 L409.2,277.9 M426.2,275.3 L428.0,275.7 L429.4,274.8 L429.6,273.8 M434.6,267.6 L436.1,267.5 L437.4,268.5 L437.3,269.8 M421.2,274.9 L422.1,275.9 L423.6,276.2 L424.4,276.3 L425.7,277.5 M445.5,286.7 L445.2,287.4 L444.8,288.6 L444.3,289.4 M422.2,274.0 L421.0,275.4 L419.5,275.1 L418.2,275.7 M437.3,272.9 L436.9,271.4 L436.6,269.6 L436.8,268.0 L436.4,267.1 M416.1,278.3 L416.5,279.0 L417.9,279.1 L418.7,278.3 L418.5,276.5 M411.6,285.7 L411.5,286.5 L411.4,287.4 M417.6,274.9 L416.0,274.1 L415.4,272.8 L414.6,272.3 L413.3,272.9 M428.4,269.3 L429.2,269.4 L430.5,269.8 L431.1,269.4 M442.7,279.7 L443.5,278.8 L445.2,279.1 L446.9,278.7 M409.4,277.5 L410.0,279.0 L409.0,279.9 L408.6,281.5 L409.2,283.1 M434.9,271.1 L435.7,269.3 L437.0,268.1 M440.6,270.5 L439.9,270.3 L438.6,268.8" fill="none" stroke="#000" stroke-width="0.9"/>
<path d="M424.9,278.3h1.0v1.0h-1.0z M439.3,285.8h1.2v1.2h-1.2z M429.9,282.5h0.9v0.9h-0.9z M442.7,282.8h1.0v1.0h-1.0z M418.3,278.0h1.3v1.3h-1.3z M419.5,271.2h1.3v1.3h-1.3z M418.5,276.1h1.0v1.0h-1.0z M442.7,281.7h1.1v1.1h-1.1z M437.8,267.7h1.5v1.5h-1.5z M420.0,284.0h1.2v1.2h-1.2z M440.5,274.8h1.4v1.4h-1.4z M425.1,265.8h1.4v1.4h-1.4z M424.9,282.8h1.0v1.0h-1.0z M435.4,268.3h1.4v1.4h-1.4z M435.8,286.3h1.5v1.5h-1.5z M442.3,267.1h0.9v0.9h-0.9z M431.6,285.8h1.1v1.1h-1.1z M445.3,269.2h1.4v1.4h-1.4z M413.6,272.8h1.1v1.1h-1.1z M436.0,276.4h1.3v1.3h-1.3z M434.1,279.1h1.0v1.0h-1.0z M416.6,287.5h1.0v1.0h-1.0z M439.8,264.8h1.2v1.2h-1.2z M428.1,270.2h0.9v0.9h-0.9z M427.8,270.2h1.2v1.2h-1.2z" fill="#000"/>
<path d="M448.7,268.4 L448.9,267.6 L449.6,268.4 L451.0,267.1 L452.0,268.1 L452.8,267.8 L453.9,266.7 L455.4,266.6 L456.0,266.2 L456.7,266.9 L458.3,266.6 L458.6,267.6 L459.9,267.7 L461.4,267.4 L462.6,267.0 L463.8,266.9 L464.2,267.9 L465.3,266.8 L465.7,267.4 L467.3,266.2 L467.3,267.3 L469.3,266.1 L470.4,266.9 L470.7,266.5 L472.0,265.3 L473.5,265.8 L474.2,266.0 L475.7,266.9 L476.3,267.1 L477.8,267.6 L478.0,266.9 L479.0,267.1 L480.4,267.9 L480.9,269.3 L481.6,269.5 L482.5,269.9 L483.5,270.8 L483.9,271.9 L485.3,271.2 L485.1,272.5 L485.5,274.5 L486.8,275.3 L487.6,276.2 L487.6,275.8 L487.9,277.1 L488.3,278.8 L488.8,279.3 L489.3,280.3 L490.6,281.3 L490.1,282.5 L491.5,283.1 L490.8,284.7 L490.8,285.2 L491.8,286.0" fill="none" stroke="#000" stroke-width="1.2" stroke-linejoin="round"/>
<path d="M448.6,276.6 L449.5,275.6 L451.7,275.4 L452.1,275.9 L453.0,274.6 L454.6,275.6 L454.7,275.1 L456.3,274.9 L457.6,273.9 L457.8,274.0 L459.2,272.8 L460.1,273.4 L460.8,273.0 L462.0,272.3 L463.4,272.7 L464.5,272.8 L465.4,272.9 L465.7,272.4 L467.0,273.2 L467.3,271.9 L469.5,273.3 L470.4,272.2 L471.3,273.0 L472.5,272.1 L472.5,272.4 L474.3,272.6 L474.4,272.5 L476.7,272.4 L477.6,274.0 L477.7,274.3 L479.5,274.9 L480.0,274.8 L480.9,274.8 L482.6,276.2 L482.6,277.5 L483.5,277.2 L483.4,277.9 L484.5,279.5 L484.6,280.4 L485.2,280.9 L486.5,282.7 L485.9,283.4 L487.4,284.2 L487.7,284.6 L488.1,285.8 L488.0,287.0" fill="none" stroke="#000" stroke-width="1.2" stroke-linejoin="round"/>
<path d="M454.8,286.9 L455.7,285.9 L456.0,285.0 L456.6,284.3 L456.5,283.3 L456.6,282.4 L457.9,281.4 L459.4,280.5 L459.5,279.8 L460.6,279.5 L462.1,279.2 L463.2,279.0 L463.6,278.8 L464.6,279.0 L465.9,278.6 L466.5,278.6 L467.9,278.8 L469.3,279.0 L470.4,279.0 L471.3,279.0 L472.0,279.1 L472.9,280.0 L474.2,279.8 L474.5,280.7 L474.8,281.4 L475.1,283.0 L475.6,283.2 L476.9,284.4 L476.6,285.1 L477.3,286.3 L478.0,287.0" fill="none" stroke="#000" stroke-width="1.2" stroke-linejoin="round"/>
<path d="M463.5,272.4 L464.0,271.2 L463.6,269.6 L464.6,268.2 M462.2,277.5 L460.5,278.4 L459.4,279.9 L457.6,279.8 L456.8,278.9 M490.7,275.9 L490.4,274.8 L489.5,273.3 L488.2,272.3 M476.1,287.9 L474.6,288.8 L473.7,289.4 M465.5,286.8 L464.1,286.2 L462.5,286.7 L462.3,287.5 M491.8,281.5 L490.5,281.9 L489.6,282.5 L489.7,284.0 L489.4,285.0 M450.1,284.2 L450.6,285.8 L451.4,286.4 L452.7,287.1 L453.6,287.7 M463.3,275.2 L462.4,275.2 L461.1,274.8 L459.4,274.5 L458.5,274.3 M459.8,277.0 L458.5,276.5 L456.6,276.3 L455.3,275.9 L454.0,276.4 M476.8,264.9 L475.6,266.3 L475.3,267.6 M472.2,263.4 L471.9,264.2 L472.7,266.0 L474.4,266.6 L475.9,267.5 M460.9,274.6 L460.1,275.3 L458.7,275.0 L457.8,274.1 L457.7,272.9 M470.3,272.2 L471.7,271.5 L472.4,269.7 L472.0,267.9 L470.6,267.6 M477.9,287.6 L478.6,287.4 L478.7,285.7 L479.4,285.3 L479.5,284.5 M465.9,271.1 L465.1,270.1 L465.0,269.3 M481.5,280.9 L483.4,281.6 L484.2,282.0 M477.4,280.1 L476.8,281.8 L476.8,283.5 M469.7,267.2 L469.3,268.0 L470.6,269.5 L472.0,269.4" fill="none" stroke="#000" stroke-width="0.9"/>
<path d="M492.4,281.5h1.3v1.3h-1.3z M461.4,278.9h1.4v1.4h-1.4z M457.7,266.4h1.1v1.1h-1.1z M476.1,284.9h1.3v1.3h-1.3z M460.5,280.3h1.0v1.0h-1.0z M453.0,260.3h1.2v1.2h-1.2z M475.2,273.0h1.2v1.2h-1.2z M456.8,265.9h1.3v1.3h-1.3z M467.0,274.0h1.4v1.4h-1.4z M470.0,280.8h0.9v0.9h-0.9z M471.1,261.5h1.0v1.0h-1.0z M456.9,270.8h1.0v1.0h-1.0z M462.3,262.0h1.1v1.1h-1.1z M484.9,275.3h1.4v1.4h-1.4z M477.0,278.0h1.2v1.2h-1.2z M454.6,266.3h1.4v1.4h-1.4z M450.7,265.1h1.3v1.3h-1.3z M480.1,273.0h1.3v1.3h-1.3z M467.7,276.5h0.9v0.9h-0.9z M467.4,287.3h1.2v1.2h-1.2z M464.0,277.5h1.5v1.5h-1.5z M469.9,271.7h1.4v1.4h-1.4z M479.4,268.4h1.1v1.1h-1.1z M485.7,270.2h1.4v1.4h-1.4z M470.9,284.3h1.0v1.0h-1.0z M467.0,260.9h1.4v1.4h-1.4z M489.8,273.6h1.2v1.2h-1.2z M462.4,263.8h1.5v1.5h-1.5z M485.7,274.8h1.3v1.3h-1.3z M487.3,278.7h1.0v1.0h-1.0z" fill="#000"/>
<path d="M488.7,231.0 L488.0,231.4 L486.7,232.0 L485.0,233.1 L484.9,232.7 L483.4,233.5 L481.4,233.2 L480.8,234.2 L479.3,233.9 L478.7,234.6 L478.0,234.9 L475.9,234.6 L475.4,234.7 L474.4,234.5 L472.8,235.0 L472.7,235.0 L471.3,235.4 L469.7,234.9 L469.4,235.0 L467.2,234.8 L467.3,234.3 L465.6,235.3 L464.6,234.7 L463.5,235.0 L462.0,234.9 L461.0,234.1 L459.8,233.7 L457.8,233.8 L456.7,233.3 L456.4,233.9 L454.1,232.4 L453.4,232.3 L452.1,232.4 L451.1,231.1 L451.3,230.2 L452.1,229.0 L454.1,227.9 L454.1,227.5 L456.4,228.0 L456.9,227.9 L458.0,227.2 L459.9,227.1 L460.1,226.1 L461.6,227.3 L463.9,226.2 L464.1,226.6 L465.3,226.9 L467.4,226.7 L468.3,226.6 L469.4,226.0 L470.3,225.5 L471.3,226.2 L472.8,226.7 L473.1,226.6 L474.4,226.5 L474.6,226.0 L476.0,226.8 L477.9,226.7 L478.9,226.9 L479.3,226.5 L481.2,227.4 L482.0,227.6 L482.9,227.2 L483.7,227.6 L485.5,227.6 L487.1,227.9 L488.3,229.3 L488.5,230.5" fill="none" stroke="#000" stroke-width="1.2" stroke-linejoin="round"/>
<path d="M484.4,230.4 L482.6,231.6 L481.8,232.1 L480.8,232.0 L479.6,232.4 L478.1,232.0 L477.2,232.5 L475.6,232.1 L474.9,232.0 L474.0,232.3 L472.7,232.6 L472.1,231.9 L470.9,232.7 L469.8,232.6 L468.4,231.7 L467.3,231.5 L466.0,231.3 L465.1,231.6 L464.2,230.4 L463.1,230.5 L461.8,228.9 L463.3,228.2 L463.9,228.0 L465.6,228.3 L466.9,228.1 L468.1,227.6 L468.5,227.3 L469.6,227.2 L470.7,227.4 L471.6,227.4 L473.5,227.3 L474.2,228.1 L474.7,228.0 L476.3,227.4 L477.7,228.3 L478.1,228.7 L479.8,228.6 L480.6,228.2 L482.2,229.4 L482.9,229.1 L484.0,230.6" fill="none" stroke="#000" stroke-width="1.2" stroke-linejoin="round"/>
<path d="M489.8,232.7 L488.9,234.1 L488.3,234.4 L487.4,235.1 L486.3,235.5 L485.2,235.5 L483.9,234.9 L483.0,234.7 L482.1,234.1 L481.4,233.0 L480.2,232.4 L480.2,231.1 L481.0,230.3 L481.8,229.2 L483.3,229.1 L483.9,228.8 L485.3,229.0 L486.1,229.2 L487.3,229.7 L488.5,230.2 L489.1,230.4 L489.2,231.6 L489.7,232.8" fill="none" stroke="#000" stroke-width="1.2" stroke-linejoin="round"/>
<path d="M483.9,231.7 L482.4,233.1 L481.1,233.8 L480.8,234.6 L479.5,235.4 M478.2,233.1 L477.4,232.0 L477.2,230.4 L477.9,230.0 M454.4,230.0 L454.0,228.9 L453.6,227.7 L452.8,227.6 L451.2,228.7 M457.3,227.7 L456.5,228.2 L455.3,227.9 L454.2,227.8 L452.7,228.4 M474.8,231.8 L475.5,232.5 L476.3,233.4 L478.1,233.2 M451.6,229.4 L450.3,230.7 L449.7,231.4 M459.2,228.2 L460.2,228.4 L461.3,230.0 M459.3,235.1 L458.5,235.3 L456.9,235.5 L455.9,234.4 M484.8,225.6 L485.6,225.2 L486.9,225.9 M474.4,234.3 L473.6,234.4 L472.9,235.3 L472.0,235.5 M491.7,226.1 L490.3,225.6 L488.4,224.9 L488.2,224.1 L489.1,222.4 M481.1,236.4 L479.7,237.2 L478.7,236.8 L477.1,237.1 L475.9,235.6 M485.3,234.3 L485.8,232.7 L485.3,231.9 L484.0,231.1 M450.4,232.6 L451.4,234.1 L453.2,234.0 M481.7,229.2 L482.9,230.6 L483.1,231.5 M464.6,226.9 L464.0,228.1 L464.2,229.5 L464.6,230.5 M464.9,225.6 L466.4,225.5 L467.4,226.2 L468.2,226.6 M455.7,234.3 L455.0,235.7 L455.0,236.7 L453.7,237.9 L452.2,237.5 M477.8,229.0 L477.4,227.8 L477.4,226.9 L476.7,225.6 L477.4,224.3 M458.0,236.6 L457.2,235.0 L456.4,234.4 M461.5,227.6 L460.0,226.8 L459.0,227.6 L457.8,227.4 L456.9,226.8 M469.0,236.2 L468.8,235.3 L468.0,234.7 L468.0,232.9 M453.8,231.4 L452.9,231.0 L452.4,230.4 M468.8,228.0 L467.9,227.9 L466.7,227.8 L465.3,228.4 L464.4,227.5 M450.9,228.8 L450.5,227.4 L449.6,227.2 L448.7,227.0 M462.0,224.6 L462.6,226.3 L462.2,227.3 L461.6,227.8 M478.0,226.9 L478.8,225.4 L480.7,225.4 L482.1,225.9 M464.3,232.9 L464.8,233.6 L464.7,235.2 L464.8,236.3 M474.5,230.4 L473.4,228.7 L473.5,226.9 L472.7,225.2 L473.7,223.5 M456.7,226.0 L456.7,227.6 L457.7,229.2" fill="none" stroke="#000" stroke-width="0.9"/>
<path d="M466.0,223.2h1.0v1.0h-1.0z M470.4,228.5h1.0v1.0h-1.0z M457.8,231.8h1.0v1.0h-1.0z M492.1,233.5h1.4v1.4h-1.4z M468.9,223.2h1.4v1.4h-1.4z M477.3,235.7h1.3v1.3h-1.3z M484.3,230.1h1.3v1.3h-1.3z M452.8,236.4h1.4v1.4h-1.4z M493.6,223.1h0.9v0.9h-0.9z M490.4,230.9h1.2v1.2h-1.2z M460.3,238.6h0.9v0.9h-0.9z M467.1,236.5h1.1v1.1h-1.1z M477.9,229.2h1.0v1.0h-1.0z M457.6,224.5h1.4v1.4h-1.4z M451.0,222.9h1.1v1.1h-1.1z M465.9,237.8h0.9v0.9h-0.9z M464.1,226.1h1.1v1.1h-1.1z M476.8,233.9h1.1v1.1h-1.1z M468.9,232.0h1.0v1.0h-1.0z M460.6,223.8h1.4v1.4h-1.4z M474.6,227.6h1.4v1.4h-1.4z M469.0,229.0h1.3v1.3h-1.3z M467.7,222.4h1.1v1.1h-1.1z M475.1,234.1h1.1v1.1h-1.1z M482.7,226.5h1.2v1.2h-1.2z" fill="#000"/>
<path d="M453.1,250.9h1.0v1.0h-1.0z M468.1,244.9h1.0v1.0h-1.0z M459.7,238.7h1.2v1.2h-1.2z M453.8,246.9h1.1v1.1h-1.1z M453.0,241.7h1.2v1.2h-1.2z M453.4,254.8h0.8v0.8h-0.8z M464.6,249.3h1.0v1.0h-1.0z M463.0,248.3h1.0v1.0h-1.0z M455.8,244.6h0.9v0.9h-0.9z M459.5,248.0h0.9v0.9h-0.9z M457.6,240.8h0.9v0.9h-0.9z M465.5,240.3h0.8v0.8h-0.8z" fill="#000"/>
<path d="M487.5,218.6h1.0v1.0h-1.0z M477.5,222.8h0.9v0.9h-0.9z M471.8,215.4h1.0v1.0h-1.0z M489.3,219.8h0.9v0.9h-0.9z" fill="#000"/>
<line x1="16.50" y1="199.00" x2="16.50" y2="289.50" stroke="#000" stroke-width="2.0"/>
<polygon points="16.5,187.6 11.8,201.5 21.2,201.5" fill="#000"/>
<text x="11.7" y="240.4" font-family='"Liberation Serif", serif' font-size="15.5" font-weight="normal" text-anchor="middle" transform="rotate(-90 11.7 240.4)" stroke="#000" stroke-width="0.3">PI</text>
<line x1="40.00" y1="323.40" x2="506.00" y2="323.40" stroke="#000" stroke-width="2.4"/>
<polygon points="504,318.6 519.5,323.4 504,328.6" fill="#000"/>
<text x="274" y="340.8" font-family='"Liberation Serif", serif' font-size="16" font-weight="normal" text-anchor="middle" textLength="51" lengthAdjust="spacingAndGlyphs" stroke="#000" stroke-width="0.25">Annexin</text>
<rect x="41" y="388.4" width="126.6" height="97.10000000000002" fill="none" stroke="#000" stroke-width="1.3"/>
<defs><pattern id="stip" width="3" height="3" patternUnits="userSpaceOnUse"><rect width="3" height="3" fill="#dedede"/><rect x="0" y="0" width="1" height="1" fill="#888"/><rect x="1.5" y="1.5" width="1" height="1" fill="#9a9a9a"/></pattern><pattern id="hatch" width="2.1" height="2.1" patternUnits="userSpaceOnUse" patternTransform="rotate(-45)"><rect width="2.1" height="2.1" fill="#ececec"/><rect width="0.8" height="2.1" fill="#7a7a7a"/></pattern></defs>
<path d="M45,485.5 L45.0,485.7 L46.0,485.7 L46.0,484.8 L47.0,484.8 L47.0,485.1 L48.0,485.1 L48.0,483.8 L49.0,483.8 L49.0,484.7 L50.0,484.7 L50.0,484.4 L51.0,484.4 L51.0,483.9 L52.0,483.9 L52.0,483.6 L53.0,483.6 L53.0,484.1 L54.0,484.1 L54.0,483.0 L55.0,483.0 L55.0,482.4 L56.1,482.4 L56.1,482.4 L57.1,482.4 L57.1,481.7 L58.2,481.7 L58.2,481.6 L59.3,481.6 L59.3,481.7 L60.4,481.7 L60.4,482.2 L61.4,482.2 L61.4,481.2 L62.5,481.2 L62.5,480.8 L63.6,480.8 L63.6,481.2 L64.6,481.2 L64.6,480.4 L65.7,480.4 L65.7,479.3 L66.8,479.3 L66.8,477.4 L67.9,477.4 L67.9,475.8 L69.0,475.8 L69.0,473.8 L70.0,473.8 L70.0,470.9 L71.0,470.9 L71.0,468.3 L72.0,468.3 L72.0,464.5 L73.0,464.5 L73.0,460.3 L74.0,460.3 L74.0,454.5 L75.2,454.5 L75.2,443.6 L76.6,443.6 L76.6,438.9 L78.0,438.9 L78.0,434.7 L79.3,434.7 L79.3,432.7 L80.6,432.7 L80.6,429.6 L82.5,429.6 L82.5,422.7 L83.7,422.7 L83.7,419.4 L84.8,419.4 L84.8,416.9 L86.5,416.9 L86.5,412.7 L88.0,412.7 L88.0,409.6 L89.0,409.6 L89.0,411.0 L90.0,411.0 L90.0,412.7 L91.0,412.7 L91.0,412.8 L92.0,412.8 L92.0,412.7 L93.1,412.7 L93.1,414.1 L94.3,414.1 L94.3,415.2 L95.4,415.2 L95.4,415.8 L96.7,415.8 L96.7,419.5 L98.0,419.5 L98.0,421.5 L99.3,421.5 L99.3,424.5 L100.5,424.5 L100.5,427.7 L101.8,427.7 L101.8,430.3 L102.9,430.3 L102.9,432.6 L103.9,432.6 L103.9,434.6 L105.0,434.6 L105.0,437.0 L106.0,437.0 L106.0,439.5 L107.0,439.5 L107.0,441.6 L108.0,441.6 L108.0,443.6 L109.2,443.6 L109.2,445.7 L110.3,445.7 L110.3,448.5 L111.5,448.5 L111.5,450.0 L112.8,450.0 L112.8,453.3 L114.0,453.3 L114.0,454.4 L115.2,454.4 L115.2,457.8 L116.5,457.8 L116.5,459.6 L117.7,459.6 L117.7,462.9 L118.9,462.9 L118.9,465.6 L119.9,465.6 L119.9,466.3 L121.0,466.3 L121.0,469.0 L122.0,469.0 L122.0,469.7 L123.0,469.7 L123.0,471.5 L124.1,471.5 L124.1,473.2 L125.2,473.2 L125.2,475.5 L126.3,475.5 L126.3,476.9 L127.4,476.9 L127.4,477.8 L128.6,477.8 L128.6,479.1 L129.8,479.1 L129.8,479.5 L131.0,479.5 L131.0,480.6 L132.2,480.6 L132.2,481.4 L133.4,481.4 L133.4,481.8 L134.7,481.8 L134.7,481.2 L135.9,481.2 L135.9,482.3 L136.9,482.3 L136.9,482.0 L137.9,482.0 L137.9,482.7 L138.9,482.7 L138.9,482.0 L139.9,482.0 L139.9,482.6 L141.0,482.6 L141.0,483.1 L142.0,483.1 L142.0,483.6 L143.0,483.6 L143.0,483.8 L144.0,483.8 L144.0,483.4 L145.0,483.4 L145.0,483.8 L146.0,483.8 L146.0,483.8 L147.0,483.8 L147.0,483.8 L148.0,483.8 L148.0,483.0 L149.0,483.0 L149.0,484.1 L150.0,484.1 L150.0,483.1 L151.0,483.1 L151.0,483.9 L152.0,483.9 L152.0,483.3 L153.0,483.3 L153.0,483.1 L154.0,483.1 L154.0,483.6 L155.0,483.6 L155.0,484.3 L156.0,484.3 L156.0,484.3 L157.0,484.3 L157.0,483.5 L158.0,483.5 L158.0,483.7 L159.0,483.7 L159.0,483.3 L160.0,483.3 L160.0,483.9 L161.0,483.9 L161.0,483.7 L162.0,483.7 L162.0,484.3 L163.0,484.3 L163.0,483.8 L164.0,483.8 L164.0,484.0 L165.0,484.0 L165.0,484.4 L166.0,484.0 L166,485.5 Z" fill="url(#stip)" stroke="#000" stroke-width="1.1"/>
<polyline points="45.0,482.7 46.0,482.1 47.0,481.3 48.0,480.0 49.0,478.9 50.0,477.9 51.0,476.6 52.0,476.2 53.0,474.4 54.1,473.3 55.1,471.7 56.2,469.4 57.2,468.0 58.3,466.2 59.3,465.4 60.6,458.3 62.0,452.1 63.2,444.7 64.5,437.5 65.7,431.4 66.8,425.8 68.0,420.1 69.9,411.7 71.0,408.9 72.0,405.5 73.0,402.6 74.0,400.4 75.2,398.6 76.3,397.9 78.0,397.4 79.0,398.9 80.0,399.9 81.3,403.6 82.7,407.7 83.8,411.7 85.0,416.2 86.0,419.4 87.0,422.1 88.0,426.1 89.0,429.2 90.0,432.0 91.0,435.4 92.0,438.5 93.1,440.9 94.3,444.4 95.4,448.1 96.7,452.0 98.0,456.4 99.3,459.1 100.5,461.5 101.8,465.3 102.9,466.9 103.9,469.9 105.0,471.7 106.1,474.0 107.1,474.9 108.2,477.3 109.2,478.0 110.3,479.5 111.4,480.6 112.6,481.1 113.7,482.1 114.9,482.7 116.0,483.2 117.0,483.1 118.0,483.6 119.0,483.4 120.0,483.2 121.0,483.7 122.0,484.1 123.0,484.0 124.0,484.2 125.0,484.5" fill="none" stroke="#000" stroke-width="1.5" stroke-linejoin="round" stroke-dasharray="1.6,1.2"/>
<polyline points="44.0,477.6 45.0,477.6 45.0,476.8 46.0,476.8 46.0,476.1 47.0,476.1 47.0,476.1 48.0,476.1 48.0,474.9 49.2,474.9 49.2,474.0 50.5,474.0 50.5,472.3 51.7,472.3 51.7,470.5 52.9,470.5 52.9,469.3 54.0,469.3 54.0,464.9 55.0,464.9 55.0,459.8 56.0,459.8 56.0,453.1 57.1,453.1 57.1,445.6 59.0,445.6 59.0,436.9 60.2,436.9 60.2,433.0 61.4,433.0 61.4,429.3 63.0,429.3 63.0,418.4 64.3,418.4 64.3,409.3 65.7,409.3 65.7,401.5 67.5,401.5 67.5,395.2 69.0,395.2 69.0,390.6 70.0,390.6 70.0,390.2 71.0,390.2 71.0,389.3 72.0,389.3 72.0,391.3 73.0,391.3 73.0,391.9 74.1,391.9 74.1,391.9 75.2,391.9 75.2,393.2 77.0,393.2 77.0,391.1 78.4,391.1 78.4,394.8 79.5,394.8 79.5,404.3 80.6,404.3 80.6,416.2 81.8,416.2 81.8,421.3 83.0,421.3 83.0,426.2 84.3,426.2 84.3,430.9 85.6,430.9 85.6,434.9 86.9,434.9 86.9,439.3 87.9,439.3 87.9,443.4 89.0,443.4 89.0,446.7 90.0,446.7 90.0,449.6 91.1,449.6 91.1,454.1 92.2,454.1 92.2,457.8 93.3,457.8 93.3,460.9 94.7,460.9 94.7,464.2 96.0,464.2 96.0,467.8 97.2,467.8 97.2,470.9 98.5,470.9 98.5,473.3 99.7,473.3 99.7,475.3 100.8,475.3 100.8,477.2 101.9,477.2 101.9,479.0 103.0,479.0 103.0,480.4 104.0,480.4 104.0,480.7 105.0,480.7 105.0,481.8 106.0,481.8 106.0,482.8 107.0,482.8 107.0,483.1 108.0,483.1 108.0,483.3 109.0,483.3 109.0,483.3 110.0,483.3 110.0,484.0 111.0,484.0 111.0,483.9 112.0,483.9 112.0,484.0 113.0,484.0 113.0,484.0 114.0,484.0 114.0,484.0 115.0,484.0 115.0,484.3 116.0,484.3 116.0,484.4 117.0,484.4 117.0,484.3 118.0,484.3 118.0,484.4 119.0,484.4 119.0,484.0 120.0,484.0 120.0,484.8 121.0,484.8 121.0,484.4 122.0,484.4 122.0,484.2 123.0,484.2 123.0,484.5 124.0,484.5 124.0,484.0 125.0,484.0 125.0,484.0 126.0,484.0 126.0,484.2 127.0,484.2 127.0,484.6 128.0,484.6 128.0,483.9 129.0,483.9 129.0,484.1 130.0,484.1 130.0,484.6 131.0,484.6 131.0,484.0 132.0,484.0 132.0,484.9 133.0,484.9 133.0,484.2 134.0,484.2 134.0,484.7 135.0,484.7 135.0,484.2 136.0,484.2 136.0,484.0 137.0,484.0 137.0,484.1 138.0,484.1 138.0,484.7 139.0,484.7 139.0,485.0 140.0,485.0 140.0,484.6 141.0,484.6 141.0,484.6 142.0,484.6 142.0,484.2 143.0,484.2 143.0,484.7 144.0,484.7 144.0,484.0 145.0,484.0 145.0,484.9 146.0,484.9 146.0,484.8 147.0,484.8 147.0,484.5 148.0,484.5 148.0,485.0 149.0,485.0 149.0,484.6 150.0,484.6 150.0,484.5 151.0,484.5 151.0,484.0 152.0,484.0 152.0,485.0 153.0,485.0 153.0,484.6 154.0,484.6 154.0,484.7 155.0,484.7 155.0,484.1 156.0,484.1 156.0,485.0 157.0,485.0 157.0,484.1 158.0,484.1 158.0,484.4 159.0,484.4 159.0,484.2 160.0,484.2 160.0,485.0 161.0,485.0 161.0,484.5 162.0,484.5 162.0,484.5 163.0,484.5 163.0,484.8 164.0,484.8 164.0,484.2 165.0,484.2 165.0,484.3 166.0,484.5" fill="none" stroke="#000" stroke-width="2.8" stroke-linejoin="round"/>
<line x1="41.00" y1="387.80" x2="41.00" y2="486.50" stroke="#000" stroke-width="2.6"/>
<line x1="42.90" y1="413.00" x2="42.90" y2="485.50" stroke="#000" stroke-width="2.8"/>
<line x1="40.50" y1="485.50" x2="168.20" y2="485.50" stroke="#000" stroke-width="2.2"/>
<line x1="36.00" y1="485.50" x2="41.00" y2="485.50" stroke="#000" stroke-width="1.0"/>
<line x1="37.80" y1="480.64" x2="41.00" y2="480.64" stroke="#000" stroke-width="1.0"/>
<line x1="37.80" y1="475.79" x2="41.00" y2="475.79" stroke="#000" stroke-width="1.0"/>
<line x1="37.80" y1="470.94" x2="41.00" y2="470.94" stroke="#000" stroke-width="1.0"/>
<line x1="37.80" y1="466.08" x2="41.00" y2="466.08" stroke="#000" stroke-width="1.0"/>
<line x1="36.00" y1="461.23" x2="41.00" y2="461.23" stroke="#000" stroke-width="1.0"/>
<line x1="37.80" y1="456.37" x2="41.00" y2="456.37" stroke="#000" stroke-width="1.0"/>
<line x1="37.80" y1="451.51" x2="41.00" y2="451.51" stroke="#000" stroke-width="1.0"/>
<line x1="37.80" y1="446.66" x2="41.00" y2="446.66" stroke="#000" stroke-width="1.0"/>
<line x1="37.80" y1="441.81" x2="41.00" y2="441.81" stroke="#000" stroke-width="1.0"/>
<line x1="36.00" y1="436.95" x2="41.00" y2="436.95" stroke="#000" stroke-width="1.0"/>
<line x1="37.80" y1="432.09" x2="41.00" y2="432.09" stroke="#000" stroke-width="1.0"/>
<line x1="37.80" y1="427.24" x2="41.00" y2="427.24" stroke="#000" stroke-width="1.0"/>
<line x1="37.80" y1="422.38" x2="41.00" y2="422.38" stroke="#000" stroke-width="1.0"/>
<line x1="37.80" y1="417.53" x2="41.00" y2="417.53" stroke="#000" stroke-width="1.0"/>
<line x1="36.00" y1="412.67" x2="41.00" y2="412.67" stroke="#000" stroke-width="1.0"/>
<line x1="37.80" y1="407.82" x2="41.00" y2="407.82" stroke="#000" stroke-width="1.0"/>
<line x1="37.80" y1="402.96" x2="41.00" y2="402.96" stroke="#000" stroke-width="1.0"/>
<line x1="37.80" y1="398.11" x2="41.00" y2="398.11" stroke="#000" stroke-width="1.0"/>
<line x1="37.80" y1="393.25" x2="41.00" y2="393.25" stroke="#000" stroke-width="1.0"/>
<line x1="36.00" y1="388.40" x2="41.00" y2="388.40" stroke="#000" stroke-width="1.0"/>
<line x1="41.50" y1="485.50" x2="41.50" y2="489.50" stroke="#000" stroke-width="1.0"/>
<line x1="62.87" y1="485.50" x2="62.87" y2="488.30" stroke="#000" stroke-width="1.0"/>
<line x1="75.38" y1="485.50" x2="75.38" y2="488.30" stroke="#000" stroke-width="1.0"/>
<line x1="84.25" y1="485.50" x2="84.25" y2="488.30" stroke="#000" stroke-width="1.0"/>
<line x1="91.13" y1="485.50" x2="91.13" y2="488.30" stroke="#000" stroke-width="1.0"/>
<line x1="96.75" y1="485.50" x2="96.75" y2="488.30" stroke="#000" stroke-width="1.0"/>
<line x1="101.50" y1="485.50" x2="101.50" y2="488.30" stroke="#000" stroke-width="1.0"/>
<line x1="105.62" y1="485.50" x2="105.62" y2="488.30" stroke="#000" stroke-width="1.0"/>
<line x1="109.25" y1="485.50" x2="109.25" y2="488.30" stroke="#000" stroke-width="1.0"/>
<line x1="112.50" y1="485.50" x2="112.50" y2="489.50" stroke="#000" stroke-width="1.0"/>
<line x1="133.87" y1="485.50" x2="133.87" y2="488.30" stroke="#000" stroke-width="1.0"/>
<line x1="146.38" y1="485.50" x2="146.38" y2="488.30" stroke="#000" stroke-width="1.0"/>
<line x1="155.25" y1="485.50" x2="155.25" y2="488.30" stroke="#000" stroke-width="1.0"/>
<line x1="162.13" y1="485.50" x2="162.13" y2="488.30" stroke="#000" stroke-width="1.0"/>
<g font-family='"Liberation Sans", sans-serif' font-weight="bold" stroke="#000" stroke-width="0.25"><text x="33.50" y="504.8" font-size="10" textLength="9.40" lengthAdjust="spacingAndGlyphs">10</text><text x="44.50" y="499.40" font-size="9.00">0</text></g>
<g font-family='"Liberation Sans", sans-serif' font-weight="bold" stroke="#000" stroke-width="0.25"><text x="104.70" y="504.8" font-size="10" textLength="9.40" lengthAdjust="spacingAndGlyphs">10</text><text x="116.70" y="499.40" font-size="9.00">1</text></g>
<text x="32.6" y="392.3" font-family='"Liberation Sans", sans-serif' font-size="9" font-weight="bold" text-anchor="middle" transform="rotate(-90 32.6 392.3)" stroke="#000" stroke-width="0.2">200</text>
<text x="32.6" y="486.8" font-family='"Liberation Sans", sans-serif' font-size="9" font-weight="bold" text-anchor="middle" transform="rotate(-90 32.6 486.8)" stroke="#000" stroke-width="0.2">0</text>
<text x="19.6" y="440.5" font-family='"Liberation Sans", sans-serif' font-size="11" font-weight="bold" text-anchor="middle" transform="rotate(-90 19.6 440.5)" textLength="32" lengthAdjust="spacingAndGlyphs" stroke="#000" stroke-width="0.2">Counts</text>
<line x1="40.00" y1="514.60" x2="167.00" y2="514.60" stroke="#000" stroke-width="2.4"/>
<polygon points="164.5,509.8 175,514.6 164.5,519.4" fill="#000"/>
<text x="99.9" y="535" font-family='"Liberation Serif", serif' font-size="16" font-weight="normal" text-anchor="middle" textLength="83" lengthAdjust="spacingAndGlyphs" stroke="#000" stroke-width="0.25">Nitrotyrosine</text>
<rect x="284.3" y="383.6" width="149.89999999999998" height="100.19999999999999" fill="none" stroke="#222" stroke-width="1"/>
<line x1="280.80" y1="383.60" x2="284.30" y2="383.60" stroke="#222" stroke-width="1"/>
<text x="280.6" y="386.5" font-family='"Liberation Sans", sans-serif' font-size="8.4" font-weight="normal" text-anchor="end" fill="#222">70</text>
<line x1="280.80" y1="408.65" x2="284.30" y2="408.65" stroke="#222" stroke-width="1"/>
<text x="280.6" y="411.55" font-family='"Liberation Sans", sans-serif' font-size="8.4" font-weight="normal" text-anchor="end" fill="#222">60</text>
<line x1="280.80" y1="433.70" x2="284.30" y2="433.70" stroke="#222" stroke-width="1"/>
<text x="280.6" y="436.6" font-family='"Liberation Sans", sans-serif' font-size="8.4" font-weight="normal" text-anchor="end" fill="#222">50</text>
<line x1="280.80" y1="458.75" x2="284.30" y2="458.75" stroke="#222" stroke-width="1"/>
<text x="280.6" y="461.65" font-family='"Liberation Sans", sans-serif' font-size="8.4" font-weight="normal" text-anchor="end" fill="#222">40</text>
<line x1="280.80" y1="483.80" x2="284.30" y2="483.80" stroke="#222" stroke-width="1"/>
<text x="280.6" y="486.7" font-family='"Liberation Sans", sans-serif' font-size="8.4" font-weight="normal" text-anchor="end" fill="#222">30</text>
<rect x="293.2" y="406.1" width="19.4" height="77.7" fill="#fff" stroke="#222" stroke-width="1"/>
<rect x="321.2" y="435.5" width="19.7" height="48.3" fill="url(#hatch)" stroke="#222" stroke-width="1"/>
<rect x="377.2" y="422.2" width="18.9" height="61.6" fill="#fff" stroke="#222" stroke-width="1"/>
<rect x="405" y="417.4" width="19.3" height="66.4" fill="url(#hatch)" stroke="#222" stroke-width="1"/>
<text x="317" y="494.4" font-family='"Liberation Sans", sans-serif' font-size="10" font-weight="normal" text-anchor="middle" fill="#222">CET</text>
<text x="400.3" y="494" font-family='"Liberation Sans", sans-serif' font-size="9.5" font-weight="normal" text-anchor="middle" fill="#222">MITC</text>
<text x="268.2" y="430" font-family='"Liberation Sans", sans-serif' font-size="8.6" font-weight="bold" text-anchor="middle" transform="rotate(-90 268.2 430)" textLength="83" lengthAdjust="spacingAndGlyphs">% of nitrotyrosine</text>
</svg>
</body></html>
